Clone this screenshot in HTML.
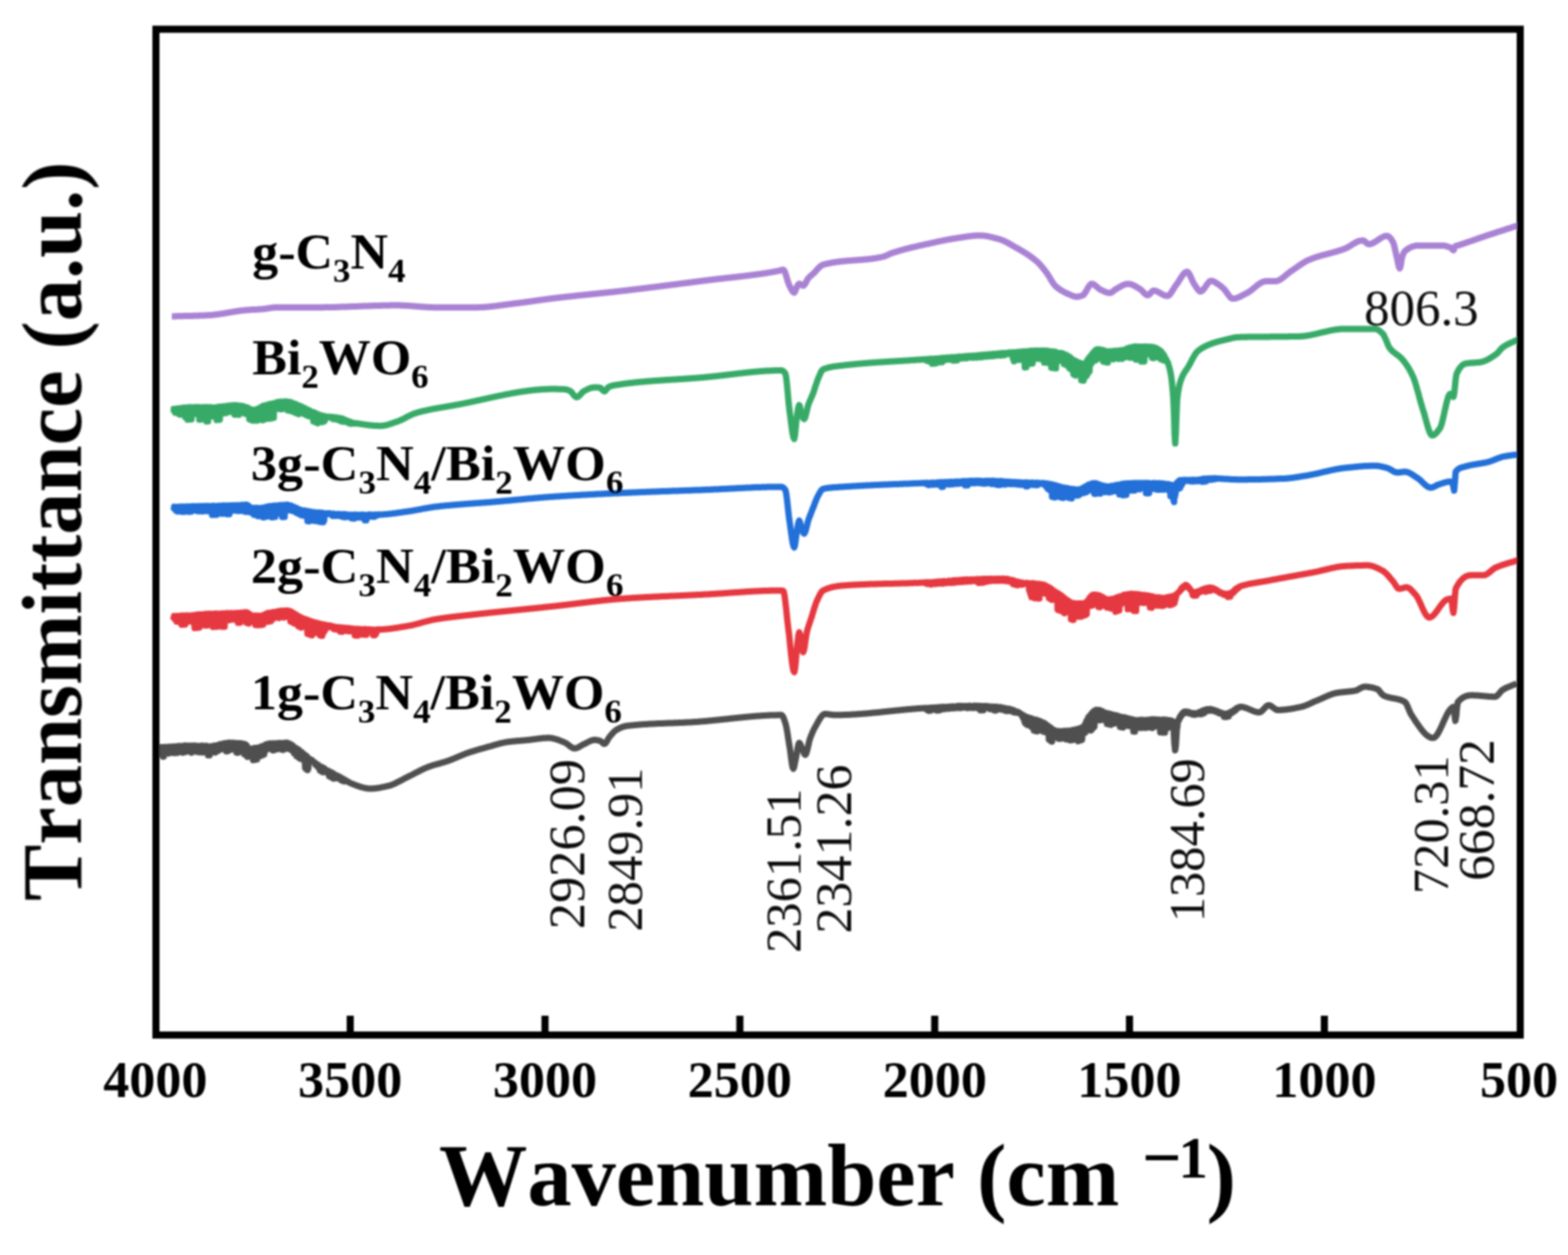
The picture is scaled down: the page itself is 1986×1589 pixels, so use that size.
<!DOCTYPE html>
<html><head><meta charset="utf-8"><title>FTIR spectra</title>
<style>
html,body{margin:0;padding:0;background:#fff;}
body{width:1986px;height:1589px;overflow:hidden;}
svg{display:block;}
#fig{width:1986px;height:1589px;}
text{font-kerning:none;}
</style></head><body>
<div id="fig">
<svg width="1986" height="1589" viewBox="0 0 1986 1589">
<defs><filter id="soft" x="-2%" y="-2%" width="104%" height="104%"><feGaussianBlur stdDeviation="0.9"/></filter></defs>
<rect width="1986" height="1589" fill="#ffffff"/>
<g filter="url(#soft)">
<g fill="none" stroke-width="8" stroke-linejoin="round" stroke-linecap="butt">
<path d="M200.0 946.0L201.0 946.6L201.5 946.9L202.0 946.3L202.5 948.6L203.0 946.1L203.5 950.1L204.0 946.2L204.5 954.0L205.0 946.1L205.5 956.0L206.0 946.1L206.5 958.0L207.0 946.4L207.5 957.9L208.0 946.6L208.5 954.7L209.0 946.4L209.5 953.0L210.0 945.8L210.5 951.3L211.0 946.2L211.5 950.6L212.0 946.2L212.5 952.8L213.0 945.8L213.5 954.1L214.0 945.5L214.5 952.9L215.0 945.8L215.5 952.5L216.0 945.7L216.5 953.1L217.0 945.6L217.5 951.3L218.0 945.4L218.5 951.5L219.0 945.7L219.5 952.0L220.0 945.2L220.5 953.6L221.0 945.5L221.5 953.3L222.0 945.3L222.5 952.9L223.0 945.4L223.5 952.1L224.0 945.4L224.5 953.2L225.0 944.7L225.5 952.5L226.0 944.9L226.5 952.0L227.0 945.2L227.5 952.0L228.0 944.5L228.5 951.7L229.0 944.9L229.5 949.8L230.0 944.7L230.5 952.2L231.0 944.9L231.5 953.1L232.0 944.6L232.5 951.7L233.0 944.3L233.5 951.4L234.0 944.2L234.5 952.3L235.0 944.2L235.5 949.9L236.0 944.2L236.5 949.6L237.0 944.4L237.5 949.3L238.0 944.3L238.5 951.2L239.0 944.5L239.5 950.8L240.0 944.2L240.5 950.0L241.0 944.5L241.5 950.6L242.0 944.2L242.5 952.9L243.0 944.8L243.5 951.8L244.0 944.3L244.5 950.6L245.0 944.8L245.5 950.2L246.0 944.1L246.5 951.3L247.0 944.6L247.5 949.4L248.0 944.8L248.5 951.6L249.0 944.5L249.5 950.5L250.0 945.0L250.5 952.1L251.0 944.5L251.5 949.3L252.0 945.0L252.5 952.4L253.0 944.8L253.5 949.2L254.0 944.6L254.5 951.3L255.0 944.5L255.5 951.1L256.0 944.6L256.5 952.7L257.0 944.5L257.5 951.9L258.0 944.5L258.5 951.8L259.0 944.9L259.5 950.6L260.0 944.9L260.5 950.4L261.0 944.6L261.5 952.3L262.0 944.6L262.5 949.7L263.0 945.1L263.5 956.2L264.0 945.2L264.5 956.2L265.0 945.4L265.5 956.2L266.0 945.3L266.5 951.8L267.0 945.2L267.5 951.0L268.0 945.0L268.5 952.5L269.0 945.2L269.5 950.8L270.0 944.6L270.5 951.2L271.0 944.4L271.5 952.3L272.0 944.1L272.5 952.7L273.0 944.5L273.5 949.1L274.0 944.0L274.5 951.5L275.0 943.9L275.5 950.3L276.0 943.6L276.5 950.1L277.0 942.9L277.5 949.9L278.0 943.1L278.5 948.2L279.0 942.3L279.5 949.0L280.0 942.4L280.5 948.4L281.0 942.4L281.5 947.0L282.0 941.7L282.5 948.1L283.0 941.7L283.5 946.8L284.0 941.3L284.5 946.5L285.0 941.0L285.5 946.1L286.0 941.0L286.5 951.3L287.0 941.0L287.5 951.2L288.0 941.1L288.5 951.1L289.0 940.5L289.5 947.1L290.0 940.5L290.5 945.6L291.0 940.6L291.5 947.1L292.0 941.1L292.5 949.2L293.0 941.0L293.5 947.0L294.0 940.5L294.5 946.4L295.0 940.6L295.5 947.1L296.0 940.7L296.5 948.6L297.0 941.3L297.5 948.2L298.0 940.8L298.5 947.4L299.0 941.4L299.5 952.9L300.0 941.2L300.5 953.0L301.0 941.3L301.5 953.0L302.0 941.1L302.5 946.9L303.0 941.2L303.5 949.6L304.0 941.2L304.5 949.0L305.0 941.2L305.5 951.4L306.0 941.8L306.5 951.5L307.0 941.6L307.5 951.6L308.0 942.1L308.5 951.8L309.0 942.0L309.5 955.0L310.0 942.2L310.5 955.1L311.0 942.8L311.5 955.7L312.0 943.6L312.5 956.8L313.0 945.1L313.5 958.3L314.0 946.9L314.5 951.3L315.0 947.8L315.5 954.4L316.0 948.2L316.5 953.0L317.0 947.9L317.5 956.5L318.0 948.3L318.5 955.7L319.0 948.3L319.5 952.7L320.0 948.2L320.5 962.4L321.0 947.4L321.5 962.3L322.0 947.3L322.5 962.1L323.0 947.0L323.5 961.9L324.0 947.1L324.5 961.8L325.0 947.0L325.5 961.6L326.0 946.9L326.5 952.4L327.0 946.9L327.5 951.5L328.0 946.2L328.5 957.6L329.0 946.3L329.5 957.3L330.0 946.1L330.5 957.0L331.0 945.2L331.5 956.6L332.0 944.9L332.5 956.1L333.0 944.4L333.5 955.7L334.0 944.2L334.5 955.2L335.0 943.9L335.5 951.8L336.0 943.3L336.5 948.3L337.0 942.5L337.5 948.3L338.0 942.3L338.5 948.2L339.0 942.3L339.5 948.3L340.0 942.2L340.5 947.0L341.0 941.5L341.5 946.6L342.0 941.4L342.5 948.1L343.0 941.5L343.5 946.6L344.0 941.7L344.5 948.3L345.0 941.4L345.5 949.9L346.0 941.3L346.5 949.9L347.0 941.3L347.5 947.7L348.0 941.4L348.5 947.1L349.0 941.4L349.5 948.9L350.0 941.6L350.5 947.4L351.0 941.0L351.5 947.7L352.0 941.1L352.5 945.7L353.0 940.8L353.5 947.2L354.0 941.0L354.5 945.7L355.0 941.2L355.5 948.8L356.0 941.3L356.5 948.7L357.0 940.8L357.5 948.8L358.0 941.1L358.5 949.4L359.0 940.9L359.5 948.8L360.0 940.7L360.5 947.5L361.0 940.6L361.5 948.0L362.0 940.8L362.5 946.0L363.0 940.6L363.5 947.4L364.0 940.6L364.5 946.0L365.0 941.2L365.5 947.1L366.0 941.8L366.5 948.5L367.0 941.7L367.5 947.6L368.0 942.5L368.5 949.3L369.0 943.2L369.5 949.0L370.0 943.6L370.5 950.6L371.0 944.6L371.5 950.7L372.0 945.6L372.5 953.8L373.0 946.4L373.5 951.8L374.0 947.0L374.5 953.0L375.0 947.2L375.5 957.2L376.0 948.3L376.5 957.9L377.0 948.9L377.5 958.6L378.0 949.1L378.5 959.3L379.0 950.2L379.5 960.0L380.0 951.2L380.5 960.8L381.0 952.1L381.5 957.5L382.0 952.3L382.5 959.5L383.0 953.1L383.5 958.1L384.0 954.4L384.5 960.1L385.0 955.1L385.5 963.4L386.0 956.1L386.5 972.4L387.0 956.6L387.5 973.3L388.0 957.3L388.5 974.1L389.0 958.2L389.5 975.0L390.0 959.5L390.5 973.0L391.0 960.5L391.5 963.2L392.0 961.1L392.5 964.1L393.0 961.3L393.5 963.9L394.0 962.4L394.5 963.5L395.0 962.9L395.5 962.7L395.9 963.8L396.4 963.7L396.9 964.4L397.4 964.8L397.9 964.9L398.4 965.8L398.9 965.6L399.4 967.9L399.8 966.1L400.3 967.9L400.8 967.4L401.3 969.4L401.8 967.8L402.3 970.8L402.8 968.1L403.3 971.5L403.7 969.1L404.2 972.4L404.7 969.9L405.2 975.3L405.7 970.4L406.2 975.9L406.7 971.0L407.2 976.5L407.6 971.3L408.1 977.1L408.6 971.8L409.1 977.7L409.6 972.8L410.1 975.9L410.6 972.8L411.1 976.7L411.5 974.2L412.0 976.2L412.5 974.7L413.0 976.7L413.5 975.1L414.0 978.1L414.5 975.5L415.0 978.3L415.4 975.7L415.9 979.1L416.4 976.4L416.9 982.7L417.4 977.0L417.9 983.2L418.4 977.9L418.9 983.7L419.3 977.9L419.8 984.3L420.3 978.3L420.8 984.8L421.3 978.9L421.8 985.3L422.3 979.7L422.8 985.8L423.3 980.3L423.8 982.8L424.2 980.6L424.7 983.7L425.2 981.2L425.7 983.3L426.2 981.8L426.7 985.3L427.2 982.0L427.7 984.9L428.2 982.7L428.7 985.6L429.1 983.0L429.6 985.9L430.1 983.4L430.6 986.2L431.1 984.2L431.6 986.1L432.1 984.6L432.6 988.2L433.0 985.4L433.5 988.3L434.0 986.2L434.5 988.0L435.0 986.1L435.5 989.1L436.0 987.0L436.5 989.1L437.0 987.9L437.5 989.1L438.0 987.9L438.5 989.2L439.0 989.3L439.5 989.1L440.0 989.2L441.0 989.9L442.0 990.5L443.0 991.1L444.0 991.6L445.0 992.0L446.0 992.4L447.0 992.8L447.9 993.1L448.9 993.5L449.9 993.9L450.9 994.3L451.9 994.6L452.8 995.0L453.8 995.3L454.8 995.7L455.8 996.0L456.8 996.3L457.7 996.6L458.7 996.9L459.7 997.1L460.7 997.4L461.7 997.6L462.6 997.8L463.6 998.0L464.6 998.1L465.6 998.3L466.6 998.4L467.5 998.4L468.5 998.5L469.5 998.5L470.5 998.5L471.5 998.5L472.4 998.4L473.4 998.3L474.4 998.3L475.4 998.2L476.3 998.1L477.3 997.9L478.3 997.8L479.3 997.6L480.3 997.5L481.2 997.3L482.2 997.1L483.2 996.9L484.2 996.7L485.2 996.5L486.1 996.3L487.1 996.1L488.1 995.9L489.1 995.7L490.0 995.5L491.0 995.2L492.0 995.0L493.0 994.8L494.0 994.5L495.0 994.2L496.0 993.8L497.0 993.4L498.0 993.0L499.0 992.6L500.0 992.2L501.0 991.7L502.0 991.2L503.0 990.7L504.0 990.2L505.0 989.7L506.0 989.2L507.0 988.6L508.0 988.1L509.0 987.6L510.0 987.0L511.0 986.5L512.0 985.9L513.0 985.4L514.0 984.9L515.0 984.4L516.0 983.9L517.0 983.4L518.0 982.9L519.0 982.4L519.9 982.0L520.9 981.5L521.9 981.0L522.9 980.5L523.9 980.0L524.8 979.4L525.8 978.9L526.8 978.4L527.8 977.9L528.8 977.4L529.8 976.9L530.7 976.4L531.7 975.9L532.7 975.4L533.7 974.9L534.7 974.4L535.6 973.9L536.6 973.5L537.6 973.0L538.6 972.6L539.6 972.2L540.5 971.8L541.5 971.4L542.5 971.0L543.5 970.6L544.4 970.3L545.4 970.0L546.4 969.6L547.3 969.3L548.3 969.0L549.3 968.7L550.2 968.4L551.2 968.2L552.2 967.9L553.1 967.6L554.1 967.3L555.0 967.1L556.0 966.8L557.0 966.5L557.9 966.3L558.9 966.0L559.9 965.7L560.8 965.4L561.8 965.1L562.8 964.9L563.7 964.6L564.7 964.3L565.7 963.9L566.6 963.6L567.6 963.3L568.6 963.0L569.5 962.6L570.5 962.2L571.5 961.9L572.4 961.5L573.4 961.1L574.4 960.7L575.4 960.3L576.3 959.9L577.3 959.5L578.3 959.1L579.2 958.6L580.2 958.2L581.2 957.8L582.1 957.4L583.1 957.0L584.1 956.6L585.0 956.2L586.0 955.8L587.0 955.4L588.0 955.0L588.9 954.6L589.9 954.2L590.9 953.9L591.8 953.5L592.8 953.2L593.8 952.9L594.7 952.5L595.7 952.2L596.7 951.9L597.6 951.6L598.6 951.3L599.6 951.0L600.6 950.7L601.5 950.4L602.5 950.1L603.5 949.8L604.4 949.5L605.4 949.2L606.4 949.0L607.3 948.7L608.3 948.4L609.3 948.1L610.2 947.8L611.2 947.6L612.2 947.3L613.2 947.0L614.1 946.8L615.1 946.5L616.1 946.2L617.0 946.0L618.0 945.7L619.0 945.4L620.0 945.1L621.0 944.9L622.0 944.6L623.0 944.3L624.0 944.0L625.0 943.7L626.0 943.4L627.0 943.1L628.0 942.8L629.0 942.5L630.0 942.3L631.0 942.0L632.0 941.7L633.0 941.5L634.0 941.2L635.0 941.0L636.0 940.7L637.0 940.5L638.0 940.3L639.0 940.1L640.0 939.9L641.0 939.7L642.0 939.5L643.0 939.4L644.0 939.3L645.0 939.1L646.0 939.0L647.0 938.9L648.0 938.8L649.0 938.7L650.0 938.6L651.0 938.5L652.0 938.4L653.0 938.3L654.0 938.2L655.0 938.1L656.0 938.0L657.0 937.9L658.0 937.9L659.0 937.8L660.0 937.7L661.0 937.6L662.0 937.5L663.0 937.5L664.0 937.4L665.0 937.3L666.0 937.2L667.0 937.1L668.0 937.0L669.0 936.9L670.0 936.8L671.0 936.7L672.0 936.6L673.0 936.4L674.0 936.3L675.0 936.2L676.0 936.0L677.0 935.9L678.0 935.8L679.0 935.6L680.0 935.5L681.0 935.4L682.0 935.3L683.0 935.1L684.0 935.0L685.0 934.9L686.0 934.8L687.0 934.7L688.0 934.6L689.0 934.5L690.0 934.5L691.0 934.4L692.0 934.4L693.0 934.3L694.0 934.3L695.0 934.3L696.0 934.3L697.0 934.4L698.0 934.5L699.0 934.6L700.0 934.8L701.0 935.0L702.0 935.3L703.0 935.6L704.0 935.8L705.0 936.2L706.0 936.5L707.0 936.9L708.0 937.2L709.0 937.6L710.0 938.0L711.0 938.4L712.0 938.8L713.0 939.2L714.0 939.6L715.0 940.0L716.0 940.5L717.0 941.0L718.0 941.7L718.9 942.4L719.9 943.2L720.9 944.0L721.9 944.8L722.9 945.5L723.9 946.1L724.8 946.7L725.8 947.1L726.8 947.4L727.8 947.5L728.7 947.4L729.7 947.3L730.6 947.0L731.6 946.6L732.5 946.2L733.4 945.7L734.4 945.1L735.3 944.6L736.2 944.0L737.2 943.5L738.1 942.9L739.1 942.4L740.0 942.0L741.0 941.6L742.0 941.1L743.0 940.5L744.0 940.0L745.0 939.5L746.0 939.0L747.0 938.5L748.0 938.0L749.0 937.6L750.0 937.3L751.0 937.0L752.0 936.9L753.0 936.8L754.0 936.8L755.0 936.9L756.0 937.1L757.0 937.3L758.0 937.5L759.0 937.7L760.0 938.0L760.9 938.5L761.9 939.2L762.8 940.1L763.7 940.9L764.7 941.6L765.6 941.8L766.5 941.4L767.4 940.5L768.3 939.1L769.3 937.5L770.2 935.8L771.1 934.3L772.0 933.0L773.0 931.9L773.9 930.7L774.9 929.6L775.9 928.5L776.8 927.4L777.8 926.5L778.8 925.6L779.7 924.8L780.7 924.2L781.7 923.6L782.6 923.1L783.6 922.6L784.6 922.1L785.5 921.6L786.5 921.2L787.5 920.8L788.5 920.4L789.4 920.1L790.4 919.8L791.4 919.5L792.3 919.3L793.3 919.2L794.3 919.1L795.3 919.0L796.3 918.8L797.3 918.7L798.2 918.6L799.2 918.5L800.2 918.4L801.2 918.3L802.2 918.2L803.2 918.1L804.2 918.0L805.2 917.9L806.2 917.8L807.2 917.7L808.1 917.7L809.1 917.6L810.1 917.5L811.1 917.4L812.1 917.3L813.1 917.3L814.1 917.2L815.1 917.1L816.1 917.1L817.1 917.0L818.0 916.9L819.0 916.9L820.0 916.8L821.0 916.7L822.0 916.7L823.0 916.6L824.0 916.6L825.0 916.5L826.0 916.5L827.0 916.4L827.9 916.4L828.9 916.3L829.9 916.3L830.9 916.2L831.9 916.2L832.9 916.1L833.9 916.1L834.9 916.1L835.9 916.0L836.9 916.0L837.8 915.9L838.8 915.9L839.8 915.9L840.8 915.8L841.8 915.8L842.8 915.7L843.8 915.7L844.8 915.7L845.8 915.6L846.8 915.6L847.7 915.6L848.7 915.5L849.7 915.5L850.7 915.5L851.7 915.4L852.7 915.4L853.7 915.3L854.7 915.3L855.7 915.3L856.7 915.2L857.6 915.2L858.6 915.2L859.6 915.1L860.6 915.1L861.6 915.0L862.6 915.0L863.6 915.0L864.6 914.9L865.6 914.9L866.6 914.8L867.5 914.8L868.5 914.7L869.5 914.7L870.5 914.6L871.5 914.6L872.5 914.5L873.5 914.5L874.5 914.4L875.5 914.4L876.5 914.3L877.4 914.3L878.4 914.2L879.4 914.1L880.4 914.1L881.4 914.0L882.4 913.9L883.4 913.9L884.4 913.8L885.4 913.7L886.4 913.6L887.4 913.6L888.4 913.5L889.3 913.4L890.3 913.3L891.3 913.2L892.3 913.2L893.3 913.1L894.3 913.0L895.3 912.9L896.3 912.8L897.3 912.7L898.3 912.6L899.3 912.5L900.3 912.4L901.3 912.3L902.3 912.2L903.3 912.1L904.3 912.0L905.2 911.9L906.2 911.8L907.2 911.7L908.2 911.6L909.2 911.5L910.2 911.4L911.2 911.3L912.2 911.2L913.2 911.1L914.2 911.0L915.2 910.9L916.2 910.8L917.2 910.7L918.2 910.6L919.2 910.5L920.1 910.4L921.1 910.3L922.1 910.2L923.1 910.1L924.1 909.9L925.1 909.8L926.1 909.7L927.1 909.6L928.1 909.5L929.1 909.4L930.1 909.3L931.1 909.2L932.1 909.1L933.1 909.0L934.1 908.9L935.1 908.8L936.0 908.7L937.0 908.6L938.0 908.5L939.0 908.4L940.0 908.3L941.0 908.2L942.0 908.1L943.0 908.0L944.0 907.9L945.0 907.8L946.0 907.7L947.0 907.6L948.0 907.5L949.0 907.4L950.0 907.3L951.0 907.2L951.9 907.2L952.9 907.1L953.9 907.0L954.9 906.9L955.9 906.8L956.9 906.7L957.9 906.7L958.9 906.6L959.9 906.5L960.9 906.4L961.9 906.4L962.9 906.3L963.9 906.2L964.9 906.2L965.9 906.1L966.8 906.0L967.8 906.0L968.8 905.9L969.8 905.9L970.8 905.8L971.8 905.8L972.8 905.7L973.8 905.7L974.8 905.6L975.8 905.6L976.8 905.5L977.8 905.5L978.8 905.5L979.8 905.5L980.8 905.4L981.8 905.4L982.7 905.4L983.7 905.4L984.7 905.3L985.7 905.3L986.7 905.3L987.7 905.3L988.7 905.3L989.7 905.3L990.7 905.9L991.7 907.4L992.7 909.7L993.7 912.5L994.7 915.4L995.6 918.7L996.5 923.1L997.4 928.4L998.2 934.0L999.1 939.6L1000.0 945.0L1001.0 951.5L1001.9 958.9L1002.9 966.0L1003.8 971.2L1004.8 973.3L1005.6 971.9L1006.4 968.4L1007.2 964.0L1008.0 960.0L1008.9 955.6L1009.7 950.5L1010.6 945.6L1011.4 942.0L1012.3 940.6L1013.2 941.4L1014.1 943.4L1015.1 945.8L1016.0 948.0L1017.0 950.3L1018.0 952.8L1018.9 954.9L1019.9 955.7L1020.8 954.8L1021.6 952.6L1022.5 949.3L1023.4 945.5L1024.3 941.5L1025.1 937.9L1026.0 935.0L1026.9 932.5L1027.9 930.2L1028.8 928.0L1029.7 925.8L1030.6 923.9L1031.6 922.1L1032.5 920.4L1033.5 918.7L1034.4 917.0L1035.4 915.3L1036.3 913.6L1037.3 911.9L1038.3 910.3L1039.2 908.8L1040.2 907.5L1041.2 906.3L1042.1 905.3L1043.1 904.6L1044.0 904.2L1045.0 904.0L1046.0 904.0L1046.9 904.1L1047.9 904.2L1048.9 904.3L1049.8 904.4L1050.8 904.6L1051.8 904.7L1052.8 904.9L1053.7 905.0L1054.7 905.1L1055.7 905.2L1056.6 905.3L1057.6 905.3L1058.6 905.3L1059.6 905.3L1060.6 905.3L1061.6 905.3L1062.6 905.3L1063.6 905.2L1064.6 905.2L1065.6 905.2L1066.6 905.2L1067.5 905.2L1068.5 905.1L1069.5 905.1L1070.5 905.1L1071.5 905.0L1072.5 905.0L1073.5 904.9L1074.5 904.9L1075.5 904.9L1076.5 904.8L1077.5 904.8L1078.5 904.7L1079.5 904.6L1080.5 904.6L1081.5 904.5L1082.5 904.5L1083.5 904.4L1084.5 904.3L1085.5 904.3L1086.4 904.2L1087.4 904.1L1088.4 904.1L1089.4 904.0L1090.4 903.9L1091.4 903.8L1092.4 903.8L1093.4 903.7L1094.4 903.6L1095.4 903.5L1096.4 903.4L1097.4 903.4L1098.4 903.3L1099.4 903.2L1100.4 903.1L1101.4 903.0L1102.4 902.9L1103.4 902.8L1104.4 902.7L1105.3 902.6L1106.3 902.5L1107.3 902.4L1108.3 902.3L1109.3 902.2L1110.3 902.2L1111.3 902.1L1112.3 902.0L1113.3 901.9L1114.3 901.8L1115.3 901.7L1116.3 901.6L1117.3 901.4L1118.3 901.3L1119.3 901.2L1120.3 901.1L1121.3 901.0L1122.3 900.9L1123.2 900.8L1124.2 900.7L1125.2 900.6L1126.2 900.5L1127.2 900.4L1128.2 900.3L1129.2 900.2L1130.2 900.1L1131.2 900.0L1132.2 899.9L1133.2 899.8L1134.2 899.7L1135.2 899.6L1136.2 899.5L1137.2 899.4L1138.2 899.3L1139.2 899.2L1140.2 899.1L1141.2 899.0L1142.1 898.9L1143.1 898.8L1144.1 898.7L1145.1 898.6L1146.1 898.5L1147.1 898.4L1148.1 898.3L1149.1 898.2L1150.1 898.1L1151.1 898.0L1152.1 898.0L1153.1 897.9L1154.1 897.8L1155.1 897.7L1156.1 897.6L1157.1 897.5L1158.1 897.5L1159.1 897.4L1160.1 897.3L1161.0 897.2L1162.0 897.1L1163.0 897.1L1164.0 897.0L1165.0 896.9L1166.0 896.9L1167.0 896.8L1168.0 896.7L1169.0 896.7L1170.0 896.6L1171.0 896.9L1171.5 897.0L1172.0 897.0L1172.5 897.3L1173.0 896.4L1173.5 898.3L1174.0 896.6L1174.5 898.8L1175.0 897.0L1175.5 899.4L1176.0 896.7L1176.5 900.0L1177.0 896.2L1177.5 899.9L1178.0 896.7L1178.5 899.8L1179.0 896.8L1179.5 898.9L1180.0 896.0L1180.5 898.9L1181.0 896.6L1181.5 898.4L1182.0 896.3L1182.5 897.5L1183.0 896.1L1183.5 898.4L1184.0 896.2L1184.5 898.1L1185.0 895.9L1185.5 897.9L1186.0 895.7L1186.5 899.6L1187.0 896.1L1187.5 899.5L1188.0 895.7L1188.5 899.5L1189.0 895.5L1189.5 899.4L1190.0 895.5L1190.5 899.3L1191.0 895.6L1191.5 897.2L1192.0 895.5L1192.5 897.4L1193.0 895.7L1193.5 897.0L1194.0 895.4L1194.5 897.8L1195.0 895.0L1195.5 897.9L1196.0 895.3L1196.5 897.8L1197.0 895.3L1197.5 897.1L1198.0 895.4L1198.5 897.4L1199.0 895.3L1199.5 897.2L1200.0 895.1L1200.5 896.4L1201.0 895.0L1201.5 897.1L1202.0 894.7L1202.5 897.3L1203.0 894.9L1203.5 896.5L1204.0 894.8L1204.5 896.8L1205.0 894.8L1205.5 896.3L1206.0 894.6L1206.5 896.1L1207.0 894.4L1207.5 896.9L1208.0 894.8L1208.5 895.9L1209.0 894.8L1209.5 896.4L1210.0 894.6L1210.5 896.5L1211.0 894.6L1211.5 896.4L1212.0 894.4L1212.5 895.7L1213.0 894.3L1213.5 896.2L1214.0 893.9L1214.5 895.7L1215.0 893.8L1215.5 896.4L1216.0 894.4L1216.5 895.7L1217.0 894.1L1217.5 896.4L1218.0 893.9L1218.5 896.1L1219.0 894.2L1219.5 895.6L1220.0 894.0L1220.5 895.7L1221.0 894.2L1221.5 895.3L1222.0 894.3L1222.5 895.5L1223.0 894.2L1223.5 895.3L1224.0 893.9L1224.5 896.0L1225.0 894.3L1225.5 896.5L1226.0 894.2L1226.5 896.3L1227.0 894.0L1227.5 895.8L1228.0 893.6L1228.5 895.4L1229.0 894.3L1229.5 895.9L1230.0 894.1L1230.5 896.2L1231.0 894.2L1231.5 895.5L1232.0 894.1L1232.5 896.0L1233.0 893.7L1233.5 896.4L1234.0 893.7L1234.5 895.6L1235.0 893.6L1235.5 895.5L1236.0 894.1L1236.5 895.3L1237.0 893.7L1237.5 896.4L1238.0 894.1L1238.5 896.2L1239.0 893.8L1239.5 895.3L1240.0 894.2L1240.5 896.2L1241.0 893.9L1241.5 899.2L1242.0 894.0L1242.5 899.2L1243.0 894.1L1243.5 899.2L1244.0 894.0L1244.5 899.3L1245.0 894.3L1245.5 899.3L1246.0 894.5L1246.5 896.4L1247.0 894.0L1247.5 896.7L1248.0 894.3L1248.5 896.1L1249.0 894.2L1249.5 895.8L1250.0 894.1L1250.5 896.0L1251.0 894.6L1251.5 895.8L1252.0 894.3L1252.5 896.8L1253.0 894.7L1253.5 897.7L1254.0 894.7L1254.5 897.8L1255.0 894.7L1255.5 897.8L1256.0 894.8L1256.5 897.9L1257.0 895.0L1257.5 897.4L1258.0 894.7L1258.5 896.9L1259.0 895.3L1259.5 899.4L1260.0 895.1L1260.5 899.5L1261.0 895.2L1261.5 899.6L1262.0 894.8L1262.5 897.3L1263.0 895.5L1263.5 897.8L1264.0 895.4L1264.5 897.9L1265.0 895.7L1265.5 897.4L1266.0 895.7L1266.5 897.9L1267.0 895.3L1267.5 897.3L1268.0 896.2L1268.5 898.4L1269.0 895.9L1269.5 897.4L1270.0 896.1L1270.5 898.7L1271.0 896.7L1271.5 897.9L1272.0 896.3L1272.5 898.0L1273.0 896.8L1273.5 899.9L1274.0 897.3L1274.5 900.1L1275.0 897.4L1275.5 900.3L1276.0 897.2L1276.5 899.8L1277.0 897.9L1277.5 899.6L1278.0 897.6L1278.5 899.9L1279.0 898.2L1279.5 900.0L1280.0 897.9L1280.5 900.5L1281.0 898.7L1281.5 900.4L1282.0 898.6L1282.5 900.3L1283.0 899.3L1283.5 900.7L1284.0 899.2L1284.5 901.9L1285.0 899.6L1285.5 901.0L1286.0 900.5L1286.5 901.8L1287.0 900.7L1287.5 902.2L1288.0 901.4L1288.5 902.4L1289.0 901.5L1289.5 902.1L1290.0 901.7L1290.5 902.4L1291.0 902.4L1291.5 902.7L1292.0 902.8L1293.0 904.0L1293.5 905.2L1294.0 904.6L1294.5 906.1L1295.0 905.0L1295.5 908.7L1296.0 905.6L1296.5 909.6L1297.0 905.9L1297.5 913.4L1298.0 907.1L1298.5 915.8L1299.0 907.6L1299.5 915.0L1300.0 907.8L1300.5 917.2L1301.0 908.0L1301.5 918.1L1302.0 908.6L1302.5 915.8L1303.0 908.7L1303.5 914.6L1304.0 909.5L1304.5 916.9L1305.0 909.4L1305.5 919.0L1306.0 909.6L1306.5 920.5L1307.0 910.3L1307.5 919.7L1308.0 910.5L1308.5 920.0L1309.0 911.1L1309.5 924.9L1310.0 910.9L1310.5 925.2L1311.0 911.5L1311.5 925.5L1312.0 911.3L1312.5 925.8L1313.0 912.3L1313.5 926.1L1314.0 912.5L1314.5 922.3L1315.0 912.3L1315.5 918.6L1316.0 912.7L1316.5 924.2L1317.0 913.2L1317.5 924.5L1318.0 913.4L1318.5 924.9L1319.0 914.3L1319.5 925.3L1320.0 914.4L1320.5 925.7L1321.0 915.3L1321.5 926.3L1322.0 915.3L1322.5 926.8L1323.0 915.9L1323.5 923.8L1324.0 916.6L1324.5 924.0L1325.0 917.5L1325.5 924.0L1326.0 918.6L1326.5 927.0L1327.0 919.0L1327.5 929.3L1328.0 919.5L1328.5 936.1L1329.0 920.5L1329.5 936.8L1330.0 921.0L1330.5 937.5L1331.0 922.3L1331.5 938.3L1332.0 922.6L1332.5 938.9L1333.0 923.6L1333.5 930.1L1334.0 924.2L1334.5 933.9L1335.0 924.6L1335.5 933.3L1336.0 924.7L1336.5 930.7L1337.0 925.6L1337.5 931.4L1338.0 925.8L1338.5 931.9L1339.0 926.1L1339.5 934.0L1340.0 925.8L1340.5 935.2L1341.0 926.2L1341.5 933.3L1342.0 925.8L1342.5 935.6L1343.0 926.0L1343.5 935.2L1344.0 926.5L1344.5 933.2L1345.0 925.7L1345.5 933.8L1346.0 926.4L1346.5 934.2L1347.0 926.3L1347.5 934.7L1348.0 925.6L1348.5 934.6L1349.0 925.6L1349.5 935.9L1350.0 925.9L1350.5 932.6L1351.0 925.5L1351.5 936.2L1352.0 925.4L1352.5 931.8L1353.0 925.4L1353.5 934.5L1354.0 925.2L1354.5 934.0L1355.0 925.6L1355.5 937.4L1356.0 925.4L1356.5 937.3L1357.0 925.1L1357.5 937.1L1358.0 924.5L1358.5 937.0L1359.0 924.4L1359.5 931.4L1360.0 924.5L1360.5 933.9L1361.0 924.2L1361.5 930.6L1362.0 923.8L1362.5 933.4L1363.0 923.5L1363.5 931.9L1364.0 923.9L1364.5 931.6L1365.0 923.1L1365.5 938.4L1366.0 922.8L1366.5 938.1L1367.0 922.9L1367.5 937.8L1368.0 922.4L1368.5 937.4L1369.0 921.9L1369.5 937.1L1370.0 921.3L1370.5 936.7L1371.0 921.4L1371.5 930.1L1372.0 920.4L1372.5 927.9L1373.0 919.2L1373.5 926.7L1374.0 917.8L1374.5 927.7L1375.0 915.8L1375.5 924.5L1376.0 913.1L1376.5 921.9L1377.0 911.6L1377.5 921.8L1378.0 909.6L1378.5 916.7L1379.0 907.4L1379.5 915.1L1380.0 906.8L1380.5 913.2L1381.0 905.7L1381.5 924.8L1381.9 904.5L1382.4 923.8L1382.8 903.2L1383.3 922.7L1383.8 902.5L1384.3 921.8L1384.8 901.1L1385.2 920.9L1385.7 900.7L1386.2 920.0L1386.7 899.7L1387.2 907.5L1387.6 899.6L1388.1 905.9L1388.5 898.8L1389.0 911.8L1389.5 899.3L1390.0 911.7L1390.4 899.1L1390.9 911.7L1391.4 899.6L1391.9 911.8L1392.3 899.1L1392.8 912.1L1393.2 899.4L1393.7 906.3L1394.2 899.7L1394.7 907.0L1395.1 900.3L1395.6 908.5L1396.0 900.5L1396.5 908.0L1396.9 901.5L1397.4 911.5L1397.9 901.9L1398.4 909.1L1398.8 902.2L1399.3 911.4L1399.7 902.2L1400.2 911.0L1400.7 902.9L1401.2 911.2L1401.6 903.1L1402.1 916.5L1402.6 903.4L1403.1 916.8L1403.5 903.2L1404.0 917.0L1404.5 904.2L1405.0 917.3L1405.5 903.8L1406.0 917.6L1406.5 904.1L1407.0 917.8L1407.4 904.5L1407.9 912.6L1408.4 905.0L1408.9 910.8L1409.4 904.9L1409.9 911.5L1410.3 905.7L1410.8 913.0L1411.3 905.3L1411.8 916.0L1412.3 905.9L1412.8 912.3L1413.3 905.7L1413.8 914.6L1414.2 906.2L1414.7 912.2L1415.2 906.7L1415.7 915.2L1416.2 906.5L1416.7 915.8L1417.1 907.3L1417.6 913.3L1418.1 907.2L1418.6 920.3L1419.1 907.6L1419.6 920.6L1420.1 907.7L1420.6 920.8L1421.0 908.3L1421.5 921.0L1422.0 908.5L1422.5 921.2L1423.0 908.3L1423.5 915.5L1424.0 908.3L1424.5 918.8L1425.0 908.7L1425.5 914.6L1426.0 909.3L1426.5 918.3L1427.0 909.0L1427.5 918.5L1428.0 909.7L1428.5 917.7L1429.0 910.2L1429.5 919.3L1430.0 910.4L1430.5 919.1L1431.0 910.1L1431.5 916.5L1432.0 910.5L1432.5 919.5L1433.0 911.2L1433.5 919.8L1434.0 910.8L1434.5 920.7L1435.0 911.2L1435.5 926.0L1436.0 911.5L1436.5 926.2L1437.0 911.7L1437.5 926.3L1438.0 911.9L1438.5 921.1L1439.0 911.7L1439.5 920.9L1440.0 912.1L1440.5 918.7L1441.0 911.9L1441.5 920.3L1442.0 912.2L1442.5 918.6L1443.0 911.7L1443.5 921.2L1444.0 911.7L1444.5 921.7L1445.0 911.8L1445.5 921.4L1446.0 911.7L1446.5 919.9L1447.0 911.6L1447.5 917.9L1448.0 912.1L1448.5 921.6L1449.0 911.9L1449.5 921.5L1450.0 911.7L1450.5 921.5L1451.0 911.9L1451.5 921.4L1452.0 911.8L1452.5 921.3L1453.0 911.4L1453.5 921.2L1454.0 911.8L1454.5 920.9L1455.0 911.4L1455.5 920.8L1456.0 911.3L1456.5 920.7L1457.0 911.5L1457.5 920.7L1458.0 911.2L1458.5 921.3L1459.0 910.8L1459.5 921.8L1460.0 911.3L1460.5 919.3L1461.0 911.1L1461.5 916.9L1462.0 910.8L1462.5 918.7L1463.0 910.9L1463.5 919.7L1464.0 911.3L1464.5 917.9L1465.0 911.2L1465.5 919.5L1466.0 911.3L1466.5 917.9L1467.0 911.4L1467.5 919.1L1468.0 911.2L1468.5 917.6L1469.0 911.4L1469.5 927.2L1470.0 911.7L1470.5 927.2L1471.0 911.5L1471.5 927.3L1472.0 911.4L1472.5 927.4L1473.0 911.3L1473.5 927.4L1474.0 911.3L1474.5 927.5L1475.0 911.5L1475.5 927.6L1476.0 911.6L1476.5 919.7L1477.0 911.6L1477.5 920.8L1478.0 911.8L1478.5 921.4L1479.0 911.7L1479.5 921.6L1480.0 912.1L1480.5 918.5L1480.9 912.0L1481.4 920.6L1481.8 912.4L1482.3 917.7L1482.8 912.6L1483.2 918.0L1483.7 912.6L1484.2 915.0L1484.6 912.8L1485.1 914.6L1485.5 913.5L1486.0 913.6L1486.5 922.8L1487.4 940.5L1488.4 950.0L1489.2 944.8L1490.0 933.0L1490.7 921.2L1491.2 921.0L1491.5 914.3L1492.0 914.5L1492.5 911.9L1493.0 912.2L1493.4 909.7L1493.9 910.5L1494.4 908.1L1494.9 908.7L1495.3 906.3L1495.8 907.2L1496.3 905.2L1496.8 905.7L1497.2 903.7L1497.7 904.8L1498.2 902.9L1498.7 903.6L1499.1 901.7L1499.6 903.4L1500.1 901.3L1500.6 902.3L1501.0 901.1L1501.5 902.2L1502.0 901.3L1502.5 902.2L1503.0 901.2L1503.5 902.4L1504.0 901.4L1504.5 902.1L1505.0 901.6L1505.5 902.4L1506.0 901.6L1506.5 903.2L1507.0 902.3L1507.5 903.4L1508.0 902.5L1508.5 903.8L1509.0 903.3L1509.5 904.0L1510.0 903.4L1510.5 904.7L1511.0 903.3L1511.5 904.6L1512.0 903.2L1512.5 904.2L1513.0 903.2L1513.5 905.0L1514.0 903.3L1514.5 904.4L1514.9 903.4L1515.4 904.6L1515.9 903.3L1516.4 904.1L1516.9 903.0L1517.4 904.0L1517.9 902.4L1518.4 903.8L1518.8 901.7L1519.3 903.5L1519.8 901.5L1520.3 903.0L1520.8 901.3L1521.3 904.4L1521.8 900.6L1522.3 904.0L1522.7 900.7L1523.2 903.6L1523.7 899.9L1524.2 903.3L1524.7 899.4L1525.2 902.9L1525.7 899.0L1526.2 900.2L1526.6 899.2L1527.1 900.5L1527.6 898.6L1528.1 900.1L1528.6 898.1L1529.1 900.1L1529.6 898.6L1530.1 899.9L1530.5 898.1L1531.0 899.4L1531.5 898.1L1532.0 899.6L1532.5 897.8L1533.0 899.3L1533.5 897.8L1534.0 899.6L1534.4 898.4L1534.9 899.1L1535.4 898.7L1535.9 899.6L1536.3 898.6L1536.8 899.8L1537.3 898.8L1537.8 900.0L1538.3 899.4L1538.8 900.6L1539.2 899.3L1539.7 900.8L1540.2 900.2L1540.7 900.9L1541.2 900.5L1541.7 901.7L1542.1 901.1L1542.6 901.6L1543.1 901.0L1543.6 902.8L1544.0 902.0L1544.5 902.8L1545.0 901.9L1545.5 903.4L1546.0 902.5L1546.5 903.5L1546.9 902.4L1547.4 903.7L1547.9 903.0L1548.4 903.9L1548.9 903.1L1549.4 904.7L1549.8 903.6L1550.3 907.4L1550.8 904.1L1551.3 907.6L1551.7 904.3L1552.2 907.7L1552.7 904.2L1553.2 907.7L1553.7 903.6L1554.2 907.6L1554.7 903.6L1555.2 907.4L1555.7 903.1L1556.2 907.1L1556.6 902.7L1557.1 904.5L1557.6 902.2L1558.1 903.9L1558.6 902.3L1559.1 903.3L1559.6 901.0L1560.1 902.9L1560.6 900.8L1561.1 901.8L1561.6 900.4L1562.1 901.2L1562.5 899.8L1563.0 900.9L1563.5 898.7L1564.0 899.9L1564.5 898.4L1565.0 899.4L1565.5 897.5L1566.0 898.2L1566.5 896.5L1567.0 897.2L1567.5 896.6L1568.0 896.6L1568.4 895.8L1568.9 896.0L1569.4 896.0L1569.9 895.4L1570.4 895.1L1571.4 895.0L1572.4 895.0L1573.4 895.1L1574.4 895.3L1575.3 895.5L1576.3 895.8L1577.3 896.1L1578.3 896.4L1579.3 896.8L1580.2 897.2L1581.2 897.6L1582.2 898.0L1583.2 898.5L1584.2 898.9L1585.2 899.3L1586.2 899.7L1587.1 900.1L1588.1 900.5L1589.1 900.8L1590.1 901.1L1591.1 901.4L1592.0 901.6L1593.0 901.8L1594.0 901.9L1595.0 901.9L1596.0 901.7L1597.0 901.2L1598.0 900.5L1598.9 899.6L1599.9 898.6L1600.9 897.5L1601.9 896.3L1602.9 895.3L1603.8 894.4L1604.8 893.7L1605.8 893.2L1606.8 893.0L1607.8 893.1L1608.8 893.4L1609.8 893.9L1610.7 894.6L1611.7 895.3L1612.7 896.0L1613.7 896.7L1614.7 897.4L1615.6 898.1L1616.6 898.6L1617.6 898.9L1618.6 899.0L1619.6 899.0L1620.6 899.0L1621.5 898.9L1622.5 898.9L1623.5 898.8L1624.5 898.8L1625.5 898.7L1626.4 898.6L1627.4 898.5L1628.4 898.4L1629.4 898.3L1630.4 898.2L1631.3 898.1L1632.3 897.9L1633.3 897.8L1634.3 897.6L1635.3 897.5L1636.2 897.3L1637.2 897.1L1638.2 897.0L1639.2 896.8L1640.2 896.6L1641.1 896.4L1642.1 896.2L1643.1 896.0L1644.1 895.8L1645.1 895.6L1646.0 895.4L1647.0 895.2L1648.0 895.0L1649.0 894.8L1650.0 894.5L1651.0 894.2L1651.9 893.9L1652.9 893.5L1653.9 893.2L1654.9 892.8L1655.9 892.4L1656.9 891.9L1657.8 891.5L1658.8 891.1L1659.8 890.6L1660.8 890.1L1661.8 889.7L1662.8 889.2L1663.8 888.8L1664.7 888.3L1665.7 887.9L1666.7 887.5L1667.7 887.1L1668.7 886.7L1669.7 886.3L1670.6 885.9L1671.6 885.5L1672.6 885.0L1673.6 884.6L1674.6 884.2L1675.5 883.7L1676.5 883.3L1677.5 882.8L1678.5 882.4L1679.5 882.0L1680.5 881.5L1681.4 881.1L1682.4 880.7L1683.4 880.3L1684.4 879.9L1685.4 879.6L1686.3 879.2L1687.3 878.9L1688.3 878.5L1689.3 878.2L1690.3 878.0L1691.2 877.7L1692.2 877.5L1693.2 877.3L1694.2 877.1L1695.2 877.0L1696.1 876.8L1697.1 876.7L1698.1 876.6L1699.1 876.5L1700.1 876.4L1701.0 876.3L1702.0 876.2L1703.0 876.1L1704.0 876.0L1705.0 875.9L1705.9 875.8L1706.9 875.7L1707.9 875.6L1708.9 875.5L1709.8 875.4L1710.8 875.3L1711.8 875.2L1712.8 875.1L1713.8 874.9L1714.7 874.8L1715.7 874.6L1716.7 874.4L1717.7 874.1L1718.7 873.8L1719.7 873.3L1720.6 872.8L1721.6 872.2L1722.6 871.7L1723.6 871.1L1724.6 870.6L1725.5 870.2L1726.5 869.8L1727.5 869.6L1728.5 869.5L1729.5 869.5L1730.5 869.6L1731.4 869.6L1732.4 869.7L1733.4 869.8L1734.4 870.0L1735.4 870.1L1736.3 870.3L1737.3 870.5L1738.3 870.7L1739.3 870.9L1740.3 871.2L1741.3 871.5L1742.2 871.8L1743.2 872.1L1744.2 872.4L1745.2 872.9L1746.2 873.8L1747.1 874.9L1748.1 876.2L1749.1 877.4L1750.0 878.6L1751.0 879.6L1752.0 880.3L1753.0 880.8L1754.0 881.3L1755.0 881.7L1755.9 882.0L1756.9 882.3L1757.9 882.6L1758.9 882.9L1759.9 883.2L1760.9 883.4L1761.9 883.6L1762.8 883.8L1763.8 884.0L1764.8 884.1L1765.8 884.3L1766.8 884.5L1767.8 884.7L1768.8 884.9L1769.7 885.1L1770.7 885.3L1771.7 885.6L1772.7 885.9L1773.7 886.2L1774.7 886.6L1775.7 886.9L1776.6 887.4L1777.6 887.9L1778.6 888.4L1779.6 889.0L1780.6 890.0L1781.5 891.6L1782.5 893.7L1783.5 896.1L1784.5 898.5L1785.5 900.9L1786.4 903.1L1787.4 904.8L1788.4 906.3L1789.4 907.8L1790.4 909.2L1791.3 910.7L1792.3 912.2L1793.3 913.7L1794.3 915.2L1795.3 916.6L1796.3 918.0L1797.3 919.4L1798.2 920.8L1799.2 922.1L1800.2 923.4L1801.2 924.7L1802.2 925.9L1803.2 927.0L1804.2 928.1L1805.1 929.1L1806.1 930.0L1807.1 930.8L1808.1 931.6L1809.1 932.3L1810.1 932.9L1811.1 933.4L1812.0 933.8L1813.0 934.1L1814.0 934.2L1815.0 934.3L1816.0 934.1L1817.0 933.6L1818.0 932.9L1819.0 931.8L1820.0 930.5L1821.0 929.0L1822.0 927.3L1823.0 925.5L1824.0 923.5L1825.0 921.4L1826.0 919.2L1827.0 917.0L1828.0 914.7L1829.0 912.5L1830.0 910.3L1831.0 908.2L1832.0 906.1L1833.0 904.1L1834.0 902.3L1835.0 900.7L1836.0 899.2L1837.0 898.0L1838.0 897.0L1839.0 896.1L1840.0 895.3L1841.0 895.0L1841.8 899.6L1842.6 908.1L1843.4 912.7L1844.4 906.8L1845.4 895.7L1846.4 889.0L1847.4 887.9L1848.4 886.9L1849.3 886.0L1850.3 885.1L1851.3 884.4L1852.3 883.7L1853.2 883.1L1854.2 882.5L1855.2 882.1L1856.2 881.7L1857.2 881.3L1858.1 881.0L1859.1 880.8L1860.1 880.6L1861.1 880.5L1862.0 880.4L1863.0 880.3L1864.0 880.3L1865.0 880.3L1866.0 880.3L1867.0 880.4L1867.9 880.4L1868.9 880.4L1869.9 880.5L1870.9 880.6L1871.9 880.6L1872.8 880.7L1873.8 880.8L1874.8 880.9L1875.8 881.0L1876.8 881.1L1877.8 881.2L1878.8 881.2L1879.7 881.3L1880.7 881.4L1881.7 881.5L1882.7 881.6L1883.7 881.7L1884.7 881.8L1885.6 881.9L1886.6 881.9L1887.6 882.0L1888.6 882.1L1889.6 882.1L1890.5 882.1L1891.5 882.2L1892.5 882.2L1893.5 882.2L1894.5 882.0L1895.5 881.5L1896.4 880.7L1897.4 879.7L1898.4 878.6L1899.4 877.4L1900.4 876.2L1901.3 875.1L1902.3 874.1L1903.3 873.4L1904.3 872.8L1905.3 872.3L1906.2 871.7L1907.2 871.2L1908.2 870.8L1909.2 870.3L1910.2 869.9L1911.2 869.5L1912.2 869.1L1913.1 868.7L1914.1 868.3L1915.1 867.9L1916.1 867.5L1917.1 867.1L1918.0 866.7L1919.0 866.3L1920.0 865.9L1921.0 865.5" stroke="#505050"/>
<path d="M217.6 780.0L218.6 780.7L219.1 780.7L219.5 780.4L220.0 782.2L220.5 780.1L221.0 782.3L221.5 780.6L222.0 784.4L222.5 779.9L223.0 783.7L223.4 780.1L223.9 787.1L224.4 780.0L224.9 786.0L225.4 779.9L225.9 785.5L226.4 780.2L226.9 785.0L227.3 779.9L227.8 787.2L228.3 779.9L228.8 786.0L229.3 779.6L229.8 790.9L230.3 779.8L230.8 790.9L231.2 779.6L231.7 790.8L232.2 780.2L232.7 790.8L233.2 779.6L233.7 790.7L234.2 779.6L234.7 790.7L235.1 780.0L235.6 788.2L236.1 779.9L236.6 786.5L237.1 779.3L237.6 786.2L238.1 779.9L238.6 786.2L239.0 779.5L239.5 784.3L240.0 779.7L240.5 786.8L241.0 779.4L241.5 786.6L242.0 779.4L242.5 785.7L243.0 779.6L243.5 787.5L244.0 779.5L244.5 785.9L245.0 778.9L245.5 783.9L246.0 778.9L246.5 795.2L247.0 778.7L247.5 795.1L248.0 778.5L248.5 795.0L249.0 778.5L249.5 794.9L250.0 778.3L250.5 794.8L251.0 778.9L251.5 794.7L252.0 778.1L252.5 794.6L253.0 778.0L253.5 785.6L254.0 778.2L254.5 785.4L255.0 778.0L255.5 785.0L256.0 778.1L256.5 783.7L257.0 778.4L257.5 784.7L258.0 778.2L258.5 783.6L259.0 777.6L259.5 792.1L260.0 777.5L260.5 792.0L261.0 777.3L261.5 792.0L262.0 777.4L262.5 791.9L263.0 777.6L263.5 784.8L264.0 777.5L264.5 784.6L265.0 777.3L265.5 784.2L266.0 777.2L266.5 783.0L267.0 777.2L267.5 785.9L268.0 777.6L268.5 784.2L269.0 777.6L269.5 793.7L270.0 777.2L270.5 793.7L271.0 777.6L271.5 793.6L272.0 777.1L272.5 793.6L273.0 777.0L273.5 793.6L274.0 776.8L274.5 793.5L275.0 777.4L275.5 793.5L276.0 776.9L276.5 781.9L277.0 777.4L277.5 784.2L278.0 777.2L278.5 784.8L279.0 776.9L279.5 782.1L280.0 776.7L280.5 782.6L281.0 777.1L281.5 793.6L282.0 777.3L282.5 793.6L283.0 777.1L283.5 793.6L284.0 776.6L284.5 793.6L285.0 777.2L285.5 785.4L286.0 777.1L286.5 784.6L287.0 776.4L287.5 781.8L288.0 776.5L288.5 785.0L289.0 776.5L289.5 784.0L290.0 776.8L290.5 785.3L291.0 776.4L291.5 784.8L292.0 776.9L292.5 782.4L293.0 776.3L293.5 781.7L294.0 776.4L294.5 781.6L295.0 776.5L295.5 784.5L296.0 776.7L296.5 784.3L297.0 776.7L297.5 783.9L298.0 776.3L298.5 782.0L299.0 776.5L299.5 782.0L300.0 776.2L300.5 783.0L301.0 776.0L301.5 788.6L302.0 776.1L302.5 788.5L303.0 776.1L303.5 788.4L303.9 776.3L304.4 788.3L304.9 776.1L305.4 783.5L305.9 775.8L306.4 783.6L306.9 776.2L307.4 784.1L307.9 775.4L308.4 782.1L308.9 776.0L309.4 780.2L309.8 775.4L310.3 783.5L310.8 775.4L311.3 780.9L311.8 775.5L312.3 788.6L312.8 775.4L313.3 788.6L313.7 775.9L314.2 788.9L314.5 776.5L315.0 789.6L315.4 777.1L315.9 785.3L316.3 778.1L316.8 785.5L317.1 778.7L317.6 787.2L318.0 779.6L318.5 784.4L319.0 779.4L319.5 786.0L320.0 779.5L320.5 785.3L321.0 779.8L321.5 787.3L322.0 779.7L322.5 785.8L323.0 779.6L323.5 791.3L324.0 780.0L324.5 791.4L325.0 779.6L325.5 791.4L326.0 780.3L326.5 791.4L327.0 780.1L327.5 791.5L328.0 779.8L328.5 791.5L329.0 779.8L329.5 785.1L330.0 780.1L330.5 791.3L331.0 779.9L331.5 791.2L332.0 779.7L332.5 791.0L333.0 779.7L333.5 790.7L334.0 778.5L334.5 785.6L335.0 778.7L335.5 783.5L336.0 777.9L336.5 783.0L337.0 777.2L337.5 783.2L338.0 776.8L338.5 783.3L339.0 776.3L339.5 787.2L340.0 776.0L340.5 787.0L341.0 776.6L341.5 786.8L342.0 776.4L342.5 786.6L342.9 775.7L343.4 786.4L343.9 775.4L344.4 782.8L344.9 775.8L345.4 783.8L345.9 775.1L346.4 783.3L346.9 775.1L347.4 780.9L347.8 775.1L348.3 781.2L348.8 774.7L349.3 779.9L349.8 774.8L350.3 781.3L350.8 774.5L351.3 779.7L351.8 774.0L352.2 781.2L352.7 774.1L353.2 782.4L353.7 774.1L354.2 781.8L354.7 773.6L355.2 780.5L355.7 773.5L356.2 781.3L356.6 773.8L357.1 779.0L357.6 773.2L358.1 780.9L358.6 774.0L359.1 781.8L359.6 773.6L360.1 780.1L360.6 773.6L361.1 781.4L361.5 773.0L362.0 778.9L362.5 773.5L363.0 779.8L363.5 773.1L364.0 779.2L364.5 773.8L365.0 780.7L365.4 773.2L365.9 781.0L366.4 773.7L366.9 778.7L367.4 773.9L367.9 786.9L368.4 774.3L368.9 787.3L369.4 775.3L369.9 787.7L370.3 775.5L370.8 788.2L371.3 776.3L371.8 788.8L372.3 776.8L372.8 789.4L373.2 777.6L373.8 783.2L374.2 777.9L374.7 784.9L375.2 778.2L375.7 784.6L376.2 779.5L376.7 786.4L377.1 780.0L377.6 792.5L378.1 780.3L378.6 793.1L379.1 781.4L379.6 793.7L380.1 781.2L380.6 794.2L381.1 781.8L381.6 794.7L382.0 782.7L382.5 787.1L383.0 783.0L383.5 789.6L384.0 782.9L384.5 788.2L385.0 783.8L385.5 791.5L385.9 784.1L386.4 789.9L386.9 784.6L387.4 790.0L387.9 784.3L388.4 789.6L388.9 785.4L389.4 802.4L389.9 785.2L390.4 802.7L390.9 786.1L391.4 803.1L391.8 785.7L392.3 803.4L392.8 786.2L393.3 803.7L393.8 786.9L394.3 804.1L394.8 786.7L395.3 804.4L395.8 787.6L396.3 792.7L396.8 787.8L397.3 800.1L397.7 787.9L398.2 800.4L398.7 788.2L399.2 800.7L399.7 788.9L400.2 801.0L400.7 788.6L401.2 793.6L401.7 788.9L402.2 795.7L402.7 789.4L403.2 794.7L403.6 789.3L404.1 795.6L404.6 789.9L405.1 804.4L405.6 790.4L406.1 804.7L406.6 790.2L407.1 804.9L407.6 790.6L408.1 805.1L408.6 790.6L409.1 801.4L409.5 791.0L410.0 800.7L410.5 791.3L411.0 799.0L411.5 791.1L412.0 797.4L412.5 791.4L413.0 795.8L413.5 791.4L414.0 794.2L414.4 791.7L414.9 792.1L415.4 792.4L415.9 792.0L416.4 792.1L416.9 792.8L417.4 792.2L417.9 792.9L418.4 792.3L418.9 794.0L419.4 792.4L419.9 794.3L420.3 792.6L420.8 794.5L421.3 793.2L421.8 795.1L422.3 793.5L422.8 796.4L423.3 793.6L423.8 796.3L424.3 793.6L424.8 796.9L425.3 793.9L425.8 796.4L426.2 794.0L426.7 795.8L427.2 794.0L427.7 797.0L428.2 794.1L428.7 797.2L429.2 794.6L429.7 796.3L430.2 794.6L430.7 799.5L431.2 794.5L431.7 799.6L432.1 794.6L432.6 799.8L433.1 794.7L433.6 799.9L434.1 794.8L434.6 797.1L435.1 795.1L435.6 797.5L436.1 794.8L436.6 798.5L437.1 795.3L437.6 797.4L438.0 795.3L438.5 798.3L439.0 795.6L439.5 799.0L440.0 795.1L440.5 797.7L441.0 795.9L441.5 799.1L442.0 795.5L442.5 798.2L443.0 795.4L443.5 799.2L443.9 795.9L444.4 798.2L444.9 796.2L445.4 799.2L445.9 795.7L446.4 799.5L446.9 796.1L447.4 798.4L447.9 796.2L448.4 799.3L448.9 796.5L449.4 804.6L449.8 796.3L450.3 804.6L450.8 796.6L451.3 804.7L451.8 796.3L452.3 804.7L452.8 796.8L453.3 804.8L453.7 796.6L454.2 799.3L454.7 796.7L455.2 799.5L455.7 796.5L456.2 799.6L456.7 797.0L457.2 799.3L457.6 796.7L458.1 799.2L458.6 797.1L459.1 803.5L459.6 797.2L460.1 803.5L460.6 797.0L461.1 803.6L461.5 796.6L462.0 803.6L462.5 797.0L463.0 803.7L463.5 796.7L464.0 803.7L464.4 797.4L464.9 800.3L465.4 797.0L465.9 800.4L466.4 797.0L466.9 800.3L467.4 796.8L467.9 799.9L468.3 797.3L468.8 799.1L469.3 797.6L469.8 800.6L470.3 797.1L470.8 799.5L471.2 797.7L471.7 799.7L472.2 797.2L472.7 804.3L473.2 797.3L473.7 804.3L474.2 797.4L474.7 804.2L475.1 797.4L475.6 803.0L476.1 797.8L476.6 801.8L477.1 797.4L477.6 798.7L478.1 797.0L478.6 797.8L479.0 797.2L479.5 797.6L480.0 797.0L481.0 797.0L482.0 797.0L483.0 797.0L484.0 796.9L485.0 796.9L485.9 796.8L486.9 796.7L487.9 796.7L488.9 796.6L489.9 796.5L490.9 796.4L491.9 796.3L492.9 796.2L493.9 796.1L494.9 796.0L495.9 795.8L496.9 795.7L497.8 795.6L498.8 795.4L499.8 795.3L500.8 795.1L501.8 795.0L502.8 794.8L503.8 794.7L504.8 794.5L505.8 794.3L506.8 794.2L507.8 794.0L508.8 793.9L509.7 793.7L510.7 793.5L511.7 793.4L512.7 793.2L513.7 793.1L514.7 792.9L515.7 792.7L516.7 792.6L517.7 792.4L518.7 792.2L519.7 792.0L520.7 791.8L521.7 791.6L522.7 791.3L523.7 791.1L524.6 790.8L525.6 790.6L526.6 790.3L527.6 790.1L528.6 789.8L529.6 789.6L530.6 789.3L531.6 789.0L532.6 788.8L533.6 788.5L534.6 788.2L535.6 787.9L536.6 787.7L537.6 787.4L538.6 787.1L539.6 786.9L540.6 786.6L541.6 786.4L542.6 786.1L543.5 785.9L544.5 785.6L545.5 785.4L546.5 785.2L547.5 784.9L548.5 784.7L549.5 784.5L550.5 784.3L551.5 784.2L552.5 784.0L553.5 783.8L554.5 783.7L555.5 783.5L556.4 783.4L557.4 783.2L558.4 783.1L559.4 782.9L560.4 782.8L561.4 782.6L562.4 782.5L563.3 782.4L564.3 782.2L565.3 782.1L566.3 782.0L567.3 781.8L568.3 781.7L569.3 781.6L570.3 781.5L571.2 781.3L572.2 781.2L573.2 781.1L574.2 781.0L575.2 780.9L576.2 780.8L577.2 780.6L578.1 780.5L579.1 780.4L580.1 780.3L581.1 780.2L582.1 780.1L583.1 780.0L584.1 779.9L585.0 779.8L586.0 779.6L587.0 779.5L588.0 779.4L589.0 779.3L590.0 779.2L591.0 779.1L592.0 779.0L592.9 778.9L593.9 778.8L594.9 778.7L595.9 778.6L596.9 778.5L597.9 778.4L598.9 778.2L599.8 778.1L600.8 778.0L601.8 777.9L602.8 777.8L603.8 777.7L604.8 777.6L605.8 777.5L606.8 777.4L607.8 777.2L608.8 777.1L609.7 777.0L610.7 776.9L611.7 776.8L612.7 776.7L613.7 776.6L614.7 776.5L615.7 776.4L616.7 776.3L617.7 776.2L618.7 776.0L619.7 775.9L620.7 775.8L621.6 775.7L622.6 775.6L623.6 775.5L624.6 775.4L625.6 775.3L626.6 775.2L627.6 775.1L628.6 775.0L629.6 774.9L630.6 774.8L631.6 774.7L632.6 774.6L633.5 774.5L634.5 774.4L635.5 774.3L636.5 774.2L637.5 774.1L638.5 774.0L639.5 773.9L640.5 773.8L641.5 773.7L642.5 773.6L643.5 773.5L644.5 773.4L645.4 773.3L646.4 773.2L647.4 773.1L648.4 773.0L649.4 772.9L650.4 772.8L651.4 772.7L652.4 772.6L653.4 772.5L654.4 772.4L655.4 772.3L656.4 772.2L657.4 772.1L658.3 772.0L659.3 771.9L660.3 771.8L661.3 771.7L662.3 771.6L663.3 771.5L664.3 771.4L665.3 771.3L666.3 771.2L667.3 771.1L668.3 771.0L669.3 770.9L670.2 770.8L671.2 770.7L672.2 770.6L673.2 770.5L674.2 770.4L675.2 770.3L676.2 770.2L677.2 770.1L678.2 770.0L679.2 769.9L680.2 769.8L681.2 769.7L682.1 769.6L683.1 769.5L684.1 769.4L685.1 769.3L686.1 769.2L687.1 769.1L688.1 768.9L689.1 768.8L690.1 768.7L691.1 768.6L692.1 768.5L693.1 768.4L694.0 768.3L695.0 768.2L696.0 768.1L697.0 768.0L698.0 767.9L699.0 767.8L700.0 767.7L701.0 767.6L702.0 767.5L703.0 767.4L704.0 767.3L705.0 767.2L706.0 767.0L707.0 766.9L708.0 766.8L709.0 766.7L710.0 766.6L711.0 766.5L712.0 766.4L713.0 766.2L714.0 766.1L715.0 766.0L715.9 765.9L716.9 765.8L717.9 765.7L718.9 765.5L719.9 765.4L720.9 765.3L721.9 765.2L722.9 765.1L723.9 764.9L724.9 764.8L725.9 764.7L726.9 764.6L727.9 764.5L728.9 764.3L729.9 764.2L730.9 764.1L731.9 764.0L732.9 763.8L733.9 763.7L734.9 763.6L735.9 763.5L736.9 763.4L737.9 763.2L738.9 763.1L739.9 763.0L740.9 762.9L741.9 762.8L742.9 762.6L743.9 762.5L744.9 762.4L745.8 762.3L746.8 762.2L747.8 762.0L748.8 761.9L749.8 761.8L750.8 761.7L751.8 761.6L752.8 761.5L753.8 761.3L754.8 761.2L755.8 761.1L756.8 761.0L757.8 760.9L758.8 760.8L759.8 760.7L760.8 760.6L761.8 760.4L762.8 760.3L763.8 760.2L764.8 760.1L765.8 760.0L766.8 759.9L767.8 759.8L768.8 759.7L769.8 759.6L770.8 759.5L771.8 759.4L772.8 759.3L773.8 759.2L774.8 759.1L775.7 759.0L776.7 758.9L777.7 758.8L778.7 758.8L779.7 758.7L780.7 758.6L781.7 758.5L782.7 758.4L783.7 758.3L784.7 758.2L785.7 758.2L786.7 758.1L787.7 758.0L788.7 757.9L789.7 757.9L790.7 757.8L791.7 757.7L792.7 757.7L793.7 757.6L794.7 757.5L795.7 757.5L796.7 757.4L797.7 757.3L798.7 757.3L799.7 757.2L800.7 757.1L801.7 757.1L802.7 757.0L803.7 757.0L804.7 756.9L805.7 756.8L806.7 756.8L807.6 756.7L808.6 756.7L809.6 756.6L810.6 756.5L811.6 756.5L812.6 756.4L813.6 756.4L814.6 756.3L815.6 756.3L816.6 756.2L817.6 756.2L818.6 756.1L819.6 756.1L820.6 756.0L821.6 756.0L822.6 755.9L823.6 755.9L824.6 755.8L825.6 755.8L826.6 755.7L827.6 755.7L828.6 755.6L829.6 755.6L830.6 755.5L831.6 755.5L832.6 755.4L833.6 755.4L834.6 755.3L835.6 755.3L836.6 755.2L837.6 755.2L838.6 755.1L839.6 755.1L840.6 755.0L841.5 755.0L842.5 755.0L843.5 754.9L844.5 754.9L845.5 754.8L846.5 754.8L847.5 754.7L848.5 754.7L849.5 754.6L850.5 754.6L851.5 754.6L852.5 754.5L853.5 754.5L854.5 754.4L855.5 754.4L856.5 754.3L857.5 754.3L858.5 754.2L859.5 754.2L860.5 754.2L861.5 754.1L862.5 754.1L863.5 754.0L864.5 754.0L865.5 753.9L866.5 753.9L867.5 753.8L868.5 753.8L869.5 753.8L870.5 753.7L871.5 753.7L872.5 753.6L873.5 753.6L874.5 753.5L875.4 753.5L876.4 753.4L877.4 753.4L878.4 753.3L879.4 753.3L880.4 753.2L881.4 753.2L882.4 753.1L883.4 753.1L884.4 753.0L885.4 753.0L886.4 753.0L887.4 752.9L888.4 752.9L889.4 752.8L890.4 752.8L891.4 752.7L892.4 752.6L893.4 752.6L894.4 752.5L895.4 752.5L896.4 752.4L897.4 752.4L898.4 752.3L899.4 752.3L900.4 752.2L901.4 752.1L902.4 752.1L903.4 752.0L904.3 752.0L905.3 751.9L906.3 751.8L907.3 751.8L908.3 751.7L909.3 751.6L910.3 751.6L911.3 751.5L912.3 751.4L913.3 751.4L914.3 751.3L915.3 751.2L916.3 751.2L917.3 751.1L918.3 751.0L919.3 751.0L920.3 750.9L921.3 750.8L922.3 750.7L923.3 750.7L924.3 750.6L925.3 750.5L926.3 750.5L927.2 750.4L928.2 750.3L929.2 750.3L930.2 750.2L931.2 750.1L932.2 750.1L933.2 750.0L934.2 749.9L935.2 749.9L936.2 749.8L937.2 749.7L938.2 749.7L939.2 749.6L940.2 749.5L941.2 749.5L942.2 749.4L943.2 749.3L944.2 749.3L945.2 749.2L946.2 749.1L947.2 749.1L948.2 749.0L949.2 749.0L950.2 748.9L951.1 748.8L952.1 748.8L953.1 748.7L954.1 748.7L955.1 748.6L956.1 748.6L957.1 748.5L958.1 748.5L959.1 748.4L960.1 748.4L961.1 748.3L962.1 748.3L963.1 748.3L964.1 748.2L965.1 748.2L966.1 748.1L967.1 748.1L968.1 748.1L969.1 748.0L970.1 748.0L971.1 748.0L972.1 747.9L973.1 747.9L974.1 747.9L975.0 747.8L976.0 747.8L977.0 747.8L978.0 747.8L979.0 747.8L980.0 747.8L981.0 747.7L982.0 747.7L983.0 747.7L984.0 747.7L985.0 747.7L986.0 747.7L987.0 747.7L988.0 747.7L989.0 747.8L990.0 747.8L991.0 747.9L992.0 748.0L992.9 749.9L993.8 754.8L994.7 761.9L995.7 770.3L996.6 779.3L997.5 787.9L998.4 795.5L999.4 803.2L1000.3 812.0L1001.2 821.3L1002.2 830.2L1003.1 838.4L1004.1 845.0L1005.0 849.4L1006.0 851.0L1007.0 846.7L1008.0 836.6L1009.0 824.7L1010.0 815.0L1010.8 808.8L1011.5 803.1L1012.3 800.6L1013.2 803.3L1014.1 809.3L1015.0 815.0L1015.8 819.5L1016.5 823.8L1017.3 825.7L1018.2 823.6L1019.2 818.5L1020.1 811.8L1021.1 805.1L1022.0 800.0L1022.9 796.6L1023.8 793.6L1024.7 790.9L1025.6 788.3L1026.5 785.7L1027.4 783.0L1028.4 780.0L1029.3 776.9L1030.2 773.7L1031.2 770.6L1032.2 767.6L1033.1 764.8L1034.0 762.2L1035.0 760.0L1035.9 758.0L1036.9 756.0L1037.8 754.1L1038.8 752.3L1039.7 750.7L1040.6 749.4L1041.6 748.4L1042.5 747.7L1043.5 747.2L1044.4 746.8L1045.4 746.4L1046.4 745.9L1047.3 745.6L1048.3 745.2L1049.3 744.9L1050.2 744.5L1051.2 744.2L1052.2 744.0L1053.1 743.7L1054.1 743.4L1055.0 743.2L1056.0 743.0L1057.0 742.8L1057.9 742.6L1058.9 742.4L1059.9 742.3L1060.8 742.1L1061.8 742.0L1062.8 741.9L1063.7 741.8L1064.7 741.7L1065.7 741.6L1066.6 741.5L1067.6 741.4L1068.6 741.3L1069.6 741.3L1070.6 741.2L1071.6 741.1L1072.6 741.0L1073.6 741.0L1074.6 740.9L1075.6 740.8L1076.5 740.8L1077.5 740.7L1078.5 740.7L1079.5 740.6L1080.5 740.6L1081.5 740.5L1082.5 740.4L1083.5 740.4L1084.5 740.3L1085.5 740.3L1086.5 740.2L1087.5 740.2L1088.5 740.2L1089.5 740.1L1090.5 740.1L1091.5 740.0L1092.5 740.0L1093.4 739.9L1094.4 739.9L1095.4 739.9L1096.4 739.8L1097.4 739.8L1098.4 739.7L1099.4 739.7L1100.4 739.7L1101.4 739.6L1102.4 739.6L1103.4 739.6L1104.4 739.6L1105.4 739.5L1106.4 739.5L1107.4 739.5L1108.4 739.4L1109.4 739.4L1110.3 739.4L1111.3 739.3L1112.3 739.3L1113.3 739.3L1114.3 739.3L1115.3 739.2L1116.3 739.2L1117.3 739.2L1118.3 739.2L1119.3 739.1L1120.3 739.1L1121.3 739.1L1122.3 739.1L1123.3 739.1L1124.3 739.0L1125.3 739.0L1126.3 739.0L1127.3 739.0L1128.2 738.9L1129.2 738.9L1130.2 738.9L1131.2 738.9L1132.2 738.8L1133.2 738.8L1134.2 738.8L1135.2 738.8L1136.2 738.7L1137.2 738.7L1138.2 738.7L1139.2 738.7L1140.2 738.7L1141.2 738.6L1142.2 738.6L1143.2 738.6L1144.2 738.5L1145.1 738.5L1146.1 738.5L1147.1 738.5L1148.1 738.4L1149.1 738.4L1150.1 738.4L1151.1 738.3L1152.1 738.3L1153.1 738.3L1154.1 738.2L1155.1 738.2L1156.1 738.2L1157.1 738.1L1158.1 738.1L1159.1 738.1L1160.1 738.0L1161.1 738.0L1162.0 738.0L1163.0 737.9L1164.0 737.9L1165.0 737.8L1166.0 737.8L1167.0 737.7L1168.0 737.7L1169.0 737.6L1170.0 737.6L1171.0 738.1L1171.5 738.0L1172.0 737.7L1172.5 738.1L1173.0 737.6L1173.5 738.6L1174.0 737.7L1174.5 739.3L1175.0 737.4L1175.5 738.9L1176.0 737.3L1176.5 739.1L1177.0 737.8L1177.5 739.4L1178.0 737.7L1178.5 739.0L1179.0 737.6L1179.5 740.1L1180.0 737.4L1180.5 739.4L1181.0 737.2L1181.5 738.9L1182.0 737.2L1182.5 739.4L1183.0 737.3L1183.5 739.3L1184.0 737.0L1184.5 739.0L1185.0 736.8L1185.5 739.3L1186.0 736.8L1186.5 739.2L1187.0 736.9L1187.5 739.0L1188.0 736.8L1188.5 738.3L1189.0 736.4L1189.5 738.5L1190.0 736.9L1190.5 738.0L1191.0 736.5L1191.5 738.8L1192.0 736.3L1192.5 738.0L1193.0 736.2L1193.5 737.7L1194.0 736.6L1194.5 738.9L1195.0 736.6L1195.5 738.3L1196.0 735.8L1196.5 737.7L1197.0 736.3L1197.5 737.7L1198.0 736.1L1198.5 738.3L1199.0 736.3L1199.5 737.4L1200.0 736.1L1200.5 737.8L1201.0 735.8L1201.5 737.1L1202.0 735.4L1202.5 737.1L1203.0 735.7L1203.5 737.4L1204.0 735.8L1204.5 738.0L1205.0 735.7L1205.5 738.0L1206.0 735.3L1206.5 737.3L1207.0 735.6L1207.5 736.8L1208.0 734.9L1208.5 737.7L1209.0 735.5L1209.5 737.2L1210.0 734.8L1210.5 737.6L1211.0 734.8L1211.5 736.7L1212.0 735.0L1212.5 737.0L1213.0 735.0L1213.5 737.0L1214.0 734.5L1214.5 736.1L1215.0 734.6L1215.5 736.5L1216.0 735.0L1216.5 736.9L1217.0 734.4L1217.5 736.9L1218.0 734.4L1218.5 736.6L1219.0 734.4L1219.5 736.7L1220.0 734.0L1220.5 735.7L1221.0 734.3L1221.5 736.6L1222.0 733.9L1222.5 735.8L1223.0 734.4L1223.5 736.2L1224.0 734.5L1224.5 735.8L1225.0 733.9L1225.5 736.4L1226.0 733.7L1226.5 735.5L1227.0 733.8L1227.5 735.6L1228.0 734.0L1228.5 736.0L1229.0 734.1L1229.5 736.1L1230.0 734.3L1230.5 735.5L1231.0 733.7L1231.5 735.2L1232.0 734.0L1232.5 735.4L1233.0 733.8L1233.5 735.7L1234.0 734.0L1234.5 735.7L1235.0 734.1L1235.5 735.6L1236.0 733.7L1236.5 734.9L1236.9 733.4L1237.4 735.2L1237.9 733.5L1238.4 735.6L1238.9 733.8L1239.4 738.0L1239.9 733.2L1240.4 737.9L1240.9 733.4L1241.4 737.9L1241.9 733.6L1242.4 737.9L1242.9 733.2L1243.4 737.8L1243.9 733.5L1244.4 737.8L1244.9 733.5L1245.4 737.8L1245.9 733.0L1246.4 736.5L1246.9 732.9L1247.4 736.5L1247.9 733.1L1248.4 736.5L1248.9 733.0L1249.4 736.4L1249.9 733.5L1250.4 736.4L1250.8 733.1L1251.3 736.4L1251.8 733.4L1252.3 734.7L1252.8 732.9L1253.3 735.3L1253.8 733.4L1254.3 735.6L1254.8 733.4L1255.3 734.8L1255.8 732.7L1256.3 735.5L1256.8 733.3L1257.3 734.4L1257.8 733.0L1258.3 734.7L1258.8 733.2L1259.3 734.5L1259.8 733.0L1260.3 734.9L1260.8 733.0L1261.3 735.5L1261.8 732.7L1262.3 734.4L1262.8 732.9L1263.3 734.2L1263.8 733.2L1264.3 735.3L1264.7 732.9L1265.2 734.9L1265.7 732.7L1266.2 735.2L1266.7 733.1L1267.2 735.2L1267.7 733.0L1268.2 735.1L1268.7 732.8L1269.2 735.0L1269.7 733.2L1270.2 734.2L1270.7 732.6L1271.2 734.6L1271.7 732.9L1272.2 735.4L1272.6 733.1L1273.1 734.3L1273.6 733.2L1274.1 735.4L1274.6 733.0L1275.1 735.7L1275.6 733.0L1276.1 734.7L1276.5 733.7L1277.0 735.6L1277.5 733.3L1278.0 736.1L1278.5 734.1L1279.0 735.8L1279.4 734.2L1279.9 735.9L1280.4 734.7L1280.9 736.3L1281.4 734.4L1281.9 736.9L1282.4 734.7L1282.9 739.4L1283.3 734.8L1283.8 739.7L1284.3 735.5L1284.8 740.0L1285.3 736.1L1285.8 740.3L1286.3 736.3L1286.8 740.5L1287.2 736.3L1287.7 740.8L1288.2 736.8L1288.7 741.1L1289.2 736.5L1289.7 739.1L1290.1 736.8L1290.6 738.8L1291.1 737.5L1291.6 739.7L1292.1 737.4L1292.6 739.3L1293.1 737.7L1293.6 740.2L1294.0 737.7L1294.5 740.3L1295.0 738.1L1295.5 740.1L1296.0 737.9L1296.5 739.7L1297.0 738.3L1297.5 739.0L1298.0 738.5L1298.5 738.6L1299.0 738.7L1299.5 738.4L1300.0 738.1L1301.0 738.2L1301.5 739.9L1302.0 738.3L1302.5 740.9L1303.0 738.7L1303.5 747.1L1304.0 739.1L1304.5 750.1L1305.0 738.7L1305.5 753.1L1306.0 738.7L1306.5 756.1L1307.0 739.2L1307.5 745.2L1308.0 738.6L1308.5 745.8L1309.0 738.8L1309.5 749.5L1310.0 738.7L1310.5 757.3L1311.0 738.9L1311.5 757.4L1312.0 739.4L1312.5 757.4L1313.0 739.2L1313.5 757.5L1314.0 739.4L1314.5 757.6L1315.0 739.9L1315.5 757.7L1316.0 739.5L1316.5 757.8L1317.0 739.5L1317.5 747.7L1318.0 740.2L1318.5 747.4L1319.0 740.2L1319.5 749.6L1320.0 740.0L1320.5 750.5L1321.0 740.4L1321.5 747.5L1322.0 740.9L1322.5 750.6L1323.0 740.8L1323.5 751.5L1324.0 741.4L1324.5 751.5L1325.0 742.4L1325.5 752.0L1326.0 742.4L1326.5 752.6L1327.0 742.9L1327.5 749.9L1328.0 743.5L1328.5 757.1L1329.0 744.5L1329.5 757.7L1330.0 744.6L1330.5 758.3L1331.0 745.2L1331.5 759.0L1332.0 746.3L1332.5 759.6L1333.0 747.2L1333.5 755.0L1334.0 747.4L1334.5 755.8L1335.0 748.6L1335.5 754.0L1336.0 749.1L1336.5 755.1L1337.0 749.7L1337.5 758.1L1338.0 750.4L1338.5 757.5L1339.0 750.7L1339.5 771.6L1340.0 751.3L1340.5 772.2L1341.0 752.3L1341.5 772.8L1342.0 752.8L1342.5 762.6L1343.0 753.3L1343.5 772.7L1344.0 754.1L1344.5 773.4L1345.0 755.0L1345.5 774.2L1346.0 755.5L1346.5 774.9L1347.0 756.6L1347.5 775.7L1348.0 757.4L1348.5 776.5L1349.0 758.1L1349.5 766.1L1350.0 759.1L1350.5 769.3L1351.0 760.0L1351.5 767.8L1352.0 760.1L1352.5 768.0L1353.0 761.4L1353.5 770.8L1354.0 761.4L1354.5 770.8L1355.0 762.6L1355.5 769.7L1356.0 762.7L1356.5 783.9L1357.0 763.5L1357.5 784.4L1358.0 763.3L1358.5 784.7L1359.0 764.0L1359.5 785.0L1360.0 764.5L1360.5 770.3L1361.0 764.1L1361.5 772.8L1362.0 764.1L1362.5 770.1L1363.0 764.5L1363.5 771.0L1364.0 764.2L1364.5 780.8L1365.0 764.6L1365.5 780.8L1366.0 764.5L1366.5 780.8L1367.0 764.1L1367.5 780.8L1368.0 763.9L1368.5 780.8L1369.0 763.9L1369.5 780.8L1370.0 763.9L1370.5 770.2L1371.0 764.4L1371.5 773.5L1372.0 764.2L1372.5 772.6L1373.0 764.4L1373.5 779.2L1374.0 763.6L1374.5 779.0L1374.9 763.4L1375.4 778.5L1375.9 762.4L1376.4 777.7L1376.8 761.5L1377.3 768.0L1377.8 760.8L1378.3 766.5L1378.8 759.6L1379.3 767.4L1379.7 757.6L1380.2 767.3L1380.7 756.9L1381.2 765.3L1381.7 755.3L1382.2 762.0L1382.6 754.2L1383.1 766.8L1383.6 753.7L1384.1 766.0L1384.5 753.1L1385.0 765.5L1385.5 753.4L1386.0 763.4L1386.4 753.1L1386.9 759.9L1387.2 752.9L1387.7 760.1L1388.1 753.6L1388.6 763.7L1389.0 753.7L1389.5 761.3L1389.9 753.5L1390.4 759.7L1390.7 753.6L1391.2 768.3L1391.6 754.2L1392.1 768.5L1392.6 754.0L1393.1 768.8L1393.6 754.4L1394.1 760.8L1394.6 755.6L1395.1 763.3L1395.6 756.0L1396.1 762.8L1396.6 756.1L1397.1 765.5L1397.6 757.0L1398.1 762.7L1398.6 757.5L1399.1 767.0L1399.6 758.0L1400.1 764.2L1400.6 758.6L1401.1 764.6L1401.6 758.7L1402.1 769.3L1402.6 759.2L1403.1 766.4L1403.6 759.2L1404.1 766.8L1404.6 759.4L1405.1 768.8L1405.5 759.3L1406.0 767.0L1406.5 758.7L1407.0 770.5L1407.5 758.7L1408.0 770.4L1408.5 758.8L1409.0 770.2L1409.4 758.6L1409.9 769.9L1410.4 758.0L1410.9 765.9L1411.4 758.1L1411.9 768.0L1412.4 757.9L1412.9 774.6L1413.3 757.4L1413.8 774.2L1414.3 756.4L1414.8 773.9L1415.3 756.5L1415.8 773.6L1416.2 756.4L1416.7 773.2L1417.2 755.6L1417.7 772.8L1418.2 755.8L1418.7 765.1L1419.2 755.0L1419.7 765.0L1420.1 755.0L1420.6 761.1L1421.1 754.8L1421.6 762.1L1422.1 754.2L1422.6 762.9L1423.0 753.7L1423.5 762.1L1424.0 753.1L1424.5 763.3L1425.0 752.9L1425.5 763.5L1426.0 752.9L1426.5 760.0L1426.9 752.9L1427.4 762.4L1427.9 752.7L1428.4 771.3L1428.9 752.2L1429.4 771.1L1429.9 752.4L1430.4 771.0L1430.8 752.3L1431.3 770.9L1431.8 752.3L1432.3 770.9L1432.8 751.8L1433.3 770.9L1433.7 752.2L1434.2 770.9L1434.7 752.4L1435.2 760.7L1435.6 752.0L1436.1 773.4L1436.6 752.3L1437.1 773.4L1437.6 752.7L1438.1 773.5L1438.5 752.5L1439.0 773.6L1439.5 752.5L1440.0 760.5L1440.5 752.3L1441.0 758.9L1441.4 753.0L1441.9 762.4L1442.4 753.1L1442.9 763.3L1443.3 752.8L1443.8 759.0L1444.3 752.9L1444.8 763.1L1445.3 753.5L1445.8 760.3L1446.2 753.7L1446.7 762.9L1447.2 753.2L1447.7 761.9L1448.2 753.8L1448.7 763.6L1449.1 754.1L1449.6 762.7L1450.1 753.5L1450.6 760.7L1451.0 753.7L1451.5 760.0L1452.0 754.1L1452.5 763.1L1453.0 753.9L1453.5 762.5L1454.0 754.8L1454.5 761.8L1455.0 754.3L1455.5 762.1L1456.0 754.7L1456.5 769.1L1457.0 755.0L1457.5 769.3L1458.0 755.3L1458.5 769.5L1459.0 754.9L1459.5 761.0L1460.0 755.3L1460.5 762.6L1461.0 756.1L1461.5 762.0L1462.0 756.2L1462.5 761.8L1463.0 756.4L1463.5 765.7L1464.0 756.6L1464.5 766.8L1465.0 756.4L1465.5 763.6L1466.0 756.3L1466.5 762.4L1467.0 756.8L1467.5 766.7L1468.0 756.7L1468.5 766.8L1469.0 756.6L1469.5 765.5L1470.0 757.0L1470.5 763.8L1471.0 757.4L1471.5 767.3L1472.0 757.4L1472.5 767.3L1473.0 756.9L1473.5 767.0L1474.0 757.3L1474.5 766.5L1475.0 757.2L1475.5 765.6L1476.0 757.0L1476.5 763.2L1477.0 756.9L1477.5 763.7L1478.0 756.4L1478.5 763.8L1479.0 756.1L1479.5 764.2L1480.0 756.6L1480.5 764.2L1481.0 755.8L1481.5 766.2L1482.0 755.4L1482.5 763.1L1483.0 755.2L1483.5 764.2L1484.0 755.4L1484.5 765.5L1485.0 755.2L1485.5 761.3L1486.0 755.0L1486.5 759.7L1487.0 754.2L1487.5 763.8L1488.0 753.7L1488.5 760.2L1489.0 753.5L1489.5 756.5L1490.0 752.5L1491.0 751.6L1492.0 750.5L1493.0 750.0L1493.5 749.5L1494.0 748.7L1494.5 748.4L1495.0 747.1L1495.5 747.4L1496.0 745.4L1496.5 746.2L1497.0 744.6L1497.5 745.5L1498.0 743.2L1498.5 744.3L1499.0 742.7L1499.5 743.2L1500.0 742.0L1500.5 742.5L1501.0 741.0L1501.5 742.6L1502.0 740.6L1502.5 742.2L1503.0 741.0L1503.5 742.1L1504.0 742.1L1504.5 743.0L1505.0 742.8L1505.5 744.4L1506.0 744.0L1506.5 745.3L1507.0 745.2L1507.5 746.6L1508.0 746.9L1508.5 747.7L1509.0 748.2L1509.5 749.3L1510.0 749.5L1510.5 753.2L1511.0 749.8L1511.5 753.9L1512.0 750.2L1512.5 754.2L1513.0 750.0L1513.5 754.2L1514.0 749.9L1514.5 754.0L1514.9 749.5L1515.4 753.9L1515.9 749.9L1516.4 751.0L1516.9 749.1L1517.4 750.4L1517.9 748.7L1518.4 750.5L1518.8 748.2L1519.3 750.1L1519.8 748.3L1520.3 749.5L1520.8 747.9L1521.3 748.6L1521.8 747.2L1522.3 748.8L1522.7 746.5L1523.2 747.6L1523.7 746.2L1524.2 747.9L1524.7 745.9L1525.2 747.1L1525.7 745.5L1526.2 746.3L1526.6 745.6L1527.1 749.2L1527.6 745.1L1528.1 748.9L1528.6 744.4L1529.1 748.6L1529.6 744.7L1530.1 748.3L1530.5 744.3L1531.0 748.1L1531.5 744.1L1532.0 748.0L1532.5 744.1L1533.0 748.0L1533.5 744.0L1534.0 745.3L1534.4 744.1L1534.9 745.8L1535.4 744.6L1535.9 745.4L1536.3 744.6L1536.8 746.0L1537.3 745.3L1537.8 746.6L1538.3 745.7L1538.8 746.8L1539.2 745.7L1539.7 747.5L1540.2 747.0L1540.7 747.9L1541.2 747.5L1541.7 748.4L1542.1 747.6L1542.6 748.8L1543.1 748.5L1543.6 749.1L1544.0 749.3L1544.5 750.2L1545.0 749.4L1545.5 750.6L1546.0 750.0L1546.5 751.1L1546.9 750.4L1547.4 751.4L1547.9 751.2L1548.4 752.0L1548.9 751.2L1549.4 752.7L1549.8 751.9L1550.3 752.5L1550.8 751.7L1551.3 753.1L1551.7 752.1L1552.2 753.2L1552.7 752.5L1553.2 753.6L1553.7 752.4L1554.2 753.5L1554.7 751.8L1555.2 755.8L1555.7 751.9L1556.2 755.7L1556.7 751.9L1557.2 755.6L1557.7 751.7L1558.2 755.4L1558.7 751.6L1559.2 752.4L1559.6 750.5L1560.1 751.6L1560.5 750.3L1561.0 751.6L1561.5 749.3L1562.0 750.7L1562.5 749.0L1563.0 749.6L1563.4 747.7L1563.9 748.8L1564.3 746.5L1564.8 747.7L1565.3 745.8L1565.8 746.5L1566.2 745.2L1566.8 745.8L1567.2 744.7L1567.7 744.9L1568.1 744.0L1568.6 744.7L1569.1 743.3L1569.6 743.6L1570.1 742.7L1571.1 742.3L1572.0 742.0L1573.0 741.7L1574.0 741.4L1575.0 741.1L1576.0 740.9L1577.0 740.6L1577.9 740.3L1578.9 740.1L1579.9 739.9L1580.9 739.7L1581.9 739.4L1582.8 739.2L1583.8 739.0L1584.8 738.8L1585.8 738.7L1586.8 738.5L1587.8 738.3L1588.7 738.1L1589.7 738.0L1590.7 737.8L1591.7 737.6L1592.7 737.5L1593.7 737.3L1594.6 737.2L1595.6 737.0L1596.6 736.9L1597.6 736.7L1598.6 736.5L1599.5 736.4L1600.5 736.2L1601.5 736.1L1602.5 735.9L1603.5 735.7L1604.5 735.6L1605.4 735.4L1606.4 735.2L1607.4 735.0L1608.4 734.8L1609.4 734.6L1610.4 734.4L1611.4 734.2L1612.3 734.0L1613.3 733.8L1614.3 733.7L1615.3 733.5L1616.3 733.3L1617.3 733.1L1618.3 732.9L1619.3 732.7L1620.3 732.5L1621.3 732.4L1622.2 732.2L1623.2 732.0L1624.2 731.8L1625.2 731.6L1626.2 731.5L1627.2 731.3L1628.2 731.1L1629.2 730.9L1630.2 730.7L1631.2 730.6L1632.1 730.4L1633.1 730.2L1634.1 730.0L1635.1 729.8L1636.1 729.7L1637.1 729.5L1638.1 729.3L1639.1 729.1L1640.1 729.0L1641.0 728.8L1642.0 728.6L1643.0 728.4L1644.0 728.2L1645.0 728.1L1646.0 727.9L1647.0 727.7L1648.0 727.5L1649.0 727.3L1650.0 727.2L1650.9 727.0L1651.9 726.8L1652.9 726.6L1653.9 726.4L1654.9 726.3L1655.9 726.1L1656.9 725.9L1657.9 725.7L1658.9 725.5L1659.9 725.3L1660.8 725.2L1661.8 725.0L1662.8 724.8L1663.8 724.6L1664.8 724.4L1665.8 724.2L1666.8 724.0L1667.7 723.8L1668.7 723.6L1669.7 723.4L1670.7 723.2L1671.7 722.9L1672.6 722.7L1673.6 722.5L1674.6 722.2L1675.6 722.0L1676.6 721.7L1677.5 721.5L1678.5 721.3L1679.5 721.0L1680.5 720.8L1681.5 720.5L1682.4 720.3L1683.4 720.1L1684.4 719.8L1685.4 719.6L1686.3 719.4L1687.3 719.2L1688.3 719.0L1689.3 718.8L1690.3 718.6L1691.2 718.4L1692.2 718.2L1693.2 718.0L1694.2 717.8L1695.2 717.7L1696.1 717.5L1697.1 717.4L1698.1 717.3L1699.1 717.1L1700.1 717.0L1701.0 716.9L1702.0 716.9L1703.0 716.8L1704.0 716.7L1705.0 716.7L1706.0 716.6L1707.0 716.6L1708.0 716.5L1709.0 716.5L1710.0 716.4L1710.9 716.4L1711.9 716.3L1712.9 716.3L1713.9 716.2L1714.9 716.2L1715.9 716.2L1716.9 716.1L1717.9 716.1L1718.9 716.0L1719.9 716.0L1720.9 716.0L1721.9 715.9L1722.9 715.9L1723.9 715.9L1724.8 715.9L1725.8 715.9L1726.8 715.8L1727.8 715.8L1728.8 715.8L1729.8 715.8L1730.8 715.8L1731.8 715.8L1732.8 715.8L1733.7 715.9L1734.7 716.0L1735.6 716.2L1736.6 716.4L1737.6 716.6L1738.5 716.9L1739.5 717.2L1740.4 717.5L1741.4 717.9L1742.4 718.3L1743.3 718.7L1744.3 719.1L1745.2 719.5L1746.2 720.0L1747.2 720.5L1748.1 721.0L1749.1 721.5L1750.0 722.0L1751.0 722.5L1752.0 723.1L1752.9 723.7L1753.8 724.5L1754.8 725.3L1755.8 726.3L1756.7 727.2L1757.7 728.3L1758.6 729.3L1759.5 730.4L1760.5 731.6L1761.5 732.7L1762.4 733.8L1763.3 734.9L1764.3 736.0L1765.3 737.2L1766.2 738.7L1767.2 740.3L1768.2 741.8L1769.1 743.3L1770.1 744.4L1771.0 745.2L1772.0 745.5L1773.0 745.4L1773.9 745.3L1774.8 745.1L1775.8 744.8L1776.8 744.5L1777.7 744.3L1778.7 744.0L1779.6 743.8L1780.5 743.7L1781.5 743.6L1782.5 743.7L1783.4 744.0L1784.4 744.5L1785.3 745.1L1786.3 745.9L1787.2 746.8L1788.2 747.8L1789.2 748.8L1790.1 749.9L1791.1 751.0L1792.0 752.0L1793.0 753.1L1794.0 754.3L1794.9 755.7L1795.9 757.4L1796.8 759.2L1797.8 761.2L1798.7 763.3L1799.7 765.4L1800.6 767.6L1801.6 769.8L1802.6 771.9L1803.5 773.9L1804.5 775.7L1805.4 777.4L1806.4 778.9L1807.3 780.1L1808.3 781.0L1809.2 781.6L1810.2 781.8L1811.2 781.7L1812.2 781.4L1813.2 780.8L1814.2 780.1L1815.2 779.3L1816.2 778.3L1817.2 777.1L1818.2 775.9L1819.2 774.6L1820.2 773.3L1821.2 771.9L1822.2 770.4L1823.2 769.0L1824.2 767.6L1825.2 766.2L1826.2 764.9L1827.2 763.7L1828.2 762.5L1829.2 761.5L1830.2 760.6L1831.2 759.8L1832.2 759.3L1833.2 758.9L1834.2 758.6L1835.1 758.4L1836.1 758.2L1837.0 758.1L1838.0 758.0L1839.0 762.7L1839.9 771.3L1840.9 776.0L1841.8 768.5L1842.8 754.2L1843.7 745.5L1844.7 743.6L1845.6 741.9L1846.6 740.3L1847.5 738.8L1848.5 737.4L1849.4 736.2L1850.4 735.0L1851.4 734.0L1852.3 733.0L1853.3 732.2L1854.2 731.5L1855.2 730.8L1856.1 730.2L1857.1 729.7L1858.1 729.3L1859.0 729.0L1860.0 728.7L1860.9 728.5L1861.9 728.4L1862.8 728.3L1863.8 728.3L1864.8 728.3L1865.7 728.3L1866.7 728.3L1867.6 728.3L1868.6 728.3L1869.5 728.3L1870.5 728.3L1871.4 728.3L1872.4 728.3L1873.4 728.3L1874.3 728.3L1875.3 728.3L1876.2 728.3L1877.2 728.3L1878.1 728.3L1879.1 728.3L1880.1 728.2L1881.0 728.0L1882.0 727.6L1882.9 727.1L1883.9 726.5L1884.8 725.9L1885.8 725.1L1886.8 724.4L1887.7 723.6L1888.7 722.7L1889.6 721.9L1890.6 721.2L1891.5 720.4L1892.5 719.8L1893.4 719.2L1894.4 718.7L1895.4 718.3L1896.4 717.8L1897.4 717.4L1898.4 717.0L1899.3 716.7L1900.3 716.3L1901.3 715.9L1902.3 715.6L1903.3 715.2L1904.3 714.9L1905.3 714.6L1906.3 714.3L1907.3 713.9L1908.3 713.6L1909.2 713.3L1910.2 713.0L1911.2 712.7L1912.2 712.4L1913.2 712.2L1914.2 711.9L1915.2 711.6L1916.2 711.3L1917.2 711.0L1918.2 710.7L1919.1 710.4L1920.1 710.1L1921.1 709.7L1922.1 709.4L1923.1 709.1" stroke="#e6393f"/>
<path d="M217.6 641.8L218.6 641.9L219.1 642.2L219.5 642.0L220.0 643.3L220.5 641.7L221.0 644.1L221.5 642.1L222.0 644.9L222.5 641.9L223.0 646.5L223.4 642.2L223.9 645.7L224.4 641.9L224.9 647.6L225.4 641.9L225.9 646.9L226.4 642.0L226.9 645.8L227.3 641.5L227.8 647.4L228.3 641.8L228.8 646.3L229.3 641.7L229.8 647.6L230.3 641.5L230.8 648.0L231.2 641.6L231.7 647.0L232.2 641.8L232.7 646.9L233.2 641.7L233.7 647.9L234.2 641.5L234.7 646.5L235.1 641.7L235.6 647.0L236.1 641.6L236.6 646.2L237.1 641.5L237.6 647.8L238.1 641.4L238.6 648.0L239.0 641.2L239.5 647.8L240.0 641.7L240.5 645.1L241.0 641.5L241.5 646.0L242.0 641.3L242.5 647.8L243.0 641.3L243.5 646.9L244.0 641.1L244.5 645.2L245.0 641.0L245.5 645.0L246.0 641.2L246.5 645.1L247.0 641.2L247.5 645.7L248.0 641.1L248.5 645.4L249.0 641.2L249.5 647.0L250.0 641.2L250.5 647.2L251.0 641.0L251.5 647.3L252.0 641.4L252.5 644.9L253.0 641.5L253.5 645.8L254.0 640.7L254.5 647.5L255.0 641.2L255.5 645.4L256.0 641.3L256.5 646.8L257.0 641.1L257.5 647.5L258.0 641.3L258.5 647.1L259.0 640.7L259.5 646.8L260.0 640.7L260.5 645.1L261.0 641.0L261.5 645.9L262.0 640.9L262.5 647.2L263.0 640.9L263.5 644.8L264.0 640.6L264.5 645.2L265.0 641.0L265.5 646.2L266.0 641.3L266.5 647.3L267.0 641.1L267.5 644.5L268.0 640.9L268.5 651.9L269.0 640.6L269.5 651.9L270.0 641.0L270.5 651.8L271.0 640.5L271.5 651.8L272.0 641.1L272.5 651.8L273.0 640.9L273.5 651.8L274.0 641.0L274.5 651.7L275.0 640.9L275.5 646.2L276.0 640.6L276.5 646.3L277.0 640.9L277.5 646.1L278.0 640.4L278.5 646.4L279.0 640.7L279.5 645.4L280.0 640.6L280.5 650.4L281.0 640.6L281.5 650.4L282.0 640.4L282.5 650.3L283.0 640.8L283.5 650.3L284.0 640.1L284.5 650.3L285.0 640.6L285.5 646.8L286.0 640.7L286.5 643.9L287.0 640.2L287.5 651.1L288.0 640.7L288.5 651.0L289.0 640.1L289.5 651.0L290.0 640.4L290.5 651.0L291.0 640.5L291.5 646.2L292.0 640.0L292.5 646.3L293.0 640.4L293.5 643.9L294.0 640.3L294.5 646.4L295.0 639.7L295.5 646.4L296.0 640.2L296.5 644.0L297.0 640.2L297.5 646.0L298.0 639.9L298.5 646.5L299.0 639.7L299.5 646.3L300.0 639.8L300.5 645.2L301.0 640.2L301.5 646.9L302.0 640.2L302.5 646.8L303.0 639.7L303.5 646.8L304.0 640.1L304.5 646.7L305.0 639.6L305.5 646.7L306.0 639.6L306.5 646.6L307.0 639.9L307.5 646.6L308.0 639.2L308.5 643.0L309.0 639.5L309.5 643.0L310.0 639.4L310.5 647.9L311.0 639.3L311.5 647.9L312.0 639.1L312.5 647.9L313.0 639.4L313.5 647.9L314.0 640.0L314.5 644.2L315.0 640.7L315.5 644.4L316.0 642.3L316.5 648.3L317.0 643.1L317.5 648.8L318.0 643.2L318.5 648.6L319.0 643.2L319.5 648.9L320.0 643.3L320.5 648.0L321.0 643.7L321.5 651.8L322.0 643.3L322.5 651.8L323.0 643.2L323.5 651.8L324.0 643.7L324.5 651.8L325.0 643.7L325.5 651.8L326.0 643.0L326.5 653.5L327.0 643.7L327.5 653.5L328.0 643.7L328.5 653.5L329.0 643.8L329.5 653.5L330.0 643.7L330.5 653.5L331.0 643.6L331.5 653.4L332.0 643.0L332.5 653.3L333.0 643.1L333.5 655.1L334.0 642.8L334.5 654.9L335.0 642.6L335.5 654.7L336.0 642.5L336.5 654.4L337.0 642.3L337.5 654.1L338.0 641.5L338.5 653.9L339.0 641.7L339.5 653.7L340.0 641.6L340.5 646.3L341.0 641.3L341.5 645.8L342.0 640.8L342.5 647.4L343.0 641.4L343.5 646.8L344.0 641.0L344.5 655.0L345.0 640.9L345.5 654.8L346.0 640.5L346.5 654.7L347.0 640.4L347.5 654.6L348.0 640.5L348.5 654.5L349.0 640.4L349.5 650.2L350.0 640.5L350.5 650.1L351.0 640.4L351.5 649.9L352.0 640.3L352.5 649.9L353.0 640.0L353.5 649.8L354.0 639.7L354.5 649.7L355.0 639.7L355.5 643.5L356.0 639.9L356.5 644.2L357.0 640.0L357.5 654.7L358.0 639.6L358.5 654.6L359.0 639.6L359.5 654.6L360.0 639.8L360.5 654.5L361.0 639.6L361.5 644.1L362.0 639.4L362.5 645.8L363.0 639.7L363.5 644.3L364.0 639.1L364.5 643.7L365.0 639.8L365.5 645.9L366.0 639.9L366.5 643.4L367.0 640.0L367.5 645.9L368.0 640.0L368.5 646.3L369.0 640.8L369.5 646.0L370.0 641.1L370.5 647.0L371.0 641.6L371.5 645.0L372.0 641.7L372.5 646.0L373.0 642.1L373.5 646.0L374.0 642.5L374.5 648.4L375.0 643.5L375.5 649.2L376.0 643.6L376.5 649.6L377.0 644.6L377.5 649.1L378.0 645.0L378.5 650.3L379.0 644.9L379.5 651.3L380.0 645.3L380.5 649.0L381.0 646.0L381.5 651.2L382.0 645.9L382.5 652.6L383.0 646.3L383.5 651.2L384.0 646.7L384.5 652.4L385.0 646.6L385.5 652.9L386.0 646.6L386.5 652.6L387.0 647.3L387.5 653.7L388.0 647.0L388.5 651.5L389.0 647.6L389.5 659.8L390.0 647.3L390.5 660.0L391.0 648.1L391.5 660.1L392.0 648.2L392.5 653.8L393.0 647.8L393.5 652.3L394.0 648.3L394.5 652.6L395.0 648.5L395.5 654.4L396.0 648.4L396.5 659.2L397.0 648.8L397.5 659.3L398.0 648.6L398.5 659.5L399.0 649.0L399.5 659.6L400.0 649.0L400.5 659.7L401.0 649.1L401.5 659.8L402.0 649.0L402.5 654.9L403.0 649.0L403.5 654.0L404.0 649.1L404.5 660.7L405.0 649.2L405.5 660.8L406.0 649.9L406.5 660.9L407.0 649.3L407.5 661.0L408.0 650.0L408.5 661.1L409.0 649.5L409.5 661.2L410.0 649.7L410.5 659.3L411.0 650.3L411.5 653.0L412.0 650.1L412.5 652.1L413.0 650.0L413.5 651.5L414.0 650.2L414.5 650.7L415.0 649.9L415.5 649.8L416.0 650.3L416.5 650.2L417.0 650.6L417.5 650.7L418.0 650.3L418.5 651.1L419.0 650.6L419.5 651.7L420.0 650.6L420.5 652.5L421.0 650.9L421.5 653.2L421.9 650.8L422.4 653.0L422.9 650.4L423.4 652.5L423.9 651.1L424.4 653.1L424.9 651.1L425.4 652.7L425.9 651.2L426.4 653.0L426.9 651.1L427.4 652.3L427.9 651.3L428.4 652.8L428.9 650.7L429.4 652.5L429.9 650.8L430.4 652.9L430.9 651.0L431.4 652.9L431.9 651.6L432.4 653.9L432.9 651.4L433.4 653.0L433.9 651.2L434.4 653.8L434.9 651.7L435.4 654.7L435.9 651.1L436.4 654.7L436.9 651.2L437.4 654.8L437.9 651.3L438.4 654.8L438.9 651.9L439.4 653.5L439.9 652.1L440.4 653.1L440.9 651.8L441.4 653.8L441.8 652.0L442.3 654.1L442.8 652.0L443.3 653.9L443.8 651.6L444.3 653.5L444.8 651.9L445.3 656.3L445.8 651.9L446.3 656.3L446.8 652.1L447.3 656.4L447.8 652.0L448.3 656.4L448.8 651.6L449.3 656.4L449.8 652.0L450.3 653.5L450.8 651.8L451.3 654.0L451.8 651.9L452.3 654.3L452.8 651.7L453.3 653.8L453.7 651.9L454.2 654.4L454.7 652.0L455.2 655.3L455.7 652.1L456.2 655.3L456.7 652.0L457.2 655.3L457.6 651.7L458.1 655.3L458.6 651.5L459.1 655.3L459.6 652.1L460.1 655.3L460.6 651.8L461.1 654.4L461.5 652.1L462.0 658.8L462.5 652.2L463.0 658.8L463.5 651.9L464.0 658.8L464.4 652.3L464.9 654.2L465.4 652.3L465.9 654.3L466.4 651.8L466.9 654.4L467.4 651.6L467.9 654.1L468.3 651.6L468.8 653.7L469.3 651.6L469.8 653.9L470.3 651.9L470.8 653.9L471.2 651.9L471.7 653.2L472.2 651.8L472.7 653.2L473.2 652.2L473.7 654.4L474.2 652.1L474.7 654.1L475.1 651.5L475.6 653.6L476.1 651.8L476.6 652.7L477.1 652.1L477.6 652.5L478.1 651.6L478.6 652.4L479.0 652.1L479.5 651.8L480.0 651.5L481.0 651.5L482.0 651.5L483.0 651.5L484.0 651.4L485.0 651.4L485.9 651.3L486.9 651.3L487.9 651.2L488.9 651.1L489.9 651.0L490.9 650.9L491.9 650.8L492.9 650.7L493.9 650.6L494.9 650.5L495.9 650.4L496.9 650.3L497.8 650.1L498.8 650.0L499.8 649.9L500.8 649.8L501.8 649.6L502.8 649.5L503.8 649.3L504.8 649.2L505.8 649.0L506.8 648.9L507.8 648.8L508.8 648.6L509.7 648.5L510.7 648.3L511.7 648.2L512.7 648.1L513.7 647.9L514.7 647.8L515.7 647.7L516.7 647.5L517.7 647.4L518.7 647.2L519.7 647.1L520.7 646.9L521.7 646.8L522.7 646.6L523.7 646.4L524.6 646.2L525.6 646.1L526.6 645.9L527.6 645.7L528.6 645.5L529.6 645.3L530.6 645.1L531.6 645.0L532.6 644.8L533.6 644.6L534.6 644.4L535.6 644.2L536.6 644.0L537.6 643.8L538.6 643.7L539.6 643.5L540.6 643.3L541.6 643.1L542.6 643.0L543.5 642.8L544.5 642.6L545.5 642.5L546.5 642.3L547.5 642.2L548.5 642.0L549.5 641.9L550.5 641.7L551.5 641.6L552.5 641.5L553.5 641.4L554.5 641.3L555.5 641.2L556.5 641.1L557.5 640.9L558.5 640.8L559.5 640.7L560.4 640.6L561.4 640.5L562.4 640.4L563.4 640.3L564.4 640.2L565.4 640.1L566.4 640.0L567.4 640.0L568.4 639.9L569.4 639.8L570.4 639.7L571.4 639.6L572.4 639.5L573.4 639.4L574.4 639.3L575.3 639.2L576.3 639.2L577.3 639.1L578.3 639.0L579.3 638.9L580.3 638.8L581.3 638.8L582.3 638.7L583.3 638.6L584.3 638.5L585.3 638.4L586.3 638.4L587.3 638.3L588.3 638.2L589.3 638.1L590.2 638.1L591.2 638.0L592.2 637.9L593.2 637.8L594.2 637.8L595.2 637.7L596.2 637.6L597.2 637.6L598.2 637.5L599.2 637.4L600.2 637.3L601.2 637.3L602.2 637.2L603.2 637.1L604.2 637.0L605.2 637.0L606.1 636.9L607.1 636.8L608.1 636.8L609.1 636.7L610.1 636.6L611.1 636.5L612.1 636.5L613.1 636.4L614.1 636.3L615.1 636.2L616.1 636.2L617.1 636.1L618.1 636.0L619.1 635.9L620.1 635.9L621.0 635.8L622.0 635.7L623.0 635.6L624.0 635.5L625.0 635.5L626.0 635.4L627.0 635.3L628.0 635.2L629.0 635.1L630.0 635.0L631.0 634.9L632.0 634.9L633.0 634.8L634.0 634.7L635.0 634.6L636.0 634.5L637.0 634.4L638.0 634.3L639.0 634.2L640.0 634.1L641.0 634.0L642.0 633.9L643.0 633.9L644.0 633.8L645.0 633.7L646.0 633.6L647.0 633.5L648.0 633.4L649.0 633.3L650.0 633.2L651.0 633.1L652.0 633.0L653.0 632.9L654.0 632.8L655.0 632.7L656.0 632.6L657.0 632.5L658.0 632.4L659.0 632.4L660.0 632.3L661.0 632.2L662.0 632.1L663.0 632.0L664.0 631.9L665.0 631.8L666.0 631.7L667.0 631.6L668.0 631.5L669.0 631.4L670.0 631.3L671.0 631.2L672.0 631.2L673.0 631.1L674.0 631.0L675.0 630.9L676.0 630.8L677.0 630.7L678.0 630.6L679.0 630.5L680.0 630.4L681.0 630.4L682.0 630.3L683.0 630.2L684.0 630.1L685.0 630.0L686.0 629.9L687.0 629.9L688.0 629.8L689.0 629.7L690.0 629.6L691.0 629.6L692.0 629.5L693.0 629.4L694.0 629.3L695.0 629.3L696.0 629.2L697.0 629.1L698.0 629.0L699.0 629.0L700.0 628.9L701.0 628.8L702.0 628.8L703.0 628.7L704.0 628.6L705.0 628.6L706.0 628.5L707.0 628.4L708.0 628.4L709.0 628.3L710.0 628.2L711.0 628.2L712.0 628.1L713.0 628.1L714.0 628.0L715.0 627.9L715.9 627.9L716.9 627.8L717.9 627.7L718.9 627.7L719.9 627.6L720.9 627.6L721.9 627.5L722.9 627.4L723.9 627.4L724.9 627.3L725.9 627.3L726.9 627.2L727.9 627.2L728.9 627.1L729.9 627.0L730.9 627.0L731.9 626.9L732.9 626.9L733.9 626.8L734.9 626.8L735.9 626.7L736.9 626.6L737.9 626.6L738.9 626.5L739.9 626.5L740.9 626.4L741.9 626.4L742.9 626.3L743.9 626.3L744.9 626.2L745.8 626.2L746.8 626.1L747.8 626.1L748.8 626.0L749.8 626.0L750.8 625.9L751.8 625.9L752.8 625.8L753.8 625.8L754.8 625.7L755.8 625.6L756.8 625.6L757.8 625.5L758.8 625.5L759.8 625.4L760.8 625.4L761.8 625.4L762.8 625.3L763.8 625.3L764.8 625.2L765.8 625.2L766.8 625.1L767.8 625.1L768.8 625.0L769.8 625.0L770.8 624.9L771.8 624.9L772.8 624.8L773.8 624.8L774.8 624.7L775.7 624.7L776.7 624.6L777.7 624.6L778.7 624.5L779.7 624.5L780.7 624.5L781.7 624.4L782.7 624.4L783.7 624.3L784.7 624.3L785.7 624.2L786.7 624.2L787.7 624.1L788.7 624.1L789.7 624.0L790.7 624.0L791.7 624.0L792.7 623.9L793.7 623.9L794.7 623.8L795.7 623.8L796.7 623.7L797.7 623.7L798.7 623.7L799.7 623.6L800.7 623.6L801.7 623.5L802.7 623.5L803.7 623.4L804.7 623.4L805.7 623.4L806.7 623.3L807.6 623.3L808.6 623.2L809.6 623.2L810.6 623.2L811.6 623.1L812.6 623.1L813.6 623.0L814.6 623.0L815.6 623.0L816.6 622.9L817.6 622.9L818.6 622.8L819.6 622.8L820.6 622.8L821.6 622.7L822.6 622.7L823.6 622.7L824.6 622.6L825.6 622.6L826.6 622.5L827.6 622.5L828.6 622.5L829.6 622.4L830.6 622.4L831.6 622.4L832.6 622.3L833.6 622.3L834.6 622.3L835.6 622.2L836.6 622.2L837.6 622.1L838.6 622.1L839.6 622.1L840.6 622.0L841.5 622.0L842.5 622.0L843.5 621.9L844.5 621.9L845.5 621.9L846.5 621.8L847.5 621.8L848.5 621.8L849.5 621.7L850.5 621.7L851.5 621.6L852.5 621.6L853.5 621.6L854.5 621.5L855.5 621.5L856.5 621.5L857.5 621.4L858.5 621.4L859.5 621.4L860.5 621.3L861.5 621.3L862.5 621.3L863.5 621.2L864.5 621.2L865.5 621.2L866.5 621.1L867.5 621.1L868.5 621.0L869.5 621.0L870.5 621.0L871.5 620.9L872.5 620.9L873.5 620.9L874.5 620.8L875.4 620.8L876.4 620.8L877.4 620.7L878.4 620.7L879.4 620.6L880.4 620.6L881.4 620.6L882.4 620.5L883.4 620.5L884.4 620.5L885.4 620.4L886.4 620.4L887.4 620.4L888.4 620.3L889.4 620.3L890.4 620.2L891.4 620.2L892.4 620.2L893.4 620.1L894.4 620.1L895.4 620.0L896.4 620.0L897.4 620.0L898.3 619.9L899.3 619.9L900.3 619.8L901.3 619.8L902.3 619.7L903.3 619.7L904.3 619.6L905.3 619.6L906.3 619.6L907.3 619.5L908.3 619.5L909.3 619.4L910.2 619.4L911.2 619.3L912.2 619.3L913.2 619.2L914.2 619.2L915.2 619.1L916.2 619.1L917.2 619.0L918.2 619.0L919.2 618.9L920.2 618.9L921.2 618.8L922.1 618.8L923.1 618.7L924.1 618.7L925.1 618.6L926.1 618.6L927.1 618.5L928.1 618.5L929.1 618.4L930.1 618.4L931.1 618.3L932.1 618.3L933.1 618.2L934.1 618.2L935.0 618.1L936.0 618.1L937.0 618.0L938.0 618.0L939.0 617.9L940.0 617.9L941.0 617.8L942.0 617.8L943.0 617.7L944.0 617.7L945.0 617.6L946.0 617.6L946.9 617.5L947.9 617.5L948.9 617.4L949.9 617.4L950.9 617.4L951.9 617.3L952.9 617.3L953.9 617.2L954.9 617.2L955.9 617.1L956.9 617.1L957.9 617.1L958.9 617.0L959.8 617.0L960.8 617.0L961.8 616.9L962.8 616.9L963.8 616.9L964.8 616.8L965.8 616.8L966.8 616.8L967.8 616.7L968.8 616.7L969.8 616.7L970.8 616.7L971.7 616.6L972.7 616.6L973.7 616.6L974.7 616.6L975.7 616.5L976.7 616.5L977.7 616.5L978.7 616.5L979.7 616.5L980.7 616.5L981.7 616.4L982.7 616.4L983.6 616.4L984.6 616.4L985.6 616.4L986.6 616.4L987.6 616.4L988.6 616.4L989.6 616.4L990.6 616.6L991.6 617.1L992.6 617.9L993.6 618.9L994.6 620.2L995.5 623.2L996.4 629.1L997.3 636.7L998.2 645.2L999.1 653.3L1000.0 660.0L1001.0 666.9L1002.0 674.2L1003.0 681.4L1004.0 687.4L1005.0 691.6L1006.0 693.2L1007.0 689.7L1008.0 682.1L1009.0 675.0L1009.8 670.0L1010.6 664.9L1011.5 660.8L1012.3 659.2L1013.2 661.0L1014.1 664.7L1015.0 668.0L1015.9 670.5L1016.8 673.0L1017.6 674.8L1018.5 675.6L1019.4 674.7L1020.3 672.2L1021.2 668.8L1022.2 664.9L1023.1 661.1L1024.0 658.0L1025.0 655.3L1026.0 652.7L1027.0 650.2L1027.9 647.8L1028.9 645.3L1029.9 642.9L1030.8 640.7L1031.6 638.4L1032.5 636.0L1033.4 633.8L1034.3 631.6L1035.1 629.7L1036.0 628.0L1036.9 626.3L1037.9 624.6L1038.8 623.0L1039.7 621.5L1040.6 620.3L1041.6 619.5L1042.5 619.0L1043.5 618.8L1044.4 618.6L1045.4 618.4L1046.4 618.2L1047.3 618.1L1048.3 617.9L1049.3 617.8L1050.2 617.7L1051.2 617.6L1052.2 617.5L1053.1 617.4L1054.1 617.3L1055.0 617.2L1056.0 617.1L1057.0 617.0L1057.9 617.0L1058.9 616.9L1059.9 616.9L1060.8 616.8L1061.8 616.8L1062.8 616.7L1063.7 616.6L1064.7 616.6L1065.7 616.5L1066.6 616.5L1067.6 616.4L1068.6 616.3L1069.6 616.3L1070.6 616.2L1071.6 616.1L1072.6 616.1L1073.6 616.0L1074.6 615.9L1075.6 615.9L1076.5 615.8L1077.5 615.7L1078.5 615.7L1079.5 615.6L1080.5 615.6L1081.5 615.5L1082.5 615.4L1083.5 615.4L1084.5 615.3L1085.5 615.3L1086.5 615.2L1087.5 615.2L1088.5 615.1L1089.5 615.0L1090.5 615.0L1091.5 614.9L1092.5 614.9L1093.4 614.8L1094.4 614.8L1095.4 614.7L1096.4 614.7L1097.4 614.6L1098.4 614.6L1099.4 614.5L1100.4 614.5L1101.4 614.4L1102.4 614.4L1103.4 614.3L1104.4 614.3L1105.4 614.2L1106.4 614.2L1107.4 614.1L1108.4 614.1L1109.4 614.1L1110.3 614.0L1111.3 614.0L1112.3 613.9L1113.3 613.9L1114.3 613.8L1115.3 613.8L1116.3 613.7L1117.3 613.7L1118.3 613.7L1119.3 613.6L1120.3 613.6L1121.3 613.5L1122.3 613.5L1123.3 613.4L1124.3 613.4L1125.3 613.4L1126.3 613.3L1127.3 613.3L1128.2 613.2L1129.2 613.2L1130.2 613.2L1131.2 613.1L1132.2 613.1L1133.2 613.0L1134.2 613.0L1135.2 613.0L1136.2 612.9L1137.2 612.9L1138.2 612.9L1139.2 612.8L1140.2 612.8L1141.2 612.7L1142.2 612.7L1143.2 612.7L1144.2 612.6L1145.1 612.6L1146.1 612.5L1147.1 612.5L1148.1 612.5L1149.1 612.4L1150.1 612.4L1151.1 612.4L1152.1 612.3L1153.1 612.3L1154.1 612.2L1155.1 612.2L1156.1 612.2L1157.1 612.1L1158.1 612.1L1159.1 612.0L1160.1 612.0L1161.1 612.0L1162.0 611.9L1163.0 611.9L1164.0 611.8L1165.0 611.8L1166.0 611.8L1167.0 611.7L1168.0 611.7L1169.0 611.6L1170.0 611.6L1171.0 611.7L1171.5 612.0L1172.0 612.1L1172.5 612.3L1173.0 611.8L1173.5 612.9L1174.0 611.7L1174.5 612.6L1175.0 611.5L1175.5 613.1L1176.0 611.8L1176.5 614.3L1177.0 612.0L1177.5 613.5L1178.0 611.8L1178.5 612.9L1179.0 611.3L1179.5 613.3L1180.0 611.7L1180.5 613.4L1181.0 611.2L1181.5 613.6L1182.0 611.4L1182.5 613.7L1183.0 611.7L1183.5 612.7L1184.0 611.5L1184.5 612.8L1185.0 611.4L1185.5 613.3L1186.0 611.3L1186.5 613.0L1187.0 611.2L1187.5 613.5L1188.0 610.9L1188.5 612.9L1189.0 610.7L1189.5 613.0L1190.0 610.9L1190.5 613.2L1191.0 611.1L1191.5 613.1L1192.0 610.6L1192.5 616.4L1193.0 611.3L1193.5 616.4L1194.0 610.6L1194.5 616.3L1195.0 610.9L1195.5 612.7L1196.0 611.0L1196.5 612.1L1197.0 611.0L1197.5 612.2L1198.0 610.4L1198.5 612.2L1199.0 610.8L1199.5 612.1L1200.0 610.7L1200.5 612.3L1201.0 610.4L1201.5 613.4L1202.0 610.7L1202.5 613.4L1203.0 610.3L1203.5 613.3L1204.0 610.0L1204.5 613.3L1205.0 610.6L1205.5 613.2L1206.0 610.2L1206.5 613.2L1207.0 610.4L1207.5 613.1L1208.0 610.2L1208.5 612.6L1209.0 610.3L1209.5 612.4L1210.0 609.9L1210.5 612.3L1211.0 610.1L1211.5 612.6L1212.0 609.7L1212.5 612.2L1213.0 610.2L1213.5 612.5L1214.0 609.7L1214.5 611.3L1215.0 609.9L1215.5 611.2L1216.0 609.9L1216.5 612.1L1217.0 610.1L1217.5 611.3L1218.0 609.5L1218.5 611.9L1219.0 609.5L1219.5 611.4L1220.0 609.3L1220.5 610.9L1221.0 609.4L1221.5 611.2L1222.0 609.3L1222.5 614.6L1223.0 609.9L1223.5 614.5L1224.0 609.2L1224.5 614.5L1225.0 609.5L1225.5 614.5L1226.0 609.2L1226.5 612.0L1227.0 609.3L1227.5 611.0L1228.0 609.4L1228.5 611.9L1229.0 609.3L1229.5 611.8L1230.0 608.9L1230.5 611.4L1231.0 608.9L1231.5 610.7L1232.0 609.1L1232.5 611.7L1233.0 609.2L1233.5 610.6L1234.0 608.9L1234.5 611.6L1235.0 609.1L1235.5 611.7L1236.0 608.8L1236.5 611.5L1237.0 609.2L1237.5 610.7L1238.0 608.7L1238.5 611.0L1239.0 609.0L1239.5 610.8L1240.0 608.7L1240.5 611.7L1241.0 608.7L1241.5 610.9L1242.0 609.3L1242.5 611.5L1243.0 609.1L1243.5 611.2L1244.0 609.1L1244.5 612.2L1245.0 609.3L1245.5 612.2L1246.0 609.4L1246.5 612.2L1247.0 609.4L1247.5 612.2L1248.0 609.2L1248.5 612.2L1249.0 608.7L1249.5 612.2L1250.0 609.2L1250.5 611.1L1251.0 609.0L1251.5 611.4L1252.0 609.2L1252.5 611.0L1253.0 608.8L1253.5 611.2L1254.0 608.8L1254.5 610.7L1255.0 609.1L1255.5 612.6L1256.0 609.3L1256.5 612.6L1257.0 608.7L1257.5 612.6L1258.0 608.8L1258.5 612.7L1259.0 609.4L1259.5 611.5L1260.0 609.1L1260.5 610.8L1261.0 609.5L1261.5 610.6L1262.0 609.2L1262.5 613.8L1263.0 609.4L1263.5 613.9L1264.0 609.2L1264.5 613.9L1265.0 609.5L1265.5 614.0L1266.0 609.4L1266.5 614.0L1267.0 609.2L1267.5 612.1L1268.0 609.3L1268.5 613.2L1269.0 609.5L1269.5 613.2L1270.0 609.4L1270.5 613.3L1271.0 609.8L1271.5 613.3L1272.0 609.9L1272.5 613.4L1273.0 610.1L1273.5 613.5L1274.0 609.6L1274.5 611.6L1275.0 610.2L1275.5 611.7L1276.0 610.4L1276.5 611.5L1277.0 610.2L1277.5 612.8L1278.0 609.9L1278.5 612.7L1279.0 610.6L1279.5 612.4L1280.0 610.2L1280.5 612.9L1281.0 610.9L1281.5 612.0L1282.0 610.4L1282.5 612.9L1283.0 610.9L1283.5 612.0L1284.0 610.4L1284.5 612.7L1285.0 610.9L1285.5 612.0L1286.0 610.5L1286.5 613.1L1287.0 610.5L1287.5 612.4L1288.0 610.5L1288.5 613.2L1289.0 611.0L1289.5 613.1L1290.0 610.6L1290.5 613.5L1291.0 610.7L1291.5 613.5L1292.0 610.8L1292.5 613.6L1293.0 610.7L1293.5 613.6L1294.0 610.9L1294.5 613.7L1295.0 611.1L1295.5 613.7L1296.0 611.3L1296.5 613.2L1297.0 611.6L1297.5 612.8L1298.0 611.2L1298.5 613.7L1299.0 610.9L1299.5 615.7L1300.0 610.9L1300.5 615.7L1301.0 611.6L1301.5 615.7L1302.0 611.0L1302.5 613.0L1303.0 611.3L1303.5 613.4L1304.0 611.5L1304.5 613.0L1305.0 611.5L1305.5 612.8L1306.0 611.3L1306.5 613.3L1307.0 611.5L1307.5 613.8L1308.0 611.1L1308.5 613.4L1309.0 611.7L1309.5 612.8L1310.0 611.9L1310.5 614.0L1311.0 611.5L1311.5 613.3L1312.0 611.3L1312.5 613.9L1313.0 611.3L1313.5 614.2L1314.0 611.5L1314.5 614.0L1315.0 611.8L1315.5 613.2L1316.0 611.6L1316.5 612.7L1317.0 611.7L1317.5 612.2L1318.0 612.1L1318.5 612.4L1319.0 612.1L1319.5 611.8L1320.0 611.5L1321.0 612.3L1321.5 612.8L1322.0 611.7L1322.5 613.5L1323.0 612.2L1323.5 614.3L1324.0 612.1L1324.5 615.3L1325.0 612.2L1325.5 616.1L1326.0 612.2L1326.5 618.1L1327.0 613.1L1327.5 619.2L1328.0 612.6L1328.5 619.8L1329.0 612.9L1329.5 620.5L1330.0 613.6L1330.5 620.2L1331.0 613.2L1331.5 618.2L1332.0 614.0L1332.5 628.9L1333.0 613.6L1333.5 629.1L1334.0 614.4L1334.5 629.3L1335.0 614.6L1335.5 629.6L1336.0 614.5L1336.5 629.8L1337.0 614.6L1337.5 620.9L1338.0 615.2L1338.5 622.4L1339.0 615.6L1339.5 624.0L1340.0 615.4L1340.5 624.2L1341.0 616.2L1341.5 624.5L1342.0 615.9L1342.5 621.1L1343.0 616.5L1343.5 629.8L1344.0 616.8L1344.5 630.0L1345.0 617.1L1345.5 630.3L1346.0 617.2L1346.5 630.5L1347.0 617.4L1347.5 624.9L1348.0 617.5L1348.5 622.0L1349.0 617.6L1349.5 622.4L1350.0 618.2L1350.5 622.0L1351.0 618.4L1351.5 624.3L1352.0 617.9L1352.5 624.6L1353.0 618.7L1353.5 630.3L1354.0 618.7L1354.5 630.5L1355.0 619.2L1355.5 630.7L1356.0 619.3L1356.5 630.9L1357.0 619.3L1357.5 631.1L1358.0 619.2L1358.5 624.5L1359.0 619.8L1359.5 624.6L1360.0 619.4L1360.5 627.3L1361.0 620.0L1361.5 627.3L1362.0 620.1L1362.5 625.1L1363.0 619.8L1363.5 627.3L1364.0 620.0L1364.5 627.4L1365.0 619.9L1365.5 624.4L1366.0 619.8L1366.5 627.0L1367.0 620.3L1367.5 625.6L1367.9 619.4L1368.4 625.5L1368.9 619.2L1369.4 624.6L1369.9 619.3L1370.4 623.9L1370.9 618.3L1371.4 624.3L1371.8 618.0L1372.3 622.1L1372.8 617.3L1373.3 623.9L1373.8 616.7L1374.3 621.7L1374.8 616.1L1375.3 620.6L1375.7 615.8L1376.2 623.1L1376.7 615.6L1377.2 621.7L1377.7 614.6L1378.2 618.9L1378.7 613.7L1379.2 621.0L1379.6 613.8L1380.1 620.7L1380.6 613.2L1381.1 618.1L1381.6 612.9L1382.1 618.9L1382.6 612.8L1383.1 616.5L1383.5 612.1L1384.0 616.5L1384.5 612.2L1385.0 616.7L1385.5 612.0L1386.0 625.2L1386.4 612.2L1386.9 625.2L1387.4 611.8L1387.9 625.3L1388.3 612.6L1388.8 619.3L1389.3 612.4L1389.8 623.7L1390.2 613.0L1390.7 623.9L1391.2 612.9L1391.7 624.3L1392.1 613.6L1392.6 624.6L1393.1 614.1L1393.6 625.0L1394.0 614.0L1394.5 618.7L1395.0 614.4L1395.5 619.8L1395.9 615.0L1396.4 621.2L1396.9 615.6L1397.4 620.8L1397.8 615.4L1398.3 621.7L1398.8 615.4L1399.3 623.1L1399.7 615.6L1400.2 621.2L1400.7 616.0L1401.2 620.6L1401.6 616.1L1402.1 620.8L1402.6 616.4L1403.1 623.1L1403.6 615.9L1404.1 622.5L1404.5 615.9L1405.0 623.4L1405.5 616.1L1406.0 622.9L1406.5 616.2L1407.0 621.7L1407.5 615.3L1408.0 622.8L1408.5 615.8L1409.0 619.7L1409.4 615.4L1409.9 622.1L1410.4 615.3L1410.9 619.9L1411.4 614.8L1411.9 621.1L1412.4 615.2L1412.9 620.7L1413.4 614.4L1413.9 621.9L1414.3 614.1L1414.8 619.6L1415.3 614.7L1415.8 621.0L1416.3 614.0L1416.8 621.7L1417.3 613.9L1417.8 626.0L1418.3 613.5L1418.8 625.8L1419.3 613.8L1419.8 625.6L1420.2 613.1L1420.7 625.4L1421.2 613.2L1421.7 625.3L1422.2 612.6L1422.7 627.1L1423.2 612.8L1423.7 626.9L1424.2 613.0L1424.7 626.8L1425.1 612.2L1425.6 626.6L1426.1 612.7L1426.6 626.5L1427.1 612.4L1427.6 617.2L1428.1 611.9L1428.6 617.2L1429.1 612.1L1429.6 619.3L1430.0 612.2L1430.5 619.1L1431.0 612.3L1431.5 620.9L1432.0 612.3L1432.5 620.9L1433.0 611.7L1433.5 620.9L1434.0 612.0L1434.5 620.9L1435.0 612.1L1435.5 620.9L1436.0 611.9L1436.5 620.9L1437.0 611.6L1437.5 620.9L1438.0 611.9L1438.5 616.6L1439.0 612.2L1439.5 617.9L1440.0 611.7L1440.5 616.2L1441.0 611.8L1441.5 618.1L1442.0 612.1L1442.5 618.5L1443.0 612.4L1443.5 619.4L1444.0 611.6L1444.5 617.5L1445.0 611.8L1445.5 616.1L1446.0 612.2L1446.5 616.2L1447.0 611.7L1447.5 617.3L1448.0 611.7L1448.5 616.1L1449.0 611.6L1449.5 617.5L1450.0 611.9L1450.5 616.1L1451.0 612.2L1451.5 624.4L1452.0 611.6L1452.5 624.4L1453.0 612.2L1453.5 624.4L1454.0 611.6L1454.5 624.4L1455.0 612.1L1455.5 624.4L1456.0 612.2L1456.5 619.2L1457.0 612.1L1457.5 618.6L1458.0 612.1L1458.5 617.7L1459.0 612.3L1459.5 617.1L1460.0 612.3L1460.5 616.6L1461.0 611.8L1461.5 618.8L1462.0 611.6L1462.5 619.3L1463.0 612.4L1463.5 616.5L1464.0 612.1L1464.5 619.4L1465.0 612.1L1465.5 619.9L1466.0 612.0L1466.5 619.9L1467.0 611.8L1467.5 619.9L1468.0 612.3L1468.5 620.0L1469.0 611.9L1469.5 620.0L1470.0 611.9L1470.5 616.9L1471.0 612.6L1471.5 616.7L1472.0 612.2L1472.5 619.2L1473.0 612.2L1473.5 619.9L1474.0 612.5L1474.5 617.4L1475.0 612.7L1475.5 616.7L1476.0 612.6L1476.5 617.5L1477.0 613.1L1477.5 619.6L1478.0 612.9L1478.5 619.9L1479.0 613.4L1479.5 620.4L1480.0 612.9L1480.5 618.0L1481.0 613.6L1481.5 617.7L1482.0 614.0L1482.5 628.2L1483.0 613.9L1483.5 628.4L1484.0 614.0L1484.5 628.6L1484.9 615.6L1485.4 630.0L1485.8 618.1L1486.2 632.9L1486.6 621.5L1487.1 635.7L1487.5 622.2L1488.0 629.1L1488.3 620.2L1488.8 626.2L1489.2 615.8L1489.7 621.4L1490.0 612.5L1490.5 619.7L1491.0 611.1L1491.5 617.1L1492.0 610.2L1492.5 614.4L1493.0 609.5L1493.5 618.6L1494.0 608.3L1494.5 618.0L1495.0 608.1L1495.5 615.9L1496.0 608.4L1496.5 614.2L1497.0 607.9L1497.5 612.5L1498.0 608.1L1498.5 610.9L1499.0 607.7L1499.5 609.2L1500.0 607.6L1501.0 608.3L1501.5 607.8L1502.0 607.9L1502.5 608.2L1503.0 608.2L1503.5 608.4L1504.0 608.0L1504.5 608.8L1505.0 607.8L1505.5 608.9L1506.0 608.0L1506.5 608.9L1507.0 608.0L1507.5 608.8L1508.0 607.8L1508.5 609.3L1509.0 608.3L1509.5 609.3L1510.0 607.6L1510.5 609.2L1511.0 608.2L1511.5 609.5L1512.0 607.7L1512.5 609.2L1513.0 608.0L1513.5 609.1L1514.0 607.6L1514.5 608.8L1514.9 608.0L1515.4 609.1L1515.9 608.1L1516.4 609.1L1516.9 607.8L1517.4 608.8L1517.9 607.5L1518.4 609.1L1518.8 607.4L1519.3 608.5L1519.8 607.4L1520.3 608.2L1520.8 607.4L1521.3 608.2L1521.8 607.4L1522.3 608.2L1522.7 606.9L1523.2 610.0L1523.7 606.4L1524.2 609.9L1524.7 606.4L1525.2 609.7L1525.7 606.6L1526.2 609.6L1526.6 606.1L1527.1 609.5L1527.6 606.2L1528.1 609.4L1528.6 606.0L1529.1 607.2L1529.6 606.5L1530.1 607.6L1530.5 605.8L1531.0 607.4L1531.5 606.3L1532.0 606.9L1532.5 606.1L1533.0 607.1L1533.5 605.7L1534.0 607.4L1534.5 605.9L1535.0 607.3L1535.5 606.4L1536.0 607.0L1536.4 606.2L1536.9 606.6L1537.4 605.8L1537.9 606.2L1538.4 605.7L1538.9 606.7L1539.4 606.0L1539.9 606.1L1540.4 605.8L1541.4 605.8L1542.4 605.9L1543.4 605.9L1544.3 606.0L1545.3 606.0L1546.3 606.1L1547.3 606.2L1548.3 606.2L1549.3 606.3L1550.3 606.3L1551.2 606.4L1552.2 606.5L1553.2 606.5L1554.2 606.6L1555.2 606.6L1556.2 606.7L1557.2 606.8L1558.2 606.8L1559.1 606.9L1560.1 606.9L1561.1 607.0L1562.1 607.0L1563.1 607.1L1564.1 607.1L1565.1 607.1L1566.1 607.2L1567.0 607.2L1568.0 607.2L1569.0 607.2L1570.0 607.2L1571.0 607.2L1572.0 607.2L1573.0 607.2L1574.0 607.2L1575.0 607.2L1575.9 607.2L1576.9 607.2L1577.9 607.2L1578.9 607.2L1579.9 607.2L1580.9 607.1L1581.9 607.1L1582.9 607.1L1583.9 607.1L1584.9 607.1L1585.9 607.1L1586.9 607.1L1587.8 607.1L1588.8 607.0L1589.8 607.0L1590.8 607.0L1591.8 607.0L1592.8 607.0L1593.8 606.9L1594.8 606.9L1595.8 606.9L1596.8 606.9L1597.8 606.9L1598.7 606.8L1599.7 606.8L1600.7 606.8L1601.7 606.8L1602.7 606.7L1603.7 606.7L1604.7 606.7L1605.7 606.7L1606.7 606.6L1607.7 606.6L1608.7 606.6L1609.6 606.5L1610.6 606.5L1611.6 606.5L1612.6 606.4L1613.6 606.4L1614.6 606.4L1615.6 606.3L1616.6 606.3L1617.6 606.3L1618.6 606.2L1619.6 606.2L1620.6 606.1L1621.5 606.1L1622.5 606.1L1623.5 606.0L1624.5 606.0L1625.5 605.9L1626.5 605.9L1627.5 605.9L1628.5 605.8L1629.5 605.7L1630.5 605.7L1631.4 605.6L1632.4 605.5L1633.4 605.4L1634.4 605.3L1635.4 605.1L1636.4 605.0L1637.4 604.9L1638.4 604.8L1639.4 604.6L1640.4 604.5L1641.3 604.3L1642.3 604.2L1643.3 604.0L1644.3 603.9L1645.3 603.7L1646.3 603.6L1647.3 603.4L1648.3 603.2L1649.3 603.1L1650.3 602.9L1651.2 602.7L1652.2 602.6L1653.2 602.4L1654.2 602.3L1655.2 602.1L1656.2 601.9L1657.2 601.8L1658.2 601.6L1659.2 601.4L1660.2 601.2L1661.2 601.0L1662.2 600.8L1663.2 600.6L1664.2 600.4L1665.2 600.2L1666.2 600.0L1667.2 599.8L1668.1 599.6L1669.1 599.3L1670.1 599.1L1671.1 598.9L1672.1 598.6L1673.1 598.4L1674.1 598.2L1675.1 597.9L1676.1 597.7L1677.1 597.5L1678.1 597.2L1679.1 597.0L1680.1 596.8L1681.1 596.5L1682.1 596.3L1683.1 596.1L1684.1 595.8L1685.1 595.6L1686.1 595.4L1687.1 595.2L1688.1 595.0L1689.1 594.8L1690.1 594.6L1691.0 594.4L1692.0 594.2L1693.0 594.0L1694.0 593.8L1695.0 593.6L1696.0 593.5L1697.0 593.3L1698.0 593.1L1699.0 593.0L1700.0 592.9L1701.0 592.7L1702.0 592.6L1703.0 592.5L1704.0 592.4L1705.0 592.3L1706.0 592.2L1706.9 592.1L1707.9 592.0L1708.9 591.9L1709.9 591.8L1710.9 591.7L1711.9 591.6L1712.8 591.5L1713.8 591.4L1714.8 591.3L1715.8 591.2L1716.8 591.1L1717.8 591.0L1718.8 590.9L1719.7 590.8L1720.7 590.7L1721.7 590.6L1722.7 590.6L1723.7 590.5L1724.7 590.4L1725.6 590.3L1726.6 590.3L1727.6 590.2L1728.6 590.1L1729.6 590.1L1730.6 590.0L1731.6 590.0L1732.5 589.9L1733.5 589.9L1734.5 589.8L1735.5 589.8L1736.5 589.8L1737.5 589.7L1738.4 589.7L1739.4 589.7L1740.4 589.7L1741.4 589.7L1742.4 589.7L1743.3 589.8L1744.3 589.8L1745.2 590.0L1746.2 590.1L1747.1 590.2L1748.1 590.4L1749.1 590.6L1750.0 590.8L1751.0 591.0L1751.9 591.3L1752.9 591.5L1753.8 591.7L1754.8 592.0L1755.7 592.2L1756.7 592.5L1757.7 592.8L1758.6 593.2L1759.5 593.6L1760.5 594.2L1761.5 594.7L1762.4 595.3L1763.3 595.8L1764.3 596.4L1765.2 596.9L1766.2 597.4L1767.2 597.7L1768.1 598.0L1769.0 598.2L1770.0 598.3L1771.0 598.3L1771.9 598.2L1772.9 598.1L1773.8 597.9L1774.8 597.8L1775.8 597.7L1776.7 597.5L1777.7 597.4L1778.6 597.3L1779.6 597.3L1780.6 597.4L1781.5 597.5L1782.5 597.8L1783.4 598.1L1784.4 598.5L1785.4 598.9L1786.3 599.5L1787.3 600.0L1788.3 600.6L1789.2 601.2L1790.2 601.9L1791.2 602.5L1792.1 603.2L1793.1 603.8L1794.0 604.4L1795.0 605.0L1796.0 605.6L1796.9 606.3L1797.9 607.1L1798.8 607.9L1799.8 608.8L1800.7 609.7L1801.7 610.6L1802.6 611.6L1803.6 612.5L1804.6 613.3L1805.5 614.2L1806.5 614.9L1807.4 615.6L1808.4 616.2L1809.3 616.7L1810.3 617.1L1811.2 617.3L1812.2 617.4L1813.2 617.3L1814.1 617.1L1815.0 616.8L1816.0 616.3L1817.0 615.9L1817.9 615.4L1818.9 614.9L1819.8 614.4L1820.8 613.9L1821.7 613.6L1822.7 613.3L1823.6 613.0L1824.6 612.7L1825.5 612.3L1826.5 612.0L1827.4 611.7L1828.4 611.4L1829.3 611.1L1830.3 610.8L1831.3 610.6L1832.2 610.4L1833.2 610.2L1834.1 610.0L1835.1 609.9L1836.0 609.8L1837.0 609.8L1838.0 610.1L1839.0 610.8L1840.0 612.0L1840.9 616.9L1841.8 621.2L1842.8 609.6L1843.7 597.3L1844.7 596.1L1845.6 595.1L1846.6 594.3L1847.5 593.6L1848.5 593.0L1849.5 592.6L1850.4 592.2L1851.4 591.9L1852.4 591.6L1853.3 591.4L1854.3 591.1L1855.2 590.9L1856.2 590.6L1857.2 590.3L1858.2 590.0L1859.2 589.8L1860.2 589.5L1861.1 589.3L1862.1 589.1L1863.1 588.9L1864.1 588.7L1865.1 588.5L1866.1 588.3L1867.1 588.1L1868.1 588.0L1869.1 587.8L1870.1 587.6L1871.0 587.5L1872.0 587.3L1873.0 587.2L1874.0 587.0L1875.0 586.9L1876.0 586.7L1877.0 586.5L1878.0 586.4L1879.0 586.2L1880.0 586.0L1880.9 585.8L1881.9 585.6L1882.9 585.4L1883.9 585.1L1884.9 584.9L1885.9 584.6L1886.8 584.3L1887.8 584.0L1888.7 583.7L1889.7 583.3L1890.6 583.0L1891.6 582.6L1892.5 582.2L1893.5 581.8L1894.5 581.4L1895.4 581.1L1896.4 580.7L1897.3 580.3L1898.3 579.9L1899.2 579.6L1900.2 579.3L1901.1 579.0L1902.1 578.7L1903.0 578.4L1904.0 578.2L1905.0 578.0L1905.9 577.8L1906.9 577.6L1907.8 577.5L1908.8 577.3L1909.7 577.2L1910.7 577.0L1911.6 576.9L1912.6 576.7L1913.5 576.6L1914.5 576.5L1915.5 576.3L1916.4 576.2L1917.4 576.1L1918.3 576.0L1919.3 575.8L1920.2 575.7L1921.2 575.6L1922.1 575.4L1923.1 575.3" stroke="#236fd8"/>
<path d="M217.6 518.0L218.6 518.5L219.1 518.8L219.6 517.9L220.1 519.8L220.5 518.0L221.0 520.8L221.5 517.7L222.0 522.6L222.5 518.1L223.0 521.4L223.5 517.4L224.0 521.9L224.4 517.3L224.9 522.7L225.4 517.6L225.9 523.7L226.4 517.4L226.9 523.6L227.4 517.1L227.9 525.1L228.3 517.2L228.8 524.0L229.3 516.8L229.8 523.4L230.3 517.1L230.8 522.3L231.3 516.9L231.8 524.9L232.3 516.3L232.8 522.4L233.2 516.2L233.7 522.7L234.2 516.5L234.7 528.4L235.2 516.6L235.7 528.3L236.2 515.9L236.7 528.2L237.1 516.1L237.6 531.3L238.1 516.0L238.6 531.2L239.1 515.7L239.6 531.2L240.1 515.6L240.6 531.1L241.0 516.2L241.5 531.1L242.0 516.0L242.5 531.1L243.0 515.8L243.5 523.0L244.0 515.8L244.5 522.8L245.0 515.9L245.5 522.4L246.0 516.0L246.5 523.2L247.0 516.3L247.5 523.9L248.0 515.6L248.5 521.7L249.0 515.5L249.5 521.9L250.0 516.3L250.5 522.9L251.0 515.8L251.5 523.2L252.0 515.8L252.5 531.3L253.0 515.8L253.5 531.3L254.0 516.1L254.5 531.3L255.0 516.2L255.5 523.7L256.0 515.7L256.5 522.6L257.0 515.9L257.5 520.6L258.0 515.6L258.5 523.7L259.0 516.3L259.5 522.3L260.0 516.1L260.5 522.7L261.0 515.6L261.5 533.6L262.0 516.1L262.5 533.6L263.0 515.6L263.5 533.6L264.0 516.0L264.5 523.2L265.0 516.0L265.5 523.2L266.0 515.8L266.5 521.0L267.0 515.7L267.5 527.3L268.0 516.1L268.5 527.3L269.0 516.1L269.5 527.3L270.0 515.9L270.5 527.3L271.0 516.0L271.5 527.3L272.0 515.9L272.5 527.3L273.0 516.2L273.5 527.2L273.9 516.2L274.4 531.8L274.9 515.4L275.4 531.7L275.9 515.5L276.4 531.6L276.9 515.7L277.4 531.5L277.9 515.1L278.4 531.4L278.9 515.0L279.4 520.6L279.9 515.3L280.4 520.7L280.8 514.7L281.3 521.0L281.8 515.2L282.3 523.4L282.8 515.1L283.3 523.1L283.8 514.5L284.3 522.8L284.8 514.4L285.3 521.4L285.8 514.6L286.3 523.0L286.8 514.2L287.3 520.2L287.8 514.0L288.3 520.6L288.7 513.8L289.2 521.5L289.7 514.3L290.2 518.6L290.7 514.0L291.2 521.6L291.7 513.4L292.2 519.7L292.7 513.8L293.2 519.7L293.7 513.7L294.2 520.4L294.7 513.3L295.2 521.5L295.6 513.2L296.1 519.2L296.6 513.6L297.1 525.0L297.6 513.3L298.1 525.0L298.6 513.2L299.1 525.0L299.5 513.2L300.0 525.0L300.5 513.6L301.0 525.0L301.4 513.8L301.9 525.1L302.3 514.0L302.8 525.2L303.2 513.5L303.7 521.4L304.1 514.1L304.6 520.6L305.1 514.1L305.6 521.2L306.0 514.6L306.5 519.8L306.9 514.1L307.4 521.5L307.9 514.6L308.4 519.6L308.8 514.7L309.3 522.2L309.7 514.9L310.2 523.7L310.6 515.3L311.1 524.0L311.6 515.9L312.1 524.3L312.5 516.2L313.0 524.0L313.4 516.1L313.9 522.8L314.3 516.8L314.8 524.4L315.2 517.5L315.8 530.7L316.2 518.0L316.7 531.2L317.1 518.0L317.6 531.7L318.0 518.9L318.5 532.1L318.9 519.1L319.4 532.4L319.9 519.0L320.4 532.6L320.8 519.1L321.3 532.7L321.8 519.5L322.3 525.7L322.8 518.9L323.3 525.0L323.7 519.3L324.2 525.8L324.7 518.3L325.2 532.7L325.7 517.9L326.2 532.3L326.7 517.9L327.2 531.9L327.6 517.5L328.1 531.4L328.6 516.7L329.1 530.9L329.6 516.1L330.1 530.4L330.6 515.7L331.1 529.8L331.5 515.2L332.0 521.7L332.5 514.5L333.0 532.1L333.5 513.8L334.0 531.6L334.5 513.8L335.0 531.2L335.4 513.7L335.9 530.8L336.4 513.3L336.9 530.4L337.4 513.0L337.9 530.1L338.4 512.7L338.9 518.7L339.4 512.4L339.9 518.4L340.3 512.0L340.8 517.2L341.3 512.1L341.8 530.2L342.3 511.6L342.8 530.0L343.3 511.6L343.8 529.8L344.3 511.3L344.8 529.5L345.2 511.0L345.7 529.3L346.2 510.7L346.7 529.1L347.2 510.7L347.7 518.6L348.2 510.3L348.7 517.5L349.2 510.3L349.7 516.0L350.1 509.9L350.6 517.6L351.1 509.3L351.6 517.6L352.1 509.3L352.6 514.2L353.1 509.6L353.6 517.2L354.1 508.8L354.6 513.8L355.1 508.9L355.6 518.2L356.0 508.5L356.5 518.1L357.0 509.0L357.5 518.0L358.0 508.9L358.5 516.3L359.0 508.9L359.5 515.6L360.0 508.5L360.5 513.6L360.9 508.6L361.4 513.0L361.9 508.4L362.4 514.3L362.9 508.7L363.4 515.9L363.8 508.5L364.3 519.6L364.8 508.7L365.3 519.7L365.7 509.0L366.2 519.9L366.6 508.9L367.1 520.1L367.6 509.2L368.1 520.4L368.5 509.2L369.0 520.7L369.4 509.9L369.9 517.9L370.4 510.6L370.9 518.2L371.3 510.4L371.8 518.8L372.3 511.2L372.8 522.1L373.2 511.6L373.7 522.5L374.1 511.6L374.6 522.9L375.1 512.6L375.6 523.3L376.0 512.4L376.5 523.6L377.0 513.1L377.5 524.0L377.9 513.8L378.4 524.4L378.9 513.6L379.4 520.4L379.9 514.5L380.4 519.3L380.8 514.6L381.3 521.9L381.8 514.7L382.3 521.8L382.8 515.8L383.3 523.2L383.8 516.0L384.3 523.3L384.7 516.2L385.2 521.5L385.7 516.7L386.2 524.7L386.7 517.2L387.2 524.6L387.6 518.0L388.1 525.7L388.6 518.6L389.1 525.8L389.6 518.7L390.1 523.7L390.5 519.2L391.0 527.0L391.5 519.5L392.0 524.8L392.5 520.4L393.0 526.3L393.5 520.8L394.0 526.1L394.4 521.3L394.9 528.0L395.4 521.8L395.9 528.7L396.4 521.9L396.9 533.5L397.3 521.9L397.8 533.9L398.3 522.5L398.8 534.3L399.2 523.3L399.7 534.7L400.1 523.5L400.6 535.1L401.1 523.8L401.6 535.5L402.0 524.5L402.5 535.9L402.9 525.0L403.4 531.5L403.9 525.4L404.4 532.2L404.8 525.2L405.3 530.2L405.7 526.1L406.2 531.9L406.6 526.5L407.1 531.7L407.5 526.5L408.0 534.5L408.5 526.6L409.0 533.1L409.4 526.6L409.9 532.0L410.4 526.8L410.9 533.5L411.4 526.9L411.9 530.2L412.3 527.5L412.8 530.4L413.3 527.8L413.8 528.9L414.3 527.8L414.8 528.0L415.3 527.8L415.8 527.5L416.3 527.5L416.8 527.9L417.2 528.2L417.7 528.3L418.2 528.0L418.7 528.6L419.2 528.2L419.7 529.1L420.2 527.9L420.7 529.6L421.2 528.5L421.7 530.5L422.2 528.2L422.7 530.3L423.1 528.1L423.6 530.8L424.1 528.8L424.6 530.8L425.1 528.8L425.6 530.6L426.1 528.6L426.6 531.1L427.1 528.6L427.6 531.3L428.0 529.4L428.5 531.3L429.0 529.6L429.5 531.8L430.0 529.2L430.5 531.0L431.0 529.9L431.5 533.1L432.0 530.2L432.5 533.4L433.0 529.8L433.5 533.6L434.0 530.1L434.5 533.9L435.0 530.9L435.5 532.5L435.9 531.2L436.4 532.3L436.9 531.4L437.4 533.5L437.9 531.8L438.4 534.1L438.9 532.3L439.4 533.8L439.9 532.7L440.4 535.0L440.9 533.3L441.4 534.5L441.9 533.5L442.4 535.9L442.9 533.9L443.4 535.5L443.9 534.0L444.4 536.5L444.9 534.3L445.4 536.1L445.9 535.1L446.4 536.1L446.8 535.5L447.3 536.0L447.8 535.7L448.3 535.8L448.8 535.8L449.3 535.9L449.8 536.3L450.3 535.7L450.8 535.8L451.8 536.0L452.8 536.2L453.7 536.3L454.7 536.5L455.7 536.6L456.7 536.8L457.6 536.9L458.6 537.1L459.6 537.2L460.6 537.4L461.5 537.5L462.5 537.7L463.5 537.8L464.5 537.9L465.4 538.0L466.4 538.2L467.4 538.3L468.4 538.4L469.3 538.5L470.3 538.6L471.3 538.7L472.3 538.8L473.2 538.8L474.2 538.9L475.2 539.0L476.2 539.0L477.1 539.1L478.1 539.1L479.1 539.2L480.1 539.2L481.0 539.2L482.0 539.2L483.0 539.2L483.9 539.1L484.9 539.0L485.8 538.9L486.8 538.7L487.7 538.6L488.7 538.4L489.7 538.1L490.6 537.9L491.6 537.6L492.5 537.3L493.5 537.0L494.4 536.7L495.4 536.4L496.4 536.1L497.3 535.7L498.3 535.4L499.2 535.1L500.2 534.7L501.1 534.4L502.1 534.1L503.1 533.8L504.0 533.4L505.0 533.0L506.0 532.6L506.9 532.2L507.9 531.8L508.9 531.3L509.9 530.8L510.8 530.4L511.8 529.9L512.8 529.4L513.7 528.9L514.7 528.4L515.7 527.8L516.6 527.3L517.6 526.9L518.6 526.4L519.5 525.9L520.5 525.4L521.5 525.0L522.5 524.6L523.4 524.2L524.4 523.8L525.4 523.4L526.3 523.1L527.3 522.8L528.3 522.5L529.3 522.2L530.3 522.0L531.2 521.7L532.2 521.4L533.2 521.2L534.2 520.9L535.2 520.7L536.2 520.5L537.2 520.2L538.1 520.0L539.1 519.8L540.1 519.6L541.1 519.3L542.1 519.1L543.1 518.9L544.1 518.7L545.1 518.5L546.0 518.3L547.0 518.1L548.0 517.9L549.0 517.7L550.0 517.5L551.0 517.4L552.0 517.2L552.9 517.0L553.9 516.8L554.9 516.6L555.9 516.5L556.9 516.3L557.9 516.1L558.9 515.9L559.8 515.8L560.8 515.6L561.8 515.4L562.8 515.3L563.8 515.1L564.8 514.9L565.8 514.8L566.8 514.6L567.7 514.4L568.7 514.3L569.7 514.1L570.7 513.9L571.7 513.8L572.7 513.6L573.7 513.4L574.6 513.2L575.6 513.1L576.6 512.9L577.6 512.7L578.6 512.5L579.6 512.3L580.6 512.1L581.6 512.0L582.6 511.8L583.6 511.6L584.6 511.4L585.6 511.2L586.6 511.0L587.6 510.8L588.5 510.6L589.5 510.4L590.5 510.2L591.5 510.0L592.5 509.8L593.5 509.6L594.5 509.4L595.5 509.1L596.5 508.9L597.5 508.7L598.5 508.5L599.5 508.3L600.5 508.1L601.5 507.9L602.5 507.7L603.5 507.4L604.5 507.2L605.5 507.0L606.5 506.8L607.5 506.6L608.4 506.4L609.4 506.1L610.4 505.9L611.4 505.7L612.4 505.5L613.4 505.3L614.4 505.0L615.4 504.8L616.4 504.6L617.4 504.4L618.4 504.2L619.4 503.9L620.4 503.7L621.4 503.5L622.4 503.3L623.4 503.1L624.4 502.9L625.4 502.7L626.4 502.4L627.4 502.2L628.4 502.0L629.3 501.8L630.3 501.6L631.3 501.4L632.3 501.2L633.3 501.0L634.3 500.8L635.3 500.6L636.3 500.3L637.3 500.1L638.3 499.9L639.3 499.7L640.3 499.5L641.3 499.4L642.3 499.2L643.3 499.0L644.3 498.8L645.3 498.6L646.3 498.4L647.3 498.2L648.3 498.0L649.2 497.8L650.2 497.7L651.2 497.5L652.2 497.3L653.2 497.1L654.2 497.0L655.2 496.8L656.2 496.6L657.2 496.5L658.2 496.3L659.2 496.1L660.2 496.0L661.2 495.8L662.2 495.7L663.2 495.5L664.2 495.4L665.2 495.3L666.2 495.1L667.2 495.0L668.2 494.9L669.2 494.7L670.1 494.6L671.1 494.5L672.1 494.4L673.1 494.2L674.1 494.1L675.1 494.0L676.1 493.9L677.1 493.8L678.1 493.7L679.1 493.6L680.1 493.5L681.1 493.4L682.1 493.4L683.1 493.3L684.1 493.2L685.1 493.1L686.1 493.1L687.1 493.0L688.1 492.9L689.1 492.9L690.0 492.8L691.0 492.8L692.0 492.8L693.0 492.7L694.0 492.7L695.0 492.7L696.0 492.6L697.0 492.6L698.0 492.6L699.0 492.6L700.0 492.6L701.0 492.6L701.9 492.6L702.9 492.6L703.8 492.6L704.8 492.6L705.7 492.6L706.6 492.7L707.6 492.7L708.6 492.7L709.5 492.7L710.5 492.7L711.4 492.8L712.4 492.8L713.3 492.8L714.2 492.9L715.2 492.9L716.2 493.0L717.1 493.2L718.1 493.4L719.1 493.8L720.1 494.1L721.0 494.6L722.0 495.0L722.9 495.6L723.8 496.5L724.8 497.6L725.7 498.8L726.6 500.0L727.5 501.1L728.5 502.0L729.4 502.7L730.3 502.9L731.3 502.7L732.2 502.2L733.2 501.5L734.2 500.6L735.1 499.6L736.1 498.5L737.1 497.4L738.1 496.4L739.0 495.6L740.0 495.0L741.0 494.5L742.0 494.0L743.0 493.5L744.0 493.0L745.0 492.5L746.0 492.1L747.0 491.7L748.0 491.3L749.0 491.0L750.0 490.8L751.0 490.6L752.0 490.4L753.0 490.4L754.0 490.4L755.0 490.5L756.0 490.5L757.0 490.6L758.0 490.7L759.0 490.8L760.0 491.0L760.9 491.4L761.8 492.3L762.8 493.3L763.7 494.3L764.6 495.1L765.5 495.4L766.4 495.1L767.3 494.2L768.2 493.0L769.2 491.8L770.1 490.7L771.0 490.0L772.0 489.5L773.0 489.1L774.0 488.8L775.0 488.5L776.0 488.2L777.0 488.0L778.0 487.8L779.0 487.6L780.0 487.5L781.0 487.3L782.0 487.2L783.0 487.0L784.0 486.9L785.0 486.7L786.0 486.6L787.0 486.4L787.9 486.3L788.9 486.1L789.9 486.0L790.9 485.9L791.9 485.7L792.9 485.6L793.9 485.5L794.9 485.4L795.9 485.2L796.9 485.1L797.9 485.0L798.9 484.9L799.9 484.8L800.9 484.7L801.9 484.6L802.9 484.4L803.9 484.3L804.9 484.2L805.9 484.1L806.8 484.0L807.8 483.9L808.8 483.8L809.8 483.7L810.8 483.6L811.8 483.5L812.8 483.5L813.8 483.4L814.8 483.3L815.8 483.2L816.8 483.1L817.8 483.0L818.8 482.9L819.8 482.8L820.8 482.8L821.8 482.7L822.8 482.6L823.8 482.5L824.8 482.4L825.7 482.4L826.7 482.3L827.7 482.2L828.7 482.1L829.7 482.1L830.7 482.0L831.7 481.9L832.7 481.9L833.7 481.8L834.7 481.7L835.7 481.7L836.7 481.6L837.7 481.5L838.7 481.5L839.7 481.4L840.7 481.3L841.7 481.3L842.7 481.2L843.7 481.1L844.6 481.1L845.6 481.0L846.6 480.9L847.6 480.9L848.6 480.8L849.6 480.7L850.6 480.7L851.6 480.6L852.6 480.6L853.6 480.5L854.6 480.4L855.6 480.4L856.6 480.3L857.6 480.3L858.6 480.2L859.6 480.1L860.6 480.1L861.6 480.0L862.6 479.9L863.5 479.9L864.5 479.8L865.5 479.7L866.5 479.7L867.5 479.6L868.5 479.5L869.5 479.5L870.5 479.4L871.5 479.3L872.5 479.3L873.5 479.2L874.5 479.1L875.5 479.1L876.5 479.0L877.5 478.9L878.5 478.8L879.5 478.8L880.5 478.7L881.5 478.6L882.4 478.5L883.4 478.5L884.4 478.4L885.4 478.3L886.4 478.2L887.4 478.1L888.4 478.1L889.4 478.0L890.4 477.9L891.4 477.8L892.4 477.7L893.4 477.6L894.4 477.5L895.4 477.4L896.4 477.3L897.4 477.2L898.3 477.1L899.3 477.0L900.3 476.9L901.3 476.8L902.3 476.7L903.3 476.6L904.3 476.5L905.3 476.4L906.3 476.3L907.3 476.2L908.3 476.1L909.3 476.0L910.2 475.9L911.2 475.7L912.2 475.6L913.2 475.5L914.2 475.4L915.2 475.3L916.2 475.2L917.2 475.1L918.2 474.9L919.2 474.8L920.2 474.7L921.2 474.6L922.1 474.5L923.1 474.3L924.1 474.2L925.1 474.1L926.1 474.0L927.1 473.9L928.1 473.8L929.1 473.6L930.1 473.5L931.1 473.4L932.1 473.3L933.1 473.2L934.1 473.0L935.0 472.9L936.0 472.8L937.0 472.7L938.0 472.6L939.0 472.5L940.0 472.4L941.0 472.3L942.0 472.1L943.0 472.0L944.0 471.9L945.0 471.8L946.0 471.7L946.9 471.6L947.9 471.5L948.9 471.4L949.9 471.3L950.9 471.2L951.9 471.1L952.9 471.0L953.9 470.9L954.9 470.8L955.9 470.7L956.9 470.6L957.9 470.5L958.9 470.5L959.8 470.4L960.8 470.3L961.8 470.2L962.8 470.1L963.8 470.1L964.8 470.0L965.8 469.9L966.8 469.8L967.8 469.8L968.8 469.7L969.8 469.6L970.8 469.6L971.7 469.5L972.7 469.5L973.7 469.4L974.7 469.4L975.7 469.3L976.7 469.3L977.7 469.2L978.7 469.2L979.7 469.2L980.7 469.1L981.7 469.1L982.7 469.1L983.6 469.1L984.6 469.0L985.6 469.0L986.6 469.0L987.6 469.0L988.6 469.0L989.6 469.0L990.6 469.2L991.6 469.7L992.6 470.4L993.6 471.5L994.6 472.7L995.5 476.2L996.4 483.2L997.3 492.5L998.2 502.6L999.1 512.2L1000.0 520.0L1001.0 527.6L1002.0 535.6L1003.0 543.2L1004.0 549.7L1005.0 554.1L1006.0 555.8L1007.0 550.5L1008.0 539.6L1009.0 530.0L1009.8 524.3L1010.6 518.8L1011.5 514.7L1012.3 513.0L1013.2 515.0L1014.1 519.3L1015.0 523.0L1015.9 525.6L1016.8 528.0L1017.6 529.9L1018.5 530.6L1019.4 529.6L1020.3 526.9L1021.2 523.2L1022.2 519.1L1023.1 515.2L1024.0 512.0L1025.0 509.4L1026.0 507.0L1027.0 504.8L1027.9 502.6L1028.9 500.4L1029.9 497.9L1030.8 495.5L1031.6 492.8L1032.5 490.1L1033.4 487.3L1034.3 484.7L1035.1 482.2L1036.0 480.0L1036.9 477.8L1037.9 475.5L1038.8 473.4L1039.7 471.4L1040.6 469.7L1041.6 468.4L1042.5 467.7L1043.5 467.3L1044.4 466.9L1045.4 466.6L1046.4 466.3L1047.3 466.0L1048.3 465.7L1049.3 465.4L1050.2 465.2L1051.2 465.0L1052.2 464.8L1053.1 464.6L1054.1 464.4L1055.0 464.2L1056.0 464.1L1057.0 463.9L1057.9 463.8L1058.9 463.7L1059.9 463.6L1060.8 463.5L1061.8 463.3L1062.8 463.2L1063.7 463.1L1064.7 463.0L1065.7 462.9L1066.6 462.8L1067.6 462.7L1068.6 462.6L1069.6 462.5L1070.6 462.3L1071.6 462.2L1072.6 462.1L1073.6 462.0L1074.6 461.9L1075.6 461.8L1076.5 461.7L1077.5 461.6L1078.5 461.5L1079.5 461.4L1080.5 461.3L1081.5 461.2L1082.5 461.1L1083.5 461.0L1084.5 460.9L1085.5 460.8L1086.5 460.7L1087.5 460.6L1088.5 460.5L1089.5 460.5L1090.5 460.4L1091.5 460.3L1092.5 460.2L1093.4 460.1L1094.4 460.0L1095.4 460.0L1096.4 459.9L1097.4 459.8L1098.4 459.7L1099.4 459.6L1100.4 459.6L1101.4 459.5L1102.4 459.4L1103.4 459.3L1104.4 459.3L1105.4 459.2L1106.4 459.1L1107.4 459.1L1108.4 459.0L1109.4 458.9L1110.3 458.8L1111.3 458.8L1112.3 458.7L1113.3 458.6L1114.3 458.6L1115.3 458.5L1116.3 458.4L1117.3 458.4L1118.3 458.3L1119.3 458.3L1120.3 458.2L1121.3 458.1L1122.3 458.1L1123.3 458.0L1124.3 457.9L1125.3 457.9L1126.3 457.8L1127.3 457.8L1128.2 457.7L1129.2 457.6L1130.2 457.6L1131.2 457.5L1132.2 457.5L1133.2 457.4L1134.2 457.3L1135.2 457.3L1136.2 457.2L1137.2 457.2L1138.2 457.1L1139.2 457.0L1140.2 457.0L1141.2 456.9L1142.2 456.9L1143.2 456.8L1144.2 456.7L1145.1 456.7L1146.1 456.6L1147.1 456.6L1148.1 456.5L1149.1 456.4L1150.1 456.4L1151.1 456.3L1152.1 456.2L1153.1 456.2L1154.1 456.1L1155.1 456.1L1156.1 456.0L1157.1 455.9L1158.1 455.9L1159.1 455.8L1160.1 455.7L1161.1 455.6L1162.0 455.6L1163.0 455.5L1164.0 455.4L1165.0 455.4L1166.0 455.3L1167.0 455.2L1168.0 455.2L1169.0 455.1L1170.0 455.0L1171.0 455.5L1171.5 455.2L1172.0 455.6L1172.5 455.9L1173.0 454.8L1173.5 456.4L1174.0 454.8L1174.5 456.9L1175.0 454.7L1175.5 457.3L1176.0 454.8L1176.5 456.4L1176.9 454.6L1177.4 456.5L1177.9 454.6L1178.4 457.1L1178.9 454.3L1179.4 456.2L1179.9 455.0L1180.4 460.5L1180.9 454.3L1181.4 460.4L1181.9 454.5L1182.4 460.3L1182.9 454.4L1183.4 460.3L1183.9 454.5L1184.4 460.2L1184.9 453.9L1185.4 460.1L1185.9 454.1L1186.4 456.0L1186.9 454.2L1187.4 456.6L1187.9 454.3L1188.4 455.3L1188.9 454.3L1189.4 458.8L1189.8 453.8L1190.3 458.7L1190.8 453.8L1191.3 458.6L1191.8 453.7L1192.3 458.6L1192.8 453.3L1193.3 458.5L1193.8 453.5L1194.3 455.4L1194.8 453.3L1195.3 455.7L1195.8 453.2L1196.3 454.8L1196.8 453.2L1197.3 455.0L1197.8 453.3L1198.3 455.7L1198.8 453.3L1199.3 455.2L1199.8 453.2L1200.3 454.5L1200.8 452.7L1201.3 455.2L1201.8 453.0L1202.3 454.3L1202.7 453.1L1203.2 455.1L1203.7 452.7L1204.2 454.8L1204.7 452.8L1205.2 454.5L1205.7 452.3L1206.2 454.7L1206.7 452.3L1207.2 456.6L1207.7 452.7L1208.2 456.5L1208.7 452.4L1209.2 456.4L1209.7 452.5L1210.2 456.4L1210.7 452.1L1211.2 456.3L1211.7 452.3L1212.2 456.2L1212.7 452.0L1213.2 453.6L1213.7 452.3L1214.2 454.1L1214.7 451.6L1215.2 453.6L1215.6 452.0L1216.1 453.5L1216.6 451.5L1217.1 453.8L1217.6 451.9L1218.1 453.2L1218.6 451.9L1219.1 453.8L1219.6 451.9L1220.1 453.2L1220.6 451.6L1221.1 453.0L1221.6 451.1L1222.1 453.0L1222.6 451.2L1223.1 453.1L1223.6 451.4L1224.1 453.6L1224.6 451.3L1225.1 452.9L1225.6 450.8L1226.1 453.0L1226.6 451.0L1227.1 452.5L1227.6 450.6L1228.1 452.3L1228.5 450.8L1229.0 452.3L1229.5 450.8L1230.0 452.6L1230.5 450.8L1231.0 452.4L1231.5 450.7L1232.0 452.6L1232.5 450.3L1233.0 452.9L1233.5 450.9L1234.0 451.9L1234.5 450.5L1235.0 452.7L1235.5 450.2L1236.0 452.4L1236.5 450.3L1237.0 452.0L1237.5 450.0L1238.0 452.7L1238.4 450.1L1238.9 451.9L1239.4 449.7L1239.9 451.6L1240.4 449.8L1240.9 452.3L1241.4 449.8L1241.9 452.2L1242.4 449.6L1242.9 451.2L1243.4 449.4L1243.9 452.2L1244.4 449.5L1244.9 451.0L1245.3 449.5L1245.8 451.6L1246.3 449.5L1246.8 450.9L1247.3 449.0L1247.8 451.5L1248.3 449.2L1248.8 450.6L1249.3 449.0L1249.8 451.5L1250.3 448.9L1250.8 450.5L1251.3 449.1L1251.8 451.1L1252.2 448.9L1252.7 450.4L1253.2 448.5L1253.7 451.0L1254.2 449.0L1254.7 450.3L1255.2 448.7L1255.7 450.6L1256.2 448.2L1256.7 451.1L1257.2 448.2L1257.7 450.2L1258.2 448.8L1258.7 450.1L1259.1 448.1L1259.6 449.6L1260.1 448.1L1260.6 450.5L1261.1 448.1L1261.6 450.1L1262.1 448.3L1262.6 449.3L1263.1 447.8L1263.6 449.9L1264.1 447.9L1264.6 449.3L1265.1 448.0L1265.6 449.5L1266.0 448.0L1266.5 450.0L1267.0 447.3L1267.5 449.4L1268.0 447.6L1268.5 450.1L1269.0 447.3L1269.5 450.0L1270.0 447.0L1270.5 448.7L1271.0 447.6L1271.5 449.8L1272.0 447.1L1272.5 449.6L1272.9 447.5L1273.4 449.3L1273.9 447.3L1274.4 448.7L1274.9 447.2L1275.4 448.6L1275.9 446.8L1276.4 447.7L1276.9 447.2L1277.4 447.6L1277.9 446.4L1278.4 447.4L1278.9 446.8L1279.4 446.8L1279.8 446.3L1280.3 446.3L1280.8 446.5L1281.3 447.5L1281.8 446.3L1282.3 451.7L1282.8 446.2L1283.3 454.7L1283.8 446.4L1284.3 457.6L1284.8 446.4L1285.3 454.1L1285.7 446.1L1286.2 455.0L1286.7 446.4L1287.2 453.3L1287.7 446.0L1288.2 455.7L1288.7 445.8L1289.2 455.1L1289.7 445.9L1290.2 452.7L1290.6 445.6L1291.1 453.7L1291.6 445.7L1292.1 455.6L1292.6 445.8L1293.1 455.3L1293.6 445.2L1294.1 453.3L1294.5 445.8L1295.0 452.5L1295.5 445.3L1296.0 454.0L1296.5 444.9L1297.0 452.2L1297.5 445.3L1298.0 465.2L1298.5 445.1L1299.0 465.1L1299.4 445.0L1299.9 465.0L1300.4 445.1L1300.9 452.2L1301.4 444.7L1301.9 453.2L1302.4 445.1L1302.9 454.5L1303.4 444.5L1303.9 460.5L1304.3 444.7L1304.8 460.5L1305.3 444.3L1305.8 460.4L1306.3 444.1L1306.8 460.3L1307.3 444.6L1307.8 460.3L1308.3 444.7L1308.8 452.7L1309.2 444.7L1309.7 453.3L1310.2 444.0L1310.7 450.2L1311.2 443.9L1311.7 451.1L1312.2 443.9L1312.7 454.2L1313.1 444.5L1313.6 453.4L1314.1 444.1L1314.6 450.8L1315.1 444.2L1315.6 450.0L1316.1 443.9L1316.6 454.6L1317.1 444.3L1317.6 454.6L1318.0 444.2L1318.5 454.6L1319.0 444.0L1319.5 454.6L1320.0 443.7L1320.5 454.6L1321.0 444.0L1321.5 452.9L1322.0 444.3L1322.5 459.0L1323.0 444.1L1323.5 459.1L1324.0 444.0L1324.5 459.1L1325.0 444.3L1325.5 459.2L1326.0 444.1L1326.5 459.3L1327.0 444.6L1327.5 459.3L1328.0 444.6L1328.5 459.4L1329.0 444.9L1329.5 453.3L1330.0 444.8L1330.5 454.4L1331.0 445.0L1331.5 465.5L1332.0 445.1L1332.5 465.6L1333.0 444.9L1333.5 465.8L1334.0 445.6L1334.5 466.0L1335.0 445.6L1335.5 466.1L1336.0 445.3L1336.5 466.3L1337.0 445.7L1337.5 466.5L1338.0 446.3L1338.5 452.2L1339.0 446.4L1339.5 454.7L1340.0 446.8L1340.5 454.9L1341.0 446.9L1341.5 456.2L1342.0 447.0L1342.5 456.6L1343.0 447.2L1343.5 454.9L1344.0 447.0L1344.5 457.1L1345.0 447.3L1345.5 454.5L1346.0 447.6L1346.5 455.7L1347.0 448.2L1347.5 460.9L1348.0 448.7L1348.5 461.2L1349.0 449.0L1349.5 461.6L1350.0 449.3L1350.5 462.1L1351.0 449.7L1351.5 462.6L1352.0 450.7L1352.5 463.3L1353.0 451.2L1353.5 457.0L1354.0 451.5L1354.5 466.0L1355.0 452.5L1355.5 466.8L1356.0 453.1L1356.5 467.5L1357.0 454.4L1357.5 468.2L1358.0 455.1L1358.5 469.0L1359.0 455.7L1359.5 473.7L1360.0 455.9L1360.5 474.4L1361.0 456.9L1361.5 475.0L1362.0 456.9L1362.5 475.5L1363.0 457.4L1363.5 469.5L1364.0 458.0L1364.5 470.0L1365.0 458.4L1365.5 470.4L1366.0 459.3L1366.5 467.2L1367.0 459.2L1367.5 469.6L1368.0 459.5L1368.5 468.3L1369.0 460.3L1369.5 481.3L1370.0 460.5L1370.5 481.6L1371.0 460.9L1371.5 481.8L1372.0 460.8L1372.5 482.0L1373.0 460.9L1373.5 471.3L1373.9 460.9L1374.4 477.5L1374.9 459.7L1375.4 476.6L1375.8 458.7L1376.3 475.4L1376.7 457.2L1377.2 473.9L1377.6 455.6L1378.1 472.4L1378.6 454.4L1379.1 471.0L1379.5 453.0L1380.0 469.8L1380.4 452.1L1380.9 458.4L1381.4 450.9L1381.9 461.2L1382.3 449.8L1382.8 457.1L1383.3 448.2L1383.8 455.1L1384.2 447.2L1384.7 457.7L1385.2 445.9L1385.7 455.4L1386.1 445.2L1386.6 452.1L1387.0 444.0L1387.5 456.4L1388.0 443.6L1388.5 455.6L1388.9 442.6L1389.4 455.0L1389.9 442.4L1390.4 452.4L1390.8 442.4L1391.3 451.7L1391.8 442.2L1392.3 451.3L1392.8 442.6L1393.3 452.8L1393.8 442.7L1394.3 453.2L1394.7 443.2L1395.2 449.7L1395.7 442.9L1396.2 453.5L1396.7 443.3L1397.2 457.7L1397.7 444.0L1398.2 458.0L1398.7 443.8L1399.2 458.3L1399.7 444.3L1400.2 458.5L1400.6 444.9L1401.1 458.8L1401.6 445.1L1402.1 458.9L1402.6 444.9L1403.1 459.1L1403.6 444.9L1404.1 451.3L1404.6 445.0L1405.1 453.7L1405.5 444.8L1406.0 453.0L1406.5 445.1L1407.0 452.6L1407.4 444.9L1407.9 452.0L1408.4 444.9L1408.9 451.2L1409.3 444.4L1409.8 455.0L1410.3 444.7L1410.8 454.4L1411.2 444.4L1411.7 452.2L1412.2 444.2L1412.7 450.3L1413.1 444.3L1413.6 451.0L1414.1 444.8L1414.6 450.5L1415.0 444.5L1415.5 451.7L1416.0 444.0L1416.5 454.6L1416.9 444.5L1417.4 450.2L1417.9 444.0L1418.4 452.2L1418.8 443.8L1419.3 452.0L1419.8 443.6L1420.3 450.3L1420.8 443.7L1421.3 454.4L1421.7 443.3L1422.2 449.4L1422.7 443.6L1423.2 450.7L1423.6 443.4L1424.1 450.3L1424.6 443.1L1425.1 450.2L1425.5 442.4L1426.0 452.2L1426.5 442.3L1427.0 450.2L1427.4 441.3L1427.9 448.5L1428.4 441.0L1428.9 451.6L1429.3 441.0L1429.8 451.2L1430.3 440.3L1430.8 450.8L1431.2 440.3L1431.7 453.1L1432.2 439.7L1432.7 452.8L1433.1 439.9L1433.6 452.5L1434.1 439.5L1434.6 452.3L1435.0 439.4L1435.5 452.2L1436.0 439.0L1436.5 452.2L1437.0 438.8L1437.5 449.3L1438.0 439.3L1438.5 455.2L1439.0 438.8L1439.5 455.2L1440.0 439.0L1440.5 455.2L1441.0 439.1L1441.5 455.2L1441.9 438.9L1442.4 455.2L1442.9 439.5L1443.4 455.2L1443.9 439.2L1444.4 445.5L1444.9 439.5L1445.4 457.7L1445.9 439.1L1446.4 457.7L1446.9 439.0L1447.4 457.7L1447.9 439.2L1448.4 457.7L1448.9 438.9L1449.4 457.7L1449.9 439.0L1450.4 449.3L1450.9 438.8L1451.4 444.9L1451.8 439.5L1452.3 448.2L1452.8 439.4L1453.3 448.4L1453.8 439.6L1454.3 446.7L1454.8 438.9L1455.3 446.6L1455.8 439.3L1456.3 448.7L1456.8 439.6L1457.3 445.9L1457.7 439.2L1458.2 447.5L1458.7 439.2L1459.2 453.1L1459.6 439.8L1460.1 453.3L1460.5 440.0L1461.0 453.5L1461.5 439.7L1462.0 450.1L1462.4 440.1L1462.9 447.8L1463.3 440.8L1463.8 449.7L1464.3 440.8L1464.8 447.4L1465.2 442.0L1465.7 448.1L1466.1 441.8L1466.6 451.9L1467.1 442.8L1467.6 453.1L1468.0 443.3L1468.5 452.7L1469.0 443.8L1469.5 451.7L1470.0 444.6L1470.5 455.0L1471.0 445.4L1471.5 454.1L1472.0 446.7L1472.5 455.0L1473.0 448.4L1473.5 456.3L1474.0 449.3L1474.5 456.6L1475.0 451.2L1475.5 454.9L1476.0 453.2L1476.5 456.2L1476.9 454.3L1477.4 457.1L1477.9 456.7L1478.4 458.0L1478.8 458.8L1479.3 458.9L1479.8 461.1L1480.7 464.1L1481.7 467.7L1482.6 471.8L1483.5 477.2L1484.4 484.7L1485.3 494.3L1486.2 506.0L1487.0 525.2L1487.7 549.6L1488.5 561.6L1489.3 548.9L1490.2 523.8L1491.0 506.0L1491.9 498.4L1492.9 492.4L1493.8 487.7L1494.8 484.1L1495.7 481.2L1496.7 478.7L1497.6 476.5L1498.6 474.5L1499.5 472.8L1500.5 471.3L1501.5 469.8L1502.4 468.4L1503.4 467.0L1504.3 465.6L1505.3 464.0L1506.3 462.3L1507.2 460.5L1508.2 458.7L1509.1 456.8L1510.1 455.0L1511.0 453.2L1512.0 451.5L1513.0 449.9L1513.9 448.4L1514.9 447.0L1515.8 445.8L1516.8 444.9L1517.8 444.1L1518.7 443.3L1519.7 442.6L1520.6 441.9L1521.6 441.3L1522.5 440.7L1523.5 440.1L1524.4 439.6L1525.4 439.1L1526.4 438.6L1527.3 438.1L1528.3 437.7L1529.2 437.2L1530.2 436.8L1531.1 436.4L1532.1 436.0L1533.0 435.7L1534.0 435.3L1535.0 434.9L1536.0 434.6L1537.0 434.2L1538.0 433.9L1539.0 433.6L1540.0 433.3L1541.0 433.0L1542.0 432.7L1543.0 432.4L1544.0 432.2L1545.0 431.9L1546.0 431.7L1547.0 431.4L1548.0 431.2L1549.0 430.9L1550.0 430.7L1551.0 430.5L1551.9 430.2L1552.9 430.0L1553.8 429.7L1554.8 429.5L1555.7 429.3L1556.7 429.0L1557.6 428.8L1558.6 428.5L1559.5 428.3L1560.5 428.1L1561.5 427.9L1562.4 427.7L1563.4 427.5L1564.3 427.4L1565.3 427.2L1566.2 427.1L1567.2 427.0L1568.1 426.9L1569.1 426.9L1570.1 426.9L1571.1 426.8L1572.1 426.8L1573.1 426.8L1574.1 426.8L1575.1 426.7L1576.1 426.7L1577.1 426.7L1578.1 426.7L1579.0 426.7L1580.0 426.6L1581.0 426.6L1582.0 426.6L1583.0 426.6L1584.0 426.6L1585.0 426.6L1586.0 426.5L1587.0 426.5L1588.0 426.5L1589.0 426.5L1590.0 426.5L1591.0 426.5L1592.0 426.5L1593.0 426.5L1594.0 426.5L1595.0 426.4L1596.0 426.4L1597.0 426.4L1597.9 426.4L1598.9 426.4L1599.9 426.4L1600.9 426.4L1601.9 426.4L1602.9 426.4L1603.9 426.4L1604.9 426.4L1605.9 426.4L1606.9 426.4L1607.9 426.4L1608.9 426.3L1609.9 426.3L1610.9 426.3L1611.9 426.3L1612.9 426.3L1613.9 426.3L1614.9 426.3L1615.9 426.3L1616.9 426.3L1617.8 426.3L1618.8 426.3L1619.8 426.3L1620.8 426.3L1621.8 426.3L1622.8 426.3L1623.8 426.2L1624.8 426.2L1625.8 426.2L1626.8 426.2L1627.8 426.2L1628.8 426.2L1629.8 426.2L1630.8 426.2L1631.8 426.2L1632.8 426.1L1633.8 426.1L1634.8 426.1L1635.8 426.1L1636.7 426.1L1637.7 426.1L1638.7 426.1L1639.7 426.0L1640.7 426.0L1641.7 426.0L1642.7 426.0L1643.7 425.9L1644.7 425.9L1645.7 425.9L1646.7 425.9L1647.7 425.8L1648.7 425.8L1649.7 425.7L1650.6 425.6L1651.6 425.5L1652.6 425.4L1653.6 425.3L1654.6 425.1L1655.6 425.0L1656.6 424.8L1657.6 424.7L1658.5 424.5L1659.5 424.3L1660.5 424.1L1661.5 423.9L1662.5 423.7L1663.5 423.5L1664.5 423.3L1665.5 423.1L1666.4 422.9L1667.4 422.6L1668.4 422.4L1669.4 422.2L1670.4 421.9L1671.4 421.7L1672.4 421.4L1673.4 421.2L1674.3 421.0L1675.3 420.7L1676.3 420.5L1677.3 420.3L1678.3 420.0L1679.3 419.8L1680.3 419.6L1681.3 419.3L1682.3 419.1L1683.2 418.9L1684.2 418.7L1685.2 418.5L1686.2 418.3L1687.2 418.1L1688.2 417.9L1689.2 417.7L1690.2 417.6L1691.1 417.4L1692.1 417.3L1693.1 417.1L1694.1 417.0L1695.1 416.9L1696.1 416.8L1697.1 416.7L1698.1 416.6L1699.0 416.5L1700.0 416.5L1701.0 416.4L1702.0 416.4L1703.0 416.4L1704.0 416.4L1705.0 416.4L1706.0 416.4L1706.9 416.4L1707.9 416.4L1708.9 416.4L1709.9 416.4L1710.9 416.4L1711.9 416.4L1712.8 416.4L1713.8 416.4L1714.8 416.4L1715.8 416.4L1716.8 416.4L1717.8 416.4L1718.8 416.4L1719.7 416.4L1720.7 416.4L1721.7 416.4L1722.7 416.4L1723.7 416.4L1724.7 416.4L1725.6 416.4L1726.6 416.4L1727.6 416.4L1728.6 416.4L1729.6 416.4L1730.6 416.4L1731.6 416.4L1732.5 416.4L1733.5 416.4L1734.5 416.4L1735.5 416.4L1736.5 416.4L1737.5 416.4L1738.4 416.4L1739.4 416.4L1740.4 416.4L1741.4 416.4L1742.4 416.5L1743.3 416.7L1744.3 417.1L1745.2 417.6L1746.2 418.1L1747.2 418.8L1748.1 419.6L1749.1 420.4L1750.0 421.2L1751.0 422.1L1752.0 423.2L1752.9 424.8L1753.8 426.8L1754.8 428.9L1755.8 431.2L1756.7 433.6L1757.7 435.9L1758.6 438.0L1759.5 439.8L1760.5 441.2L1761.5 442.3L1762.4 443.4L1763.4 444.3L1764.3 445.2L1765.3 446.0L1766.2 446.7L1767.2 447.5L1768.2 448.1L1769.1 448.8L1770.1 449.5L1771.0 450.2L1772.0 451.0L1772.9 451.8L1773.9 452.6L1774.8 453.6L1775.8 454.6L1776.8 455.7L1777.7 456.9L1778.7 458.1L1779.6 459.3L1780.6 460.7L1781.5 462.0L1782.5 463.5L1783.5 465.0L1784.4 466.6L1785.4 468.2L1786.3 470.0L1787.3 471.8L1788.2 473.7L1789.2 475.7L1790.2 477.9L1791.1 480.4L1792.1 483.2L1793.0 486.2L1794.0 489.4L1794.9 492.8L1795.9 496.2L1796.9 499.8L1797.8 503.3L1798.8 506.8L1799.7 510.2L1800.7 513.5L1801.6 516.7L1802.6 519.7L1803.5 522.7L1804.5 526.0L1805.4 529.4L1806.4 533.0L1807.3 536.4L1808.3 539.8L1809.2 542.9L1810.2 545.6L1811.2 548.0L1812.1 549.8L1813.0 550.9L1814.0 551.3L1815.0 551.2L1815.9 550.8L1816.9 550.3L1817.8 549.5L1818.8 548.6L1819.8 547.6L1820.7 546.4L1821.7 545.2L1822.6 543.9L1823.6 542.6L1824.6 540.8L1825.5 538.2L1826.5 535.0L1827.4 531.2L1828.4 527.0L1829.3 522.7L1830.3 518.3L1831.3 514.0L1832.2 509.9L1833.2 506.2L1834.1 503.1L1835.1 500.7L1836.0 499.2L1837.0 498.6L1838.0 499.2L1839.0 500.6L1839.9 501.9L1840.9 502.5L1841.9 498.4L1842.8 489.2L1843.8 479.5L1844.7 473.8L1845.7 471.7L1846.6 469.8L1847.6 468.1L1848.5 466.6L1849.5 465.2L1850.5 464.1L1851.4 463.1L1852.4 462.2L1853.3 461.6L1854.3 461.0L1855.2 460.7L1856.2 460.4L1857.2 460.2L1858.1 460.1L1859.1 459.9L1860.0 459.8L1861.0 459.7L1861.9 459.6L1862.9 459.6L1863.8 459.5L1864.8 459.4L1865.8 459.4L1866.7 459.3L1867.7 459.3L1868.6 459.2L1869.6 459.1L1870.5 459.1L1871.5 459.0L1872.4 458.9L1873.4 458.8L1874.3 458.6L1875.3 458.5L1876.3 458.3L1877.2 458.1L1878.2 457.8L1879.1 457.5L1880.1 457.2L1881.0 456.8L1882.0 456.4L1882.9 455.9L1883.9 455.5L1884.8 455.0L1885.8 454.4L1886.8 453.9L1887.7 453.3L1888.7 452.7L1889.6 452.1L1890.6 451.5L1891.5 450.9L1892.5 450.2L1893.4 449.6L1894.4 448.9L1895.4 448.2L1896.3 447.3L1897.3 446.3L1898.2 445.2L1899.2 444.1L1900.2 443.0L1901.1 441.9L1902.1 440.9L1903.0 440.0L1904.0 439.3L1905.0 438.7L1905.9 438.0L1906.9 437.5L1907.8 436.9L1908.8 436.4L1909.7 435.9L1910.7 435.4L1911.6 434.9L1912.6 434.5L1913.5 434.0L1914.5 433.6L1915.5 433.2L1916.4 432.8L1917.4 432.3L1918.3 431.9L1919.3 431.5L1920.2 431.1L1921.2 430.6L1922.1 430.2L1923.1 429.7" stroke="#38aa68"/>
<path d="M217.6 400.5L218.6 400.5L219.6 400.4L220.6 400.4L221.5 400.4L222.5 400.4L223.5 400.3L224.5 400.3L225.5 400.3L226.5 400.3L227.5 400.2L228.5 400.2L229.4 400.2L230.4 400.2L231.4 400.2L232.4 400.1L233.4 400.1L234.4 400.1L235.4 400.1L236.4 400.0L237.3 400.0L238.3 400.0L239.3 400.0L240.3 400.0L241.3 399.9L242.3 399.9L243.3 399.9L244.2 399.9L245.2 399.8L246.2 399.8L247.2 399.8L248.2 399.7L249.2 399.7L250.2 399.7L251.2 399.7L252.1 399.6L253.1 399.6L254.1 399.6L255.1 399.5L256.1 399.5L257.1 399.5L258.1 399.4L259.1 399.4L260.0 399.3L261.0 399.3L262.0 399.2L263.0 399.2L264.0 399.1L265.0 399.1L266.0 399.0L266.9 398.9L267.9 398.9L268.9 398.8L269.9 398.7L270.9 398.6L271.9 398.5L272.9 398.3L273.8 398.2L274.8 398.1L275.8 398.0L276.8 397.8L277.8 397.7L278.8 397.5L279.8 397.4L280.8 397.2L281.7 397.1L282.7 396.9L283.7 396.8L284.7 396.6L285.7 396.4L286.7 396.3L287.7 396.1L288.6 395.9L289.6 395.8L290.6 395.6L291.6 395.4L292.6 395.3L293.6 395.1L294.6 394.9L295.5 394.8L296.5 394.6L297.5 394.5L298.5 394.3L299.5 394.2L300.5 394.0L301.5 393.9L302.5 393.7L303.4 393.6L304.4 393.4L305.4 393.3L306.4 393.2L307.4 393.1L308.4 393.0L309.4 392.9L310.3 392.8L311.3 392.7L312.3 392.6L313.3 392.5L314.3 392.4L315.3 392.4L316.2 392.3L317.2 392.2L318.2 392.2L319.2 392.1L320.2 392.1L321.2 392.0L322.1 392.0L323.1 392.0L324.1 391.9L325.1 391.9L326.1 391.8L327.1 391.8L328.1 391.7L329.0 391.6L330.0 391.6L331.0 391.5L332.0 391.4L333.0 391.3L334.0 391.2L335.0 391.1L336.0 390.9L337.0 390.8L338.0 390.6L339.0 390.5L340.0 390.3L341.0 390.2L342.0 390.0L343.0 389.9L344.0 389.7L345.0 389.6L346.0 389.5L347.0 389.4L348.0 389.3L349.0 389.3L350.0 389.2L351.0 389.2L352.0 389.2L353.0 389.2L354.0 389.2L355.0 389.2L355.9 389.2L356.9 389.2L357.9 389.2L358.9 389.2L359.9 389.2L360.9 389.2L361.9 389.2L362.9 389.2L363.8 389.2L364.8 389.2L365.8 389.2L366.8 389.2L367.8 389.2L368.8 389.2L369.8 389.2L370.8 389.2L371.8 389.2L372.7 389.2L373.7 389.2L374.7 389.2L375.7 389.2L376.7 389.2L377.7 389.2L378.7 389.2L379.7 389.2L380.6 389.2L381.6 389.2L382.6 389.2L383.6 389.2L384.6 389.2L385.6 389.2L386.6 389.2L387.6 389.2L388.6 389.2L389.5 389.2L390.5 389.2L391.5 389.2L392.5 389.2L393.5 389.2L394.5 389.2L395.5 389.2L396.5 389.2L397.4 389.2L398.4 389.2L399.4 389.2L400.4 389.2L401.4 389.2L402.4 389.2L403.4 389.2L404.4 389.2L405.4 389.2L406.4 389.2L407.4 389.2L408.4 389.2L409.4 389.2L410.4 389.1L411.4 389.1L412.4 389.1L413.4 389.1L414.4 389.1L415.4 389.1L416.4 389.0L417.4 389.0L418.3 389.0L419.3 389.0L420.3 389.0L421.3 388.9L422.3 388.9L423.3 388.9L424.3 388.9L425.3 388.8L426.3 388.8L427.3 388.8L428.3 388.7L429.3 388.7L430.3 388.7L431.3 388.6L432.3 388.6L433.3 388.6L434.3 388.5L435.3 388.5L436.3 388.5L437.3 388.4L438.3 388.4L439.3 388.4L440.3 388.3L441.3 388.3L442.3 388.3L443.3 388.2L444.3 388.2L445.3 388.1L446.3 388.1L447.3 388.1L448.3 388.0L449.3 388.0L450.3 388.0L451.3 387.9L452.2 387.9L453.2 387.8L454.2 387.8L455.2 387.8L456.2 387.7L457.2 387.7L458.2 387.7L459.2 387.6L460.2 387.6L461.2 387.5L462.2 387.5L463.2 387.5L464.2 387.4L465.2 387.4L466.2 387.4L467.2 387.3L468.2 387.3L469.2 387.3L470.2 387.2L471.2 387.2L472.2 387.2L473.2 387.1L474.2 387.1L475.2 387.1L476.2 387.0L477.2 387.0L478.2 387.0L479.2 386.9L480.2 386.9L481.2 386.9L482.2 386.9L483.2 386.8L484.2 386.8L485.2 386.8L486.1 386.8L487.1 386.8L488.1 386.7L489.1 386.7L490.1 386.7L491.1 386.7L492.1 386.7L493.1 386.7L494.1 386.6L495.1 386.6L496.1 386.6L497.1 386.6L498.1 386.6L499.1 386.6L500.1 386.6L501.1 386.6L502.1 386.6L503.1 386.6L504.1 386.6L505.1 386.6L506.1 386.6L507.0 386.7L508.0 386.7L509.0 386.7L510.0 386.8L511.0 386.8L512.0 386.9L513.0 386.9L514.0 387.0L514.9 387.0L515.9 387.1L516.9 387.1L517.9 387.2L518.9 387.3L519.9 387.3L520.9 387.4L521.9 387.5L522.9 387.6L523.8 387.6L524.8 387.7L525.8 387.8L526.8 387.9L527.8 387.9L528.8 388.0L529.8 388.1L530.8 388.2L531.7 388.2L532.7 388.3L533.7 388.4L534.7 388.5L535.7 388.5L536.7 388.6L537.7 388.7L538.7 388.7L539.7 388.8L540.6 388.8L541.6 388.9L542.6 388.9L543.6 389.0L544.6 389.0L545.6 389.1L546.6 389.1L547.6 389.1L548.5 389.2L549.5 389.2L550.5 389.2L551.5 389.2L552.5 389.2L553.5 389.2L554.5 389.2L555.5 389.2L556.4 389.2L557.4 389.2L558.4 389.2L559.4 389.2L560.4 389.2L561.4 389.2L562.4 389.2L563.3 389.2L564.3 389.2L565.3 389.2L566.3 389.2L567.3 389.2L568.3 389.2L569.3 389.2L570.3 389.2L571.2 389.2L572.2 389.2L573.2 389.2L574.2 389.2L575.2 389.2L576.2 389.2L577.2 389.2L578.1 389.2L579.1 389.2L580.1 389.2L581.1 389.2L582.1 389.2L583.1 389.2L584.1 389.2L585.0 389.2L586.0 389.2L587.0 389.2L588.0 389.2L589.0 389.2L590.0 389.2L591.0 389.2L592.0 389.2L592.9 389.2L593.9 389.2L594.9 389.2L595.9 389.2L596.9 389.2L597.9 389.2L598.9 389.2L599.8 389.2L600.8 389.2L601.8 389.2L602.8 389.2L603.8 389.2L604.8 389.2L605.8 389.2L606.8 389.1L607.7 389.1L608.7 389.1L609.7 389.0L610.7 389.0L611.7 388.9L612.7 388.9L613.7 388.8L614.7 388.7L615.6 388.7L616.6 388.6L617.6 388.5L618.6 388.4L619.6 388.3L620.6 388.2L621.6 388.1L622.6 388.0L623.6 387.9L624.5 387.8L625.5 387.7L626.5 387.6L627.5 387.4L628.5 387.3L629.5 387.2L630.5 387.1L631.5 386.9L632.4 386.8L633.4 386.7L634.4 386.6L635.4 386.4L636.4 386.3L637.4 386.2L638.4 386.0L639.4 385.9L640.4 385.8L641.3 385.6L642.3 385.5L643.3 385.4L644.3 385.2L645.3 385.1L646.3 385.0L647.3 384.8L648.3 384.7L649.2 384.6L650.2 384.5L651.2 384.3L652.2 384.2L653.2 384.1L654.2 384.0L655.2 383.9L656.2 383.7L657.2 383.6L658.2 383.5L659.2 383.4L660.2 383.2L661.2 383.1L662.2 383.0L663.2 382.9L664.2 382.7L665.1 382.6L666.1 382.5L667.1 382.3L668.1 382.2L669.1 382.0L670.1 381.9L671.1 381.8L672.1 381.6L673.1 381.5L674.1 381.3L675.1 381.2L676.1 381.1L677.1 380.9L678.1 380.8L679.1 380.6L680.1 380.5L681.1 380.3L682.1 380.2L683.1 380.1L684.1 379.9L685.1 379.8L686.1 379.6L687.1 379.5L688.1 379.4L689.0 379.2L690.0 379.1L691.0 379.0L692.0 378.8L693.0 378.7L694.0 378.6L695.0 378.4L696.0 378.3L697.0 378.2L698.0 378.0L699.0 377.9L700.0 377.8L701.0 377.7L702.0 377.6L703.0 377.4L704.0 377.3L705.0 377.2L706.0 377.1L707.0 377.0L708.0 376.9L709.0 376.7L710.0 376.6L711.0 376.5L712.0 376.4L713.0 376.3L714.0 376.2L715.0 376.1L715.9 376.0L716.9 375.8L717.9 375.7L718.9 375.6L719.9 375.5L720.9 375.4L721.9 375.3L722.9 375.2L723.9 375.1L724.9 375.0L725.9 374.9L726.9 374.8L727.9 374.7L728.9 374.5L729.9 374.4L730.9 374.3L731.9 374.2L732.9 374.1L733.9 374.0L734.9 373.9L735.9 373.8L736.9 373.7L737.9 373.6L738.9 373.5L739.9 373.4L740.9 373.3L741.9 373.2L742.9 373.1L743.9 373.0L744.9 372.9L745.8 372.8L746.8 372.7L747.8 372.6L748.8 372.5L749.8 372.4L750.8 372.3L751.8 372.2L752.8 372.1L753.8 372.0L754.8 371.9L755.8 371.8L756.8 371.7L757.8 371.6L758.8 371.5L759.8 371.4L760.8 371.2L761.8 371.1L762.8 371.0L763.8 370.9L764.8 370.8L765.8 370.7L766.8 370.6L767.8 370.5L768.8 370.4L769.8 370.3L770.8 370.2L771.8 370.1L772.8 370.0L773.8 369.9L774.8 369.8L775.7 369.7L776.7 369.6L777.7 369.5L778.7 369.3L779.7 369.2L780.7 369.1L781.7 369.0L782.7 368.9L783.7 368.8L784.7 368.7L785.7 368.6L786.7 368.5L787.7 368.3L788.7 368.2L789.7 368.1L790.7 368.0L791.7 367.9L792.7 367.8L793.7 367.7L794.7 367.5L795.7 367.4L796.7 367.3L797.7 367.2L798.7 367.1L799.7 366.9L800.7 366.8L801.7 366.7L802.7 366.6L803.7 366.5L804.7 366.4L805.7 366.2L806.7 366.1L807.6 366.0L808.6 365.9L809.6 365.8L810.6 365.6L811.6 365.5L812.6 365.4L813.6 365.3L814.6 365.1L815.6 365.0L816.6 364.9L817.6 364.8L818.6 364.7L819.6 364.5L820.6 364.4L821.6 364.3L822.6 364.2L823.6 364.0L824.6 363.9L825.6 363.8L826.6 363.7L827.6 363.6L828.6 363.4L829.6 363.3L830.6 363.2L831.6 363.1L832.6 362.9L833.6 362.8L834.6 362.7L835.6 362.6L836.6 362.4L837.6 362.3L838.6 362.2L839.6 362.0L840.6 361.9L841.5 361.8L842.5 361.7L843.5 361.5L844.5 361.4L845.5 361.3L846.5 361.2L847.5 361.0L848.5 360.9L849.5 360.8L850.5 360.7L851.5 360.5L852.5 360.4L853.5 360.3L854.5 360.1L855.5 360.0L856.5 359.9L857.5 359.8L858.5 359.6L859.5 359.5L860.5 359.4L861.5 359.2L862.5 359.1L863.5 359.0L864.5 358.9L865.5 358.7L866.5 358.6L867.5 358.5L868.5 358.4L869.5 358.2L870.5 358.1L871.5 358.0L872.5 357.8L873.5 357.7L874.5 357.6L875.4 357.5L876.4 357.3L877.4 357.2L878.4 357.1L879.4 356.9L880.4 356.8L881.4 356.7L882.4 356.6L883.4 356.4L884.4 356.3L885.4 356.2L886.4 356.0L887.4 355.9L888.4 355.8L889.4 355.7L890.4 355.5L891.4 355.4L892.4 355.3L893.4 355.1L894.4 355.0L895.4 354.9L896.4 354.8L897.4 354.7L898.4 354.5L899.4 354.4L900.4 354.3L901.4 354.2L902.4 354.1L903.4 353.9L904.3 353.8L905.3 353.7L906.3 353.6L907.3 353.5L908.3 353.4L909.3 353.2L910.3 353.1L911.3 353.0L912.3 352.9L913.3 352.8L914.3 352.7L915.3 352.6L916.3 352.5L917.3 352.4L918.3 352.2L919.3 352.1L920.3 352.0L921.3 351.9L922.3 351.8L923.3 351.7L924.3 351.6L925.3 351.5L926.3 351.4L927.2 351.2L928.2 351.1L929.2 351.0L930.2 350.9L931.2 350.8L932.2 350.7L933.2 350.6L934.2 350.5L935.2 350.3L936.2 350.2L937.2 350.1L938.2 350.0L939.2 349.9L940.2 349.8L941.2 349.6L942.2 349.5L943.2 349.4L944.2 349.3L945.2 349.2L946.2 349.0L947.2 348.9L948.2 348.8L949.2 348.7L950.2 348.6L951.1 348.4L952.1 348.3L953.1 348.2L954.1 348.0L955.1 347.9L956.1 347.8L957.1 347.6L958.1 347.5L959.1 347.4L960.1 347.2L961.1 347.1L962.1 346.9L963.1 346.8L964.1 346.7L965.1 346.5L966.1 346.4L967.1 346.2L968.1 346.1L969.1 345.9L970.1 345.8L971.1 345.6L972.1 345.4L973.1 345.3L974.1 345.1L975.0 344.9L976.0 344.8L977.0 344.6L978.0 344.4L979.0 344.3L980.0 344.1L981.0 343.9L982.0 343.7L983.0 343.6L984.0 343.4L985.0 343.2L986.0 343.0L987.0 342.8L988.0 342.5L989.0 342.2L990.0 341.9L991.0 341.6L992.0 341.5L993.0 342.2L994.0 344.0L995.0 346.7L996.0 350.0L997.0 353.4L998.0 356.8L999.0 359.7L1000.0 362.0L1001.0 363.9L1002.0 365.8L1003.0 367.6L1004.0 369.1L1005.0 370.1L1006.0 370.5L1007.0 369.2L1008.0 366.5L1009.0 364.0L1009.8 362.4L1010.6 360.9L1011.5 359.7L1012.3 359.2L1013.3 359.5L1014.3 360.1L1015.3 360.8L1016.3 361.4L1017.3 361.7L1018.3 361.3L1019.2 360.2L1020.2 358.7L1021.1 356.9L1022.1 355.0L1023.0 353.3L1024.0 352.0L1025.0 351.0L1026.0 350.0L1027.0 349.1L1027.9 348.3L1028.9 347.5L1029.9 346.6L1030.9 345.7L1031.8 344.7L1032.8 343.6L1033.8 342.6L1034.7 341.5L1035.7 340.4L1036.7 339.4L1037.7 338.4L1038.6 337.5L1039.6 336.8L1040.6 336.1L1041.5 335.6L1042.5 335.2L1043.5 334.9L1044.5 334.7L1045.5 334.4L1046.5 334.2L1047.5 333.9L1048.5 333.7L1049.5 333.5L1050.4 333.3L1051.4 333.1L1052.4 332.9L1053.4 332.7L1054.4 332.5L1055.4 332.3L1056.4 332.2L1057.4 332.0L1058.4 331.9L1059.4 331.7L1060.4 331.6L1061.4 331.5L1062.4 331.3L1063.4 331.2L1064.4 331.1L1065.3 331.0L1066.3 330.9L1067.3 330.8L1068.3 330.7L1069.3 330.6L1070.3 330.5L1071.3 330.4L1072.3 330.3L1073.3 330.2L1074.3 330.1L1075.3 330.1L1076.3 330.0L1077.3 329.9L1078.3 329.8L1079.3 329.8L1080.2 329.7L1081.2 329.6L1082.2 329.6L1083.2 329.5L1084.2 329.4L1085.2 329.3L1086.2 329.3L1087.2 329.2L1088.2 329.1L1089.2 329.0L1090.2 329.0L1091.2 328.9L1092.2 328.8L1093.2 328.7L1094.2 328.6L1095.2 328.6L1096.1 328.5L1097.1 328.4L1098.1 328.3L1099.1 328.2L1100.1 328.1L1101.1 328.0L1102.1 327.8L1103.1 327.7L1104.1 327.6L1105.1 327.5L1106.1 327.3L1107.1 327.2L1108.1 327.1L1109.1 326.9L1110.1 326.7L1111.0 326.6L1112.0 326.4L1113.0 326.2L1114.0 326.0L1115.0 325.8L1116.0 325.6L1117.0 325.4L1118.0 325.2L1119.0 324.9L1119.9 324.6L1120.9 324.3L1121.9 323.9L1122.8 323.5L1123.8 323.0L1124.8 322.6L1125.8 322.1L1126.7 321.7L1127.7 321.2L1128.7 320.8L1129.6 320.4L1130.6 320.1L1131.6 319.8L1132.6 319.5L1133.6 319.2L1134.6 318.9L1135.5 318.6L1136.5 318.3L1137.5 318.0L1138.5 317.7L1139.5 317.4L1140.5 317.1L1141.5 316.8L1142.5 316.5L1143.4 316.3L1144.4 316.0L1145.4 315.7L1146.4 315.5L1147.4 315.2L1148.4 315.0L1149.4 314.7L1150.4 314.5L1151.3 314.2L1152.3 314.0L1153.3 313.7L1154.3 313.5L1155.3 313.2L1156.3 313.0L1157.3 312.8L1158.3 312.5L1159.3 312.3L1160.2 312.1L1161.2 311.9L1162.2 311.6L1163.2 311.4L1164.2 311.2L1165.2 311.0L1166.2 310.7L1167.2 310.5L1168.1 310.3L1169.1 310.1L1170.1 309.9L1171.1 309.6L1172.1 309.4L1173.1 309.2L1174.1 309.0L1175.1 308.8L1176.0 308.6L1177.0 308.3L1178.0 308.1L1179.0 307.9L1180.0 307.7L1181.0 307.5L1182.0 307.3L1183.0 307.0L1184.0 306.8L1184.9 306.6L1185.9 306.4L1186.9 306.2L1187.9 306.0L1188.9 305.7L1189.9 305.5L1190.9 305.3L1191.9 305.1L1192.9 304.9L1193.9 304.7L1194.8 304.5L1195.8 304.3L1196.8 304.1L1197.8 303.9L1198.8 303.7L1199.8 303.5L1200.8 303.3L1201.8 303.1L1202.8 303.0L1203.8 302.8L1204.7 302.6L1205.7 302.5L1206.7 302.3L1207.7 302.1L1208.7 302.0L1209.7 301.9L1210.7 301.7L1211.7 301.6L1212.6 301.4L1213.6 301.2L1214.6 301.1L1215.6 300.9L1216.6 300.8L1217.6 300.6L1218.5 300.5L1219.5 300.3L1220.5 300.1L1221.5 300.0L1222.5 299.9L1223.5 299.7L1224.5 299.6L1225.4 299.4L1226.4 299.3L1227.4 299.2L1228.4 299.1L1229.4 298.9L1230.4 298.8L1231.4 298.7L1232.3 298.6L1233.3 298.5L1234.3 298.5L1235.3 298.4L1236.3 298.3L1237.3 298.3L1238.2 298.3L1239.2 298.2L1240.2 298.2L1241.2 298.2L1242.2 298.2L1243.2 298.2L1244.2 298.3L1245.2 298.4L1246.2 298.5L1247.2 298.6L1248.2 298.7L1249.2 298.9L1250.2 299.0L1251.2 299.2L1252.2 299.4L1253.2 299.6L1254.1 299.8L1255.1 300.1L1256.1 300.3L1257.1 300.5L1258.1 300.8L1259.1 301.1L1260.1 301.3L1261.1 301.6L1262.1 301.9L1263.1 302.2L1264.1 302.4L1265.1 302.7L1266.1 303.0L1267.1 303.3L1268.0 303.6L1269.0 304.0L1269.9 304.3L1270.9 304.7L1271.8 305.2L1272.8 305.6L1273.7 306.1L1274.7 306.6L1275.7 307.1L1276.6 307.6L1277.6 308.1L1278.5 308.7L1279.5 309.2L1280.4 309.8L1281.4 310.3L1282.3 310.9L1283.3 311.4L1284.2 312.0L1285.2 312.5L1286.2 313.1L1287.2 313.6L1288.2 314.2L1289.2 314.7L1290.2 315.3L1291.2 315.9L1292.2 316.4L1293.1 317.0L1294.1 317.6L1295.1 318.2L1296.1 318.8L1297.1 319.4L1298.1 320.0L1299.1 320.6L1300.1 321.3L1301.1 321.9L1302.1 322.6L1303.1 323.2L1304.1 323.9L1305.1 324.6L1306.1 325.3L1307.0 326.1L1308.0 326.8L1309.0 327.6L1310.0 328.4L1311.0 329.2L1312.0 330.0L1313.0 330.8L1314.0 331.7L1315.0 332.6L1315.9 333.5L1316.8 334.5L1317.8 335.6L1318.8 336.7L1319.7 337.8L1320.7 339.0L1321.6 340.2L1322.6 341.4L1323.5 342.6L1324.5 343.9L1325.4 345.1L1326.4 346.4L1327.3 347.9L1328.3 349.4L1329.3 351.0L1330.2 352.7L1331.2 354.3L1332.2 355.9L1333.1 357.4L1334.1 358.9L1335.1 360.2L1336.0 361.3L1337.0 362.3L1338.0 363.1L1338.9 363.9L1339.8 364.7L1340.8 365.4L1341.8 366.1L1342.7 366.7L1343.7 367.3L1344.6 367.9L1345.5 368.5L1346.5 369.0L1347.5 369.5L1348.4 370.0L1349.4 370.5L1350.3 370.9L1351.2 371.4L1352.2 371.8L1353.2 372.2L1354.1 372.7L1355.1 373.1L1356.0 373.6L1357.0 374.0L1358.0 374.4L1358.9 374.7L1359.9 375.1L1360.8 375.3L1361.8 375.5L1362.7 375.7L1363.7 375.7L1364.7 375.7L1365.6 375.5L1366.6 375.4L1367.6 375.1L1368.5 374.8L1369.5 374.5L1370.4 374.2L1371.4 373.8L1372.4 373.2L1373.3 372.2L1374.2 370.9L1375.2 369.4L1376.2 367.7L1377.1 366.0L1378.0 364.4L1379.0 362.8L1380.0 361.4L1380.9 360.4L1381.8 359.7L1382.8 359.4L1383.8 359.5L1384.7 359.8L1385.7 360.3L1386.6 361.0L1387.6 361.7L1388.5 362.6L1389.5 363.4L1390.5 364.3L1391.4 365.1L1392.4 365.8L1393.3 366.5L1394.3 367.0L1395.3 367.4L1396.2 367.9L1397.2 368.3L1398.1 368.8L1399.1 369.2L1400.0 369.6L1401.0 370.0L1402.0 370.3L1402.9 370.5L1403.9 370.7L1404.8 370.9L1405.8 370.9L1406.8 370.7L1407.7 370.3L1408.7 369.7L1409.6 369.0L1410.5 368.2L1411.5 367.4L1412.5 366.7L1413.4 366.1L1414.4 365.6L1415.3 365.0L1416.3 364.5L1417.2 363.9L1418.2 363.3L1419.2 362.8L1420.1 362.3L1421.1 361.7L1422.1 361.3L1423.0 360.8L1424.0 360.4L1425.0 360.1L1425.9 359.8L1426.9 359.6L1427.8 359.4L1428.8 359.4L1429.8 359.4L1430.7 359.6L1431.7 359.8L1432.6 360.0L1433.6 360.4L1434.5 360.7L1435.5 361.2L1436.4 361.6L1437.4 362.1L1438.4 362.7L1439.3 363.2L1440.3 363.8L1441.2 364.4L1442.2 365.0L1443.1 365.5L1444.1 366.1L1445.0 366.8L1446.0 367.6L1446.9 368.6L1447.9 369.6L1448.8 370.6L1449.8 371.6L1450.8 372.5L1451.7 373.2L1452.6 373.6L1453.6 373.8L1454.6 373.6L1455.5 372.9L1456.5 372.0L1457.4 370.9L1458.4 369.8L1459.4 368.9L1460.3 368.2L1461.3 368.0L1462.3 368.1L1463.2 368.2L1464.2 368.5L1465.1 368.8L1466.1 369.3L1467.0 369.7L1468.0 370.3L1468.9 370.8L1469.9 371.4L1470.9 371.9L1471.8 372.4L1472.8 373.0L1473.7 373.4L1474.7 373.9L1475.6 374.2L1476.6 374.5L1477.5 374.6L1478.5 374.7L1479.5 374.5L1480.4 374.0L1481.4 373.1L1482.3 372.0L1483.3 370.8L1484.2 369.3L1485.2 367.8L1486.2 366.2L1487.1 364.6L1488.1 363.1L1489.0 361.7L1490.0 360.4L1491.0 359.1L1491.9 357.8L1492.9 356.3L1493.8 354.8L1494.8 353.2L1495.7 351.7L1496.7 350.2L1497.7 348.8L1498.6 347.5L1499.6 346.4L1500.5 345.4L1501.5 344.7L1502.4 344.3L1503.4 344.1L1504.4 344.4L1505.3 345.4L1506.3 346.8L1507.2 348.6L1508.2 350.6L1509.2 352.8L1510.1 355.0L1511.1 357.0L1512.0 358.9L1513.0 360.4L1514.0 361.7L1514.9 363.2L1515.8 364.6L1516.8 366.0L1517.8 367.2L1518.7 368.1L1519.6 368.8L1520.6 369.0L1521.6 368.8L1522.5 368.3L1523.5 367.4L1524.4 366.3L1525.4 365.1L1526.3 363.7L1527.3 362.3L1528.3 360.9L1529.2 359.5L1530.2 358.3L1531.1 357.2L1532.1 356.3L1533.0 355.8L1534.0 355.6L1535.0 355.7L1535.9 355.9L1536.9 356.3L1537.8 356.7L1538.8 357.2L1539.8 357.8L1540.7 358.5L1541.7 359.1L1542.6 359.8L1543.6 360.4L1544.5 361.0L1545.4 361.7L1546.3 362.4L1547.3 363.2L1548.2 364.0L1549.1 364.9L1550.0 365.7L1551.0 366.7L1551.9 367.9L1552.9 369.1L1553.8 370.5L1554.8 371.9L1555.8 373.2L1556.7 374.5L1557.7 375.7L1558.6 376.7L1559.6 377.4L1560.5 377.9L1561.5 378.1L1562.5 378.1L1563.4 378.0L1564.4 377.8L1565.3 377.6L1566.3 377.3L1567.2 377.0L1568.2 376.6L1569.1 376.2L1570.1 375.8L1571.1 375.3L1572.0 374.8L1573.0 374.3L1573.9 373.8L1574.9 373.3L1575.8 372.8L1576.8 372.3L1577.7 371.9L1578.7 371.4L1579.7 370.9L1580.7 370.3L1581.7 369.7L1582.7 369.0L1583.7 368.3L1584.7 367.6L1585.7 366.8L1586.7 366.0L1587.7 365.2L1588.7 364.3L1589.7 363.5L1590.7 362.7L1591.6 361.9L1592.6 361.1L1593.6 360.4L1594.6 359.6L1595.6 359.0L1596.6 358.4L1597.6 357.8L1598.6 357.3L1599.6 356.9L1600.6 356.6L1601.6 356.3L1602.6 356.2L1603.6 356.1L1604.5 356.1L1605.5 356.1L1606.4 356.1L1607.4 356.1L1608.3 356.1L1609.3 356.1L1610.2 356.1L1611.2 356.1L1612.2 356.1L1613.1 356.1L1614.0 356.1L1615.0 356.1L1616.0 356.0L1616.9 355.9L1617.9 355.6L1618.8 355.3L1619.8 354.9L1620.8 354.4L1621.7 353.8L1622.7 353.2L1623.6 352.5L1624.6 351.8L1625.5 351.1L1626.5 350.3L1627.5 349.5L1628.4 348.7L1629.4 347.9L1630.3 347.1L1631.3 346.3L1632.3 345.5L1633.2 344.7L1634.2 344.0L1635.1 343.3L1636.1 342.7L1637.1 342.1L1638.0 341.5L1639.0 340.8L1639.9 340.2L1640.9 339.5L1641.9 338.8L1642.8 338.1L1643.8 337.5L1644.7 336.8L1645.7 336.1L1646.7 335.5L1647.6 334.8L1648.6 334.2L1649.5 333.6L1650.5 332.9L1651.4 332.4L1652.4 331.8L1653.4 331.2L1654.3 330.7L1655.3 330.2L1656.2 329.7L1657.2 329.3L1658.2 328.9L1659.2 328.5L1660.2 328.1L1661.2 327.7L1662.2 327.3L1663.2 326.9L1664.2 326.6L1665.2 326.2L1666.2 325.9L1667.2 325.5L1668.2 325.2L1669.1 324.9L1670.1 324.6L1671.1 324.3L1672.1 324.0L1673.1 323.7L1674.1 323.4L1675.1 323.2L1676.1 322.9L1677.1 322.6L1678.1 322.4L1679.1 322.1L1680.1 321.8L1681.1 321.6L1682.1 321.3L1683.1 321.0L1684.1 320.8L1685.1 320.5L1686.1 320.3L1687.1 320.0L1688.1 319.7L1689.1 319.4L1690.1 319.2L1691.1 318.9L1692.0 318.6L1693.0 318.3L1694.0 318.0L1695.0 317.7L1696.0 317.4L1697.0 317.1L1698.0 316.8L1699.0 316.4L1700.0 316.1L1701.0 315.7L1702.0 315.4L1703.0 315.0L1704.0 314.6L1705.0 314.1L1706.0 313.6L1707.0 313.1L1708.0 312.6L1709.0 312.0L1710.0 311.4L1711.0 310.8L1712.0 310.1L1713.0 309.5L1714.0 308.9L1715.0 308.3L1716.0 307.7L1717.0 307.2L1718.0 306.7L1719.0 306.2L1720.0 305.7L1721.0 305.4L1722.0 305.0L1723.0 304.8L1724.0 304.6L1725.0 304.4L1726.0 304.4L1727.0 304.6L1727.9 305.1L1728.9 305.9L1729.8 306.8L1730.8 307.7L1731.8 308.4L1732.7 309.0L1733.7 309.2L1734.7 309.1L1735.7 309.0L1736.7 308.7L1737.7 308.4L1738.7 307.9L1739.7 307.4L1740.7 306.9L1741.7 306.3L1742.7 305.6L1743.7 305.0L1744.7 304.3L1745.7 303.6L1746.7 302.9L1747.7 302.3L1748.7 301.6L1749.7 301.0L1750.7 300.5L1751.7 300.0L1752.7 299.5L1753.7 299.2L1754.7 298.9L1755.7 298.8L1756.7 298.7L1757.7 298.9L1758.6 299.3L1759.5 300.0L1760.5 300.9L1761.5 302.1L1762.4 303.4L1763.3 304.8L1764.3 306.4L1765.2 308.8L1766.2 312.3L1767.1 316.6L1768.1 321.0L1769.0 325.0L1770.0 329.4L1771.0 334.3L1771.9 338.2L1772.9 339.8L1773.7 337.9L1774.5 333.5L1775.2 328.6L1776.0 325.0L1776.9 322.6L1777.8 320.5L1778.7 318.9L1779.6 317.8L1780.6 317.0L1781.5 316.3L1782.5 315.6L1783.4 315.0L1784.4 314.4L1785.3 313.8L1786.3 313.3L1787.2 312.9L1788.2 312.5L1789.2 312.1L1790.1 311.8L1791.1 311.6L1792.0 311.4L1793.0 311.2L1793.9 311.1L1794.9 311.1L1795.9 311.1L1796.9 311.1L1797.9 311.1L1798.9 311.1L1799.8 311.1L1800.8 311.1L1801.8 311.1L1802.8 311.1L1803.8 311.1L1804.8 311.1L1805.8 311.1L1806.8 311.1L1807.7 311.1L1808.7 311.1L1809.7 311.1L1810.7 311.1L1811.7 311.1L1812.7 311.1L1813.7 311.1L1814.7 311.1L1815.6 311.1L1816.6 311.1L1817.6 311.1L1818.6 311.1L1819.6 311.1L1820.6 311.1L1821.6 311.1L1822.6 311.1L1823.5 311.1L1824.5 311.1L1825.5 311.1L1826.5 311.1L1827.5 311.1L1828.5 311.1L1829.4 311.2L1830.4 311.4L1831.3 311.5L1832.3 311.8L1833.2 312.1L1834.2 312.4L1835.1 312.7L1836.1 313.1L1837.0 313.5L1838.0 314.0L1839.0 315.0L1839.9 316.3L1840.9 316.9L1841.6 315.7L1842.3 313.5L1843.0 312.0L1843.9 311.5L1844.8 311.1L1845.8 310.9L1846.7 310.7L1847.6 310.5L1848.5 310.2L1849.5 309.9L1850.5 309.5L1851.5 309.2L1852.4 308.9L1853.4 308.5L1854.4 308.2L1855.4 307.9L1856.4 307.5L1857.4 307.2L1858.3 306.9L1859.3 306.5L1860.3 306.2L1861.3 305.8L1862.3 305.5L1863.3 305.2L1864.2 304.8L1865.2 304.5L1866.2 304.1L1867.2 303.8L1868.2 303.4L1869.2 303.1L1870.1 302.8L1871.1 302.4L1872.1 302.1L1873.1 301.7L1874.1 301.4L1875.1 301.0L1876.0 300.7L1877.0 300.4L1878.0 300.0L1879.0 299.7L1880.0 299.4L1881.0 299.0L1881.9 298.7L1882.9 298.4L1883.9 298.0L1884.9 297.7L1885.9 297.4L1886.9 297.0L1887.8 296.7L1888.8 296.4L1889.8 296.1L1890.8 295.8L1891.8 295.4L1892.7 295.1L1893.7 294.8L1894.7 294.5L1895.7 294.2L1896.7 293.8L1897.6 293.5L1898.6 293.2L1899.6 292.9L1900.6 292.6L1901.6 292.2L1902.5 291.9L1903.5 291.6L1904.5 291.3L1905.5 291.0L1906.4 290.7L1907.4 290.4L1908.4 290.0L1909.4 289.7L1910.4 289.4L1911.3 289.1L1912.3 288.8L1913.3 288.5L1914.3 288.1L1915.3 287.8L1916.2 287.5L1917.2 287.2L1918.2 286.9L1919.2 286.6L1920.2 286.3L1921.1 285.9L1922.1 285.6L1923.1 285.3" stroke="#a982d4"/>
</g>
<g stroke="#000" stroke-width="9" fill="none">
<rect x="197.5" y="37" width="1728" height="1273.5"/>
<line x1="443.6" y1="1286" x2="443.6" y2="1308"/><line x1="690.3" y1="1286" x2="690.3" y2="1308"/><line x1="937.1" y1="1286" x2="937.1" y2="1308"/><line x1="1183.9" y1="1286" x2="1183.9" y2="1308"/><line x1="1430.6" y1="1286" x2="1430.6" y2="1308"/><line x1="1677.4" y1="1286" x2="1677.4" y2="1308"/>
</g>
<g font-family="Liberation Serif, 'Times New Roman', serif" font-weight="bold" font-size="66" text-anchor="middle" fill="#000"><text x="196.8" y="1389">4000</text><text x="443.6" y="1389">3500</text><text x="690.3" y="1389">3000</text><text x="937.1" y="1389">2500</text><text x="1183.9" y="1389">2000</text><text x="1430.6" y="1389">1500</text><text x="1677.4" y="1389">1000</text><text x="1924.1" y="1389">500</text></g>
<g font-family="Liberation Serif, 'Times New Roman', serif" font-weight="bold" font-size="64" fill="#000"><text x="319.5" y="339.5" textLength="194.0" lengthAdjust="spacingAndGlyphs"><tspan>g-C</tspan><tspan dy="17.5" font-size="43">3</tspan><tspan dy="-17.5">N</tspan><tspan dy="17.5" font-size="43">4</tspan></text><text x="319.5" y="473.7" textLength="223.5" lengthAdjust="spacingAndGlyphs"><tspan>Bi</tspan><tspan dy="17.5" font-size="43">2</tspan><tspan dy="-17.5">WO</tspan><tspan dy="17.5" font-size="43">6</tspan></text><text x="317.7" y="607.8" textLength="472.0" lengthAdjust="spacingAndGlyphs"><tspan>3g-C</tspan><tspan dy="17.5" font-size="43">3</tspan><tspan dy="-17.5">N</tspan><tspan dy="17.5" font-size="43">4</tspan><tspan dy="-17.5">/Bi</tspan><tspan dy="17.5" font-size="43">2</tspan><tspan dy="-17.5">WO</tspan><tspan dy="17.5" font-size="43">6</tspan></text><text x="317.7" y="737.8" textLength="472.0" lengthAdjust="spacingAndGlyphs"><tspan>2g-C</tspan><tspan dy="17.5" font-size="43">3</tspan><tspan dy="-17.5">N</tspan><tspan dy="17.5" font-size="43">4</tspan><tspan dy="-17.5">/Bi</tspan><tspan dy="17.5" font-size="43">2</tspan><tspan dy="-17.5">WO</tspan><tspan dy="17.5" font-size="43">6</tspan></text><text x="317.7" y="897.8" textLength="470.0" lengthAdjust="spacingAndGlyphs"><tspan>1g-C</tspan><tspan dy="17.5" font-size="43">3</tspan><tspan dy="-17.5">N</tspan><tspan dy="17.5" font-size="43">4</tspan><tspan dy="-17.5">/Bi</tspan><tspan dy="17.5" font-size="43">2</tspan><tspan dy="-17.5">WO</tspan><tspan dy="17.5" font-size="43">6</tspan></text></g>
<g font-family="Liberation Serif, 'Times New Roman', serif" fill="#111"><text font-size="66.3" transform="translate(739.6 1176.5) rotate(-90)">2926.09</text><text font-size="63.9" transform="translate(812.9 1179.4) rotate(-90)">2849.91</text><text font-size="64.0" transform="translate(1013.8 1206.6) rotate(-90)">2361.51</text><text font-size="65.9" transform="translate(1078.4 1182.1) rotate(-90)">2341.26</text><text font-size="63.9" transform="translate(1524.9 1167.6) rotate(-90)">1384.69</text><text font-size="63.8" transform="translate(1833.6 1131.9) rotate(-90)">720.31</text><text font-size="65.3" transform="translate(1892.4 1115.3) rotate(-90)">668.72</text>
<text x="1727.7" y="411.8" font-size="64.5">806.3</text></g>
<text font-family="Liberation Serif, 'Times New Roman', serif" font-weight="bold" font-size="107" fill="#000" transform="translate(102.5 1140.7) rotate(-90)">Transmittance (a.u.)</text>
<g font-family="Liberation Serif, 'Times New Roman', serif" font-weight="bold" fill="#000">
<text x="556.1" y="1526" font-size="112">Wavenumber (cm</text>
<text x="1446.3" y="1495" font-size="88">−</text>
<text x="1492.4" y="1491" font-size="75">1</text>
<text x="1528.3" y="1526" font-size="112">)</text>
</g>
</g>
</svg>
</div>
</body></html>
